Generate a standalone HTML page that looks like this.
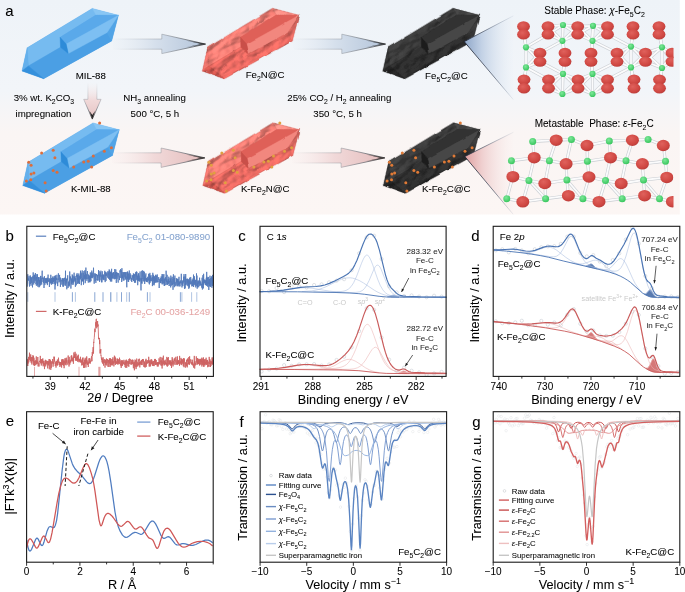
<!DOCTYPE html><html><head><meta charset="utf-8"><title>Figure</title><style>html,body{margin:0;padding:0;background:#fff;width:685px;height:592px;overflow:hidden;}svg{display:block;}</style></head><body><svg width="685" height="592" viewBox="0 0 685 592" font-family='&quot;Liberation Sans&quot;, Arial, sans-serif'>
<rect x="0" y="0" width="685" height="592" fill="#ffffff"/>
<defs><linearGradient id="bgA" x1="0" y1="0" x2="0" y2="1"><stop offset="0" stop-color="#eef3f8"/><stop offset="0.42" stop-color="#f2f5f9"/><stop offset="0.62" stop-color="#faf5f4"/><stop offset="1" stop-color="#fcf6f4"/></linearGradient><linearGradient id="arB" x1="0" y1="0" x2="1" y2="0"><stop offset="0" stop-color="#e8eef5" stop-opacity="0.2"/><stop offset="0.45" stop-color="#d6e0ec"/><stop offset="1" stop-color="#b3c4da"/></linearGradient><linearGradient id="arR" x1="0" y1="0" x2="1" y2="0"><stop offset="0" stop-color="#f8ecec" stop-opacity="0.2"/><stop offset="0.45" stop-color="#f1d9d9"/><stop offset="1" stop-color="#e4bcbc"/></linearGradient><linearGradient id="arEdge" x1="0" y1="0" x2="1" y2="0"><stop offset="0" stop-color="#8b9098" stop-opacity="0"/><stop offset="0.5" stop-color="#8b9098" stop-opacity="0.55"/><stop offset="0.75" stop-color="#6b7078" stop-opacity="0.9"/><stop offset="1" stop-color="#222" stop-opacity="1"/></linearGradient><linearGradient id="arEdgeV" x1="0" y1="0" x2="0" y2="1"><stop offset="0" stop-color="#8b9098" stop-opacity="0"/><stop offset="0.5" stop-color="#8b9098" stop-opacity="0.55"/><stop offset="0.75" stop-color="#6b7078" stop-opacity="0.9"/><stop offset="1" stop-color="#222" stop-opacity="1"/></linearGradient><linearGradient id="arV" x1="0" y1="0" x2="0" y2="1"><stop offset="0" stop-color="#f7eeee" stop-opacity="0"/><stop offset="0.5" stop-color="#f0d8d8"/><stop offset="1" stop-color="#e6c2c2"/></linearGradient><linearGradient id="coneB" x1="0" y1="0" x2="1" y2="0"><stop offset="0" stop-color="#8ea6c8"/><stop offset="0.35" stop-color="#c2d1e5"/><stop offset="1" stop-color="#eef3f9" stop-opacity="0.3"/></linearGradient><linearGradient id="coneR" x1="0" y1="0" x2="1" y2="0"><stop offset="0" stop-color="#dea0a0"/><stop offset="0.35" stop-color="#efcfcf"/><stop offset="1" stop-color="#fbf3f2" stop-opacity="0.3"/></linearGradient><radialGradient id="gR" cx="0.4" cy="0.35" r="0.7"><stop offset="0" stop-color="#e0615c"/><stop offset="0.7" stop-color="#cf4742"/><stop offset="1" stop-color="#b73c3a"/></radialGradient><radialGradient id="gG" cx="0.4" cy="0.35" r="0.7"><stop offset="0" stop-color="#7ee89a"/><stop offset="1" stop-color="#34c45a"/></radialGradient><filter id="bumpR" x="-5%" y="-5%" width="110%" height="110%" color-interpolation-filters="sRGB"><feTurbulence type="fractalNoise" baseFrequency="0.08 0.15" numOctaves="2" seed="7" result="n"/><feDiffuseLighting in="n" surfaceScale="3.5" lighting-color="#ffffff" diffuseConstant="1" result="l"><feDistantLight azimuth="235" elevation="50"/></feDiffuseLighting><feComposite in="SourceGraphic" in2="l" operator="arithmetic" k1="0.45" k2="0.7" k3="0" k4="0"/></filter><filter id="bumpSR" x="-5%" y="-5%" width="110%" height="110%" color-interpolation-filters="sRGB"><feTurbulence type="fractalNoise" baseFrequency="0.08 0.15" numOctaves="2" seed="7" result="n"/><feDiffuseLighting in="n" surfaceScale="2.1" lighting-color="#ffffff" diffuseConstant="1" result="l"><feDistantLight azimuth="235" elevation="50"/></feDiffuseLighting><feComposite in="SourceGraphic" in2="l" operator="arithmetic" k1="0.225" k2="0.82675" k3="0" k4="0"/></filter><filter id="bumpB" x="-5%" y="-5%" width="110%" height="110%" color-interpolation-filters="sRGB"><feTurbulence type="fractalNoise" baseFrequency="0.08 0.15" numOctaves="2" seed="9" result="n"/><feDiffuseLighting in="n" surfaceScale="3.5" lighting-color="#ffffff" diffuseConstant="1" result="l"><feDistantLight azimuth="235" elevation="50"/></feDiffuseLighting><feComposite in="SourceGraphic" in2="l" operator="arithmetic" k1="0.6" k2="0.58" k3="0" k4="0"/></filter><filter id="bumpSB" x="-5%" y="-5%" width="110%" height="110%" color-interpolation-filters="sRGB"><feTurbulence type="fractalNoise" baseFrequency="0.08 0.15" numOctaves="2" seed="9" result="n"/><feDiffuseLighting in="n" surfaceScale="2.1" lighting-color="#ffffff" diffuseConstant="1" result="l"><feDistantLight azimuth="235" elevation="50"/></feDiffuseLighting><feComposite in="SourceGraphic" in2="l" operator="arithmetic" k1="0.3" k2="0.769" k3="0" k4="0"/></filter><filter id="roughD" x="-5%" y="-5%" width="110%" height="110%"><feTurbulence type="fractalNoise" baseFrequency="0.08" numOctaves="2" seed="5" result="t"/><feDisplacementMap in="SourceGraphic" in2="t" scale="2.8" xChannelSelector="R" yChannelSelector="G"/></filter><linearGradient id="edgeB" gradientUnits="userSpaceOnUse" x1="464" y1="0" x2="514" y2="0"><stop offset="0" stop-color="#1c2230"/><stop offset="0.45" stop-color="#4a5466" stop-opacity="0.7"/><stop offset="1" stop-color="#8090a8" stop-opacity="0.1"/></linearGradient><linearGradient id="edgeB2" gradientUnits="userSpaceOnUse" x1="464" y1="0" x2="514" y2="0"><stop offset="0" stop-color="#1c2230"/><stop offset="0.6" stop-color="#4a5466" stop-opacity="0.8"/><stop offset="1" stop-color="#8090a8" stop-opacity="0.1"/></linearGradient><clipPath id="clipA"><rect x="0" y="0" width="685" height="214.5"/></clipPath><clipPath id="clipS1"><rect x="513" y="18" width="160.5" height="84"/></clipPath><clipPath id="clipS2"><rect x="500" y="128" width="173.5" height="86.5"/></clipPath></defs>
<rect x="0" y="0" width="679.8" height="214.5" fill="url(#bgA)"/>
<polygon points="112.9,39 161.8,39 161.8,34.2 205.6,44.1 161.8,53.6 161.8,49.2 112.9,49.2" fill="url(#arB)"/>
<polyline points="112.9,39 161.8,39 161.8,34.2 205.6,44.1 161.8,53.6 161.8,49.2 112.9,49.2" fill="none" stroke="url(#arEdge)" stroke-width="0.8" stroke-linejoin="miter"/>
<polygon points="186.8,40.7 205.6,44.1 186.8,47.1 201.6,44.1" fill="#222"/>
<polygon points="292.9,39 341.8,39 341.8,34.2 385.6,44.1 341.8,53.6 341.8,49.2 292.9,49.2" fill="url(#arB)"/>
<polyline points="292.9,39 341.8,39 341.8,34.2 385.6,44.1 341.8,53.6 341.8,49.2 292.9,49.2" fill="none" stroke="url(#arEdge)" stroke-width="0.8" stroke-linejoin="miter"/>
<polygon points="366.8,40.7 385.6,44.1 366.8,47.1 381.6,44.1" fill="#222"/>
<polygon points="112.2,152.8 161.1,152.8 161.1,148 204.9,157.9 161.1,167.4 161.1,163 112.2,163" fill="url(#arR)"/>
<polyline points="112.2,152.8 161.1,152.8 161.1,148 204.9,157.9 161.1,167.4 161.1,163 112.2,163" fill="none" stroke="url(#arEdge)" stroke-width="0.8" stroke-linejoin="miter"/>
<polygon points="186.1,154.5 204.9,157.9 186.1,160.9 200.9,157.9" fill="#222"/>
<polygon points="292.2,152.8 341.1,152.8 341.1,148 384.9,157.9 341.1,167.4 341.1,163 292.2,163" fill="url(#arR)"/>
<polyline points="292.2,152.8 341.1,152.8 341.1,148 384.9,157.9 341.1,167.4 341.1,163 292.2,163" fill="none" stroke="url(#arEdge)" stroke-width="0.8" stroke-linejoin="miter"/>
<polygon points="366.1,154.5 384.9,157.9 366.1,160.9 380.9,157.9" fill="#222"/>
<polygon points="87.9,82.4 96.9,82.4 96.9,99.3 101.1,99.3 92.3,119.1 83.7,99.3 87.9,99.3" fill="url(#arV)"/>
<polyline points="96.9,82.4 96.9,99.3 101.1,99.3 92.3,119.1 83.7,99.3 87.9,99.3 87.9,82.4" fill="none" stroke="url(#arEdgeV)" stroke-width="0.8"/>
<polygon points="89.5,111 92.3,119.1 95.1,111 92.3,115" fill="#222"/>
<g transform="translate(0 0)">
<polygon points="27.2,47.8 92.3,8.4 118.4,15.3 111.7,40.9 43.7,78.7 22,71" fill="#5aa9ea"/>
<polygon points="27.2,47.8 92.3,8.4 95.9,15.1 60.1,37.3 60.5,47.3 28.4,65.9" fill="#76bbf0" stroke="#76bbf0" stroke-width="0.4" stroke-linejoin="round"/>
<polygon points="28.4,65.9 60.5,47.3 68.3,53.6 107.1,32.5 111.7,40.9 43.7,78.7" fill="#4b9fe4" stroke="#4b9fe4" stroke-width="0.4" stroke-linejoin="round"/>
<polygon points="118.4,15.3 111.7,40.9 107.1,32.5" fill="#52a4e6" stroke="#52a4e6" stroke-width="0.4" stroke-linejoin="round"/>
<polygon points="92.3,8.4 118.4,15.3 95.9,15.1" fill="#88c6f4" stroke="#88c6f4" stroke-width="0.4" stroke-linejoin="round"/>
<polygon points="27.2,47.8 28.4,65.9 22,71" fill="#64b0ec" stroke="#64b0ec" stroke-width="0.4" stroke-linejoin="round"/>
<polygon points="22,71 28.4,65.9 43.7,78.7" fill="#3590dc" stroke="#3590dc" stroke-width="0.4" stroke-linejoin="round"/>
<polygon points="95.9,15.1 118.4,15.3 66.2,44.1 60.1,37.3" fill="#5aa9ea" stroke="#5aa9ea" stroke-width="0.4" stroke-linejoin="round"/>
<polygon points="118.4,15.3 107.1,32.5 68.3,53.6 66.2,44.1" fill="#7dbff2" stroke="#7dbff2" stroke-width="0.4" stroke-linejoin="round"/>
<polygon points="60.1,37.3 66.2,44.1 68.3,53.6 60.5,47.3" fill="#2e8bd8" stroke="#2e8bd8" stroke-width="0.4" stroke-linejoin="round"/>
</g>
<g transform="translate(180.5 0)">
<g filter="url(#roughD)">
<polygon points="27.2,47.8 92.3,8.4 118.4,15.3 111.7,40.9 43.7,78.7 22,71" fill="#df6159"/>
<g transform="rotate(-31 70 43)" filter="url(#bumpR)"><g transform="rotate(31 70 43)">
<polygon points="27.2,47.8 92.3,8.4 95.9,15.1 60.1,37.3 60.5,47.3 28.4,65.9" fill="#ee7b72" stroke="#ee7b72" stroke-width="0.4" stroke-linejoin="round"/>
<polygon points="28.4,65.9 60.5,47.3 68.3,53.6 107.1,32.5 111.7,40.9 43.7,78.7" fill="#e3675f" stroke="#e3675f" stroke-width="0.4" stroke-linejoin="round"/>
<polygon points="118.4,15.3 111.7,40.9 107.1,32.5" fill="#e06a62" stroke="#e06a62" stroke-width="0.4" stroke-linejoin="round"/>
<polygon points="92.3,8.4 118.4,15.3 95.9,15.1" fill="#f28a81" stroke="#f28a81" stroke-width="0.4" stroke-linejoin="round"/>
<polygon points="27.2,47.8 28.4,65.9 22,71" fill="#e9736b" stroke="#e9736b" stroke-width="0.4" stroke-linejoin="round"/>
<polygon points="22,71 28.4,65.9 43.7,78.7" fill="#d35850" stroke="#d35850" stroke-width="0.4" stroke-linejoin="round"/>
</g></g>
<polygon points="95.9,15.1 118.4,15.3 66.2,44.1 60.1,37.3" fill="#df6159" stroke="#df6159" stroke-width="0.4" stroke-linejoin="round"/>
<polygon points="118.4,15.3 107.1,32.5 68.3,53.6 66.2,44.1" fill="#f2877e" stroke="#f2877e" stroke-width="0.4" stroke-linejoin="round"/>
<polygon points="60.1,37.3 66.2,44.1 68.3,53.6 60.5,47.3" fill="#c9504a" stroke="#c9504a" stroke-width="0.4" stroke-linejoin="round"/>
</g>
</g>
<g transform="translate(361 0)">
<g filter="url(#roughD)">
<polygon points="27.2,47.8 92.3,8.4 118.4,15.3 111.7,40.9 43.7,78.7 22,71" fill="#303030"/>
<g transform="rotate(-31 70 43)" filter="url(#bumpB)"><g transform="rotate(31 70 43)">
<polygon points="27.2,47.8 92.3,8.4 95.9,15.1 60.1,37.3 60.5,47.3 28.4,65.9" fill="#3b3b3b" stroke="#3b3b3b" stroke-width="0.4" stroke-linejoin="round"/>
<polygon points="28.4,65.9 60.5,47.3 68.3,53.6 107.1,32.5 111.7,40.9 43.7,78.7" fill="#2e2e2e" stroke="#2e2e2e" stroke-width="0.4" stroke-linejoin="round"/>
<polygon points="118.4,15.3 111.7,40.9 107.1,32.5" fill="#363636" stroke="#363636" stroke-width="0.4" stroke-linejoin="round"/>
<polygon points="92.3,8.4 118.4,15.3 95.9,15.1" fill="#444444" stroke="#444444" stroke-width="0.4" stroke-linejoin="round"/>
<polygon points="27.2,47.8 28.4,65.9 22,71" fill="#353535" stroke="#353535" stroke-width="0.4" stroke-linejoin="round"/>
<polygon points="22,71 28.4,65.9 43.7,78.7" fill="#252525" stroke="#252525" stroke-width="0.4" stroke-linejoin="round"/>
</g></g>
<polygon points="95.9,15.1 118.4,15.3 66.2,44.1 60.1,37.3" fill="#303030" stroke="#303030" stroke-width="0.4" stroke-linejoin="round"/>
<polygon points="118.4,15.3 107.1,32.5 68.3,53.6 66.2,44.1" fill="#474747" stroke="#474747" stroke-width="0.4" stroke-linejoin="round"/>
<polygon points="60.1,37.3 66.2,44.1 68.3,53.6 60.5,47.3" fill="#1f1f1f" stroke="#1f1f1f" stroke-width="0.4" stroke-linejoin="round"/>
</g>
</g>
<g transform="translate(0.8 114.5)">
<polygon points="27.2,47.8 92.3,8.4 118.4,15.3 111.7,40.9 43.7,78.7 22,71" fill="#5aa9ea"/>
<polygon points="27.2,47.8 92.3,8.4 95.9,15.1 60.1,37.3 60.5,47.3 28.4,65.9" fill="#76bbf0" stroke="#76bbf0" stroke-width="0.4" stroke-linejoin="round"/>
<polygon points="28.4,65.9 60.5,47.3 68.3,53.6 107.1,32.5 111.7,40.9 43.7,78.7" fill="#4b9fe4" stroke="#4b9fe4" stroke-width="0.4" stroke-linejoin="round"/>
<polygon points="118.4,15.3 111.7,40.9 107.1,32.5" fill="#52a4e6" stroke="#52a4e6" stroke-width="0.4" stroke-linejoin="round"/>
<polygon points="92.3,8.4 118.4,15.3 95.9,15.1" fill="#88c6f4" stroke="#88c6f4" stroke-width="0.4" stroke-linejoin="round"/>
<polygon points="27.2,47.8 28.4,65.9 22,71" fill="#64b0ec" stroke="#64b0ec" stroke-width="0.4" stroke-linejoin="round"/>
<polygon points="22,71 28.4,65.9 43.7,78.7" fill="#3590dc" stroke="#3590dc" stroke-width="0.4" stroke-linejoin="round"/>
<polygon points="95.9,15.1 118.4,15.3 66.2,44.1 60.1,37.3" fill="#5aa9ea" stroke="#5aa9ea" stroke-width="0.4" stroke-linejoin="round"/>
<polygon points="118.4,15.3 107.1,32.5 68.3,53.6 66.2,44.1" fill="#7dbff2" stroke="#7dbff2" stroke-width="0.4" stroke-linejoin="round"/>
<polygon points="60.1,37.3 66.2,44.1 68.3,53.6 60.5,47.3" fill="#2e8bd8" stroke="#2e8bd8" stroke-width="0.4" stroke-linejoin="round"/>
<circle cx="40.8" cy="38.4" r="1.5" fill="#dc6d3c"/>
<circle cx="52.4" cy="35.8" r="1.5" fill="#dc6d3c"/>
<circle cx="54.1" cy="43.2" r="1.5" fill="#dc6d3c"/>
<circle cx="27.9" cy="47.7" r="1.5" fill="#dc6d3c"/>
<circle cx="30.3" cy="50.7" r="1.5" fill="#dc6d3c"/>
<circle cx="30.3" cy="59.4" r="1.5" fill="#dc6d3c"/>
<circle cx="33.1" cy="58.6" r="1.5" fill="#dc6d3c"/>
<circle cx="25.6" cy="66.5" r="1.5" fill="#dc6d3c"/>
<circle cx="30" cy="65.2" r="1.5" fill="#dc6d3c"/>
<circle cx="52.4" cy="55.9" r="1.5" fill="#dc6d3c"/>
<circle cx="56.2" cy="57.7" r="1.5" fill="#dc6d3c"/>
<circle cx="44.3" cy="68.2" r="1.5" fill="#dc6d3c"/>
<circle cx="45.4" cy="76.4" r="1.5" fill="#dc6d3c"/>
<circle cx="72.9" cy="52.4" r="1.5" fill="#dc6d3c"/>
<circle cx="82.9" cy="47.5" r="1.5" fill="#dc6d3c"/>
<circle cx="87.4" cy="46.8" r="1.5" fill="#dc6d3c"/>
<circle cx="92.5" cy="41.4" r="1.5" fill="#dc6d3c"/>
<circle cx="90.8" cy="52.4" r="1.5" fill="#dc6d3c"/>
<circle cx="103.5" cy="36.7" r="1.5" fill="#dc6d3c"/>
<circle cx="110.6" cy="33.2" r="1.5" fill="#dc6d3c"/>
<circle cx="98.8" cy="8.6" r="1.5" fill="#dc6d3c"/>
</g>
<g transform="translate(181 114.5)">
<g filter="url(#roughD)">
<polygon points="27.2,47.8 92.3,8.4 118.4,15.3 111.7,40.9 43.7,78.7 22,71" fill="#df6159"/>
<g transform="rotate(-31 70 43)" filter="url(#bumpR)"><g transform="rotate(31 70 43)">
<polygon points="27.2,47.8 92.3,8.4 95.9,15.1 60.1,37.3 60.5,47.3 28.4,65.9" fill="#ee7b72" stroke="#ee7b72" stroke-width="0.4" stroke-linejoin="round"/>
<polygon points="28.4,65.9 60.5,47.3 68.3,53.6 107.1,32.5 111.7,40.9 43.7,78.7" fill="#e3675f" stroke="#e3675f" stroke-width="0.4" stroke-linejoin="round"/>
<polygon points="118.4,15.3 111.7,40.9 107.1,32.5" fill="#e06a62" stroke="#e06a62" stroke-width="0.4" stroke-linejoin="round"/>
<polygon points="92.3,8.4 118.4,15.3 95.9,15.1" fill="#f28a81" stroke="#f28a81" stroke-width="0.4" stroke-linejoin="round"/>
<polygon points="27.2,47.8 28.4,65.9 22,71" fill="#e9736b" stroke="#e9736b" stroke-width="0.4" stroke-linejoin="round"/>
<polygon points="22,71 28.4,65.9 43.7,78.7" fill="#d35850" stroke="#d35850" stroke-width="0.4" stroke-linejoin="round"/>
</g></g>
<polygon points="95.9,15.1 118.4,15.3 66.2,44.1 60.1,37.3" fill="#df6159" stroke="#df6159" stroke-width="0.4" stroke-linejoin="round"/>
<polygon points="118.4,15.3 107.1,32.5 68.3,53.6 66.2,44.1" fill="#f2877e" stroke="#f2877e" stroke-width="0.4" stroke-linejoin="round"/>
<polygon points="60.1,37.3 66.2,44.1 68.3,53.6 60.5,47.3" fill="#c9504a" stroke="#c9504a" stroke-width="0.4" stroke-linejoin="round"/>
</g>
<circle cx="40.8" cy="38.4" r="1.5" fill="#e0a040"/>
<circle cx="52.4" cy="35.8" r="1.5" fill="#e0a040"/>
<circle cx="54.1" cy="43.2" r="1.5" fill="#e0a040"/>
<circle cx="27.9" cy="47.7" r="1.5" fill="#e0a040"/>
<circle cx="30.3" cy="50.7" r="1.5" fill="#e0a040"/>
<circle cx="30.3" cy="59.4" r="1.5" fill="#e0a040"/>
<circle cx="33.1" cy="58.6" r="1.5" fill="#e0a040"/>
<circle cx="25.6" cy="66.5" r="1.5" fill="#e0a040"/>
<circle cx="30" cy="65.2" r="1.5" fill="#e0a040"/>
<circle cx="52.4" cy="55.9" r="1.5" fill="#e0a040"/>
<circle cx="56.2" cy="57.7" r="1.5" fill="#e0a040"/>
<circle cx="44.3" cy="68.2" r="1.5" fill="#e0a040"/>
<circle cx="45.4" cy="76.4" r="1.5" fill="#e0a040"/>
<circle cx="72.9" cy="52.4" r="1.5" fill="#e0a040"/>
<circle cx="82.9" cy="47.5" r="1.5" fill="#e0a040"/>
<circle cx="87.4" cy="46.8" r="1.5" fill="#e0a040"/>
<circle cx="92.5" cy="41.4" r="1.5" fill="#e0a040"/>
<circle cx="90.8" cy="52.4" r="1.5" fill="#e0a040"/>
<circle cx="103.5" cy="36.7" r="1.5" fill="#e0a040"/>
<circle cx="110.6" cy="33.2" r="1.5" fill="#e0a040"/>
<circle cx="98.8" cy="8.6" r="1.5" fill="#e0a040"/>
</g>
<g transform="translate(361.5 114.5)">
<g filter="url(#roughD)">
<polygon points="27.2,47.8 92.3,8.4 118.4,15.3 111.7,40.9 43.7,78.7 22,71" fill="#303030"/>
<g transform="rotate(-31 70 43)" filter="url(#bumpB)"><g transform="rotate(31 70 43)">
<polygon points="27.2,47.8 92.3,8.4 95.9,15.1 60.1,37.3 60.5,47.3 28.4,65.9" fill="#3b3b3b" stroke="#3b3b3b" stroke-width="0.4" stroke-linejoin="round"/>
<polygon points="28.4,65.9 60.5,47.3 68.3,53.6 107.1,32.5 111.7,40.9 43.7,78.7" fill="#2e2e2e" stroke="#2e2e2e" stroke-width="0.4" stroke-linejoin="round"/>
<polygon points="118.4,15.3 111.7,40.9 107.1,32.5" fill="#363636" stroke="#363636" stroke-width="0.4" stroke-linejoin="round"/>
<polygon points="92.3,8.4 118.4,15.3 95.9,15.1" fill="#444444" stroke="#444444" stroke-width="0.4" stroke-linejoin="round"/>
<polygon points="27.2,47.8 28.4,65.9 22,71" fill="#353535" stroke="#353535" stroke-width="0.4" stroke-linejoin="round"/>
<polygon points="22,71 28.4,65.9 43.7,78.7" fill="#252525" stroke="#252525" stroke-width="0.4" stroke-linejoin="round"/>
</g></g>
<polygon points="95.9,15.1 118.4,15.3 66.2,44.1 60.1,37.3" fill="#303030" stroke="#303030" stroke-width="0.4" stroke-linejoin="round"/>
<polygon points="118.4,15.3 107.1,32.5 68.3,53.6 66.2,44.1" fill="#474747" stroke="#474747" stroke-width="0.4" stroke-linejoin="round"/>
<polygon points="60.1,37.3 66.2,44.1 68.3,53.6 60.5,47.3" fill="#1f1f1f" stroke="#1f1f1f" stroke-width="0.4" stroke-linejoin="round"/>
</g>
<circle cx="40.8" cy="38.4" r="1.5" fill="#e07a36"/>
<circle cx="52.4" cy="35.8" r="1.5" fill="#e07a36"/>
<circle cx="54.1" cy="43.2" r="1.5" fill="#e07a36"/>
<circle cx="27.9" cy="47.7" r="1.5" fill="#e07a36"/>
<circle cx="30.3" cy="50.7" r="1.5" fill="#e07a36"/>
<circle cx="30.3" cy="59.4" r="1.5" fill="#e07a36"/>
<circle cx="33.1" cy="58.6" r="1.5" fill="#e07a36"/>
<circle cx="25.6" cy="66.5" r="1.5" fill="#e07a36"/>
<circle cx="30" cy="65.2" r="1.5" fill="#e07a36"/>
<circle cx="52.4" cy="55.9" r="1.5" fill="#e07a36"/>
<circle cx="56.2" cy="57.7" r="1.5" fill="#e07a36"/>
<circle cx="44.3" cy="68.2" r="1.5" fill="#e07a36"/>
<circle cx="45.4" cy="76.4" r="1.5" fill="#e07a36"/>
<circle cx="72.9" cy="52.4" r="1.5" fill="#e07a36"/>
<circle cx="82.9" cy="47.5" r="1.5" fill="#e07a36"/>
<circle cx="87.4" cy="46.8" r="1.5" fill="#e07a36"/>
<circle cx="92.5" cy="41.4" r="1.5" fill="#e07a36"/>
<circle cx="90.8" cy="52.4" r="1.5" fill="#e07a36"/>
<circle cx="103.5" cy="36.7" r="1.5" fill="#e07a36"/>
<circle cx="110.6" cy="33.2" r="1.5" fill="#e07a36"/>
<circle cx="98.8" cy="8.6" r="1.5" fill="#e07a36"/>
</g>
<g clip-path="url(#clipA)">
<polygon points="464.2,41.6 513.4,15.8 513.4,99.7" fill="url(#coneB)"/>
<line x1="464.2" y1="41.6" x2="513.4" y2="15.8" stroke="url(#edgeB)" stroke-width="0.9"/>
<line x1="464.2" y1="41.6" x2="513.4" y2="99.7" stroke="url(#edgeB2)" stroke-width="0.9"/>
<polygon points="464.8,156.5 513.5,132.2 513.5,214.7" fill="url(#coneR)"/>
<line x1="464.8" y1="156.5" x2="513.5" y2="132.2" stroke="url(#edgeB)" stroke-width="0.9"/>
<line x1="464.8" y1="156.5" x2="513.5" y2="214.7" stroke="url(#edgeB2)" stroke-width="0.9"/>
</g>
<g clip-path="url(#clipS1)">
<line x1="523.5" y1="26.5" x2="526" y2="47.3" stroke="#c9cdd2" stroke-width="3"/>
<line x1="523.5" y1="34.4" x2="526" y2="47.3" stroke="#c9cdd2" stroke-width="3"/>
<line x1="548" y1="26.5" x2="563" y2="25" stroke="#c9cdd2" stroke-width="3"/>
<line x1="548" y1="26.5" x2="562.4" y2="40.8" stroke="#c9cdd2" stroke-width="3"/>
<line x1="548" y1="34.4" x2="563" y2="25" stroke="#c9cdd2" stroke-width="3"/>
<line x1="548" y1="34.4" x2="526" y2="47.3" stroke="#c9cdd2" stroke-width="3"/>
<line x1="548" y1="34.4" x2="562.4" y2="40.8" stroke="#c9cdd2" stroke-width="3"/>
<line x1="577.7" y1="26.5" x2="563" y2="25" stroke="#c9cdd2" stroke-width="3"/>
<line x1="577.7" y1="26.5" x2="593" y2="25.8" stroke="#c9cdd2" stroke-width="3"/>
<line x1="577.7" y1="26.5" x2="562.4" y2="40.8" stroke="#c9cdd2" stroke-width="3"/>
<line x1="577.7" y1="26.5" x2="592.5" y2="40.8" stroke="#c9cdd2" stroke-width="3"/>
<line x1="577.7" y1="34.4" x2="563" y2="25" stroke="#c9cdd2" stroke-width="3"/>
<line x1="577.7" y1="34.4" x2="593" y2="25.8" stroke="#c9cdd2" stroke-width="3"/>
<line x1="577.7" y1="34.4" x2="562.4" y2="40.8" stroke="#c9cdd2" stroke-width="3"/>
<line x1="577.7" y1="34.4" x2="592.5" y2="40.8" stroke="#c9cdd2" stroke-width="3"/>
<line x1="607.5" y1="26.5" x2="593" y2="25.8" stroke="#c9cdd2" stroke-width="3"/>
<line x1="607.5" y1="26.5" x2="592.5" y2="40.8" stroke="#c9cdd2" stroke-width="3"/>
<line x1="607.5" y1="34.4" x2="593" y2="25.8" stroke="#c9cdd2" stroke-width="3"/>
<line x1="607.5" y1="34.4" x2="592.5" y2="40.8" stroke="#c9cdd2" stroke-width="3"/>
<line x1="607.5" y1="34.4" x2="631" y2="46.6" stroke="#c9cdd2" stroke-width="3"/>
<line x1="633" y1="26.5" x2="631" y2="46.6" stroke="#c9cdd2" stroke-width="3"/>
<line x1="633" y1="34.4" x2="631" y2="46.6" stroke="#c9cdd2" stroke-width="3"/>
<line x1="659" y1="26.5" x2="662" y2="47.3" stroke="#c9cdd2" stroke-width="3"/>
<line x1="659" y1="34.4" x2="662" y2="47.3" stroke="#c9cdd2" stroke-width="3"/>
<line x1="540" y1="53" x2="526" y2="47.3" stroke="#c9cdd2" stroke-width="3"/>
<line x1="540" y1="53" x2="562.4" y2="40.8" stroke="#c9cdd2" stroke-width="3"/>
<line x1="540" y1="53" x2="526" y2="67.4" stroke="#c9cdd2" stroke-width="3"/>
<line x1="540" y1="61.6" x2="526" y2="47.3" stroke="#c9cdd2" stroke-width="3"/>
<line x1="540" y1="61.6" x2="526" y2="67.4" stroke="#c9cdd2" stroke-width="3"/>
<line x1="540" y1="61.6" x2="563" y2="73.9" stroke="#c9cdd2" stroke-width="3"/>
<line x1="565" y1="53" x2="562.4" y2="40.8" stroke="#c9cdd2" stroke-width="3"/>
<line x1="565" y1="53" x2="563" y2="73.9" stroke="#c9cdd2" stroke-width="3"/>
<line x1="565" y1="61.6" x2="562.4" y2="40.8" stroke="#c9cdd2" stroke-width="3"/>
<line x1="565" y1="61.6" x2="563" y2="73.9" stroke="#c9cdd2" stroke-width="3"/>
<line x1="591" y1="53" x2="593" y2="25.8" stroke="#c9cdd2" stroke-width="3"/>
<line x1="591" y1="53" x2="592.5" y2="40.8" stroke="#c9cdd2" stroke-width="3"/>
<line x1="591" y1="53" x2="592.5" y2="73.9" stroke="#c9cdd2" stroke-width="3"/>
<line x1="591" y1="61.6" x2="592.5" y2="40.8" stroke="#c9cdd2" stroke-width="3"/>
<line x1="591" y1="61.6" x2="592.5" y2="73.9" stroke="#c9cdd2" stroke-width="3"/>
<line x1="617" y1="53" x2="592.5" y2="40.8" stroke="#c9cdd2" stroke-width="3"/>
<line x1="617" y1="53" x2="631" y2="46.6" stroke="#c9cdd2" stroke-width="3"/>
<line x1="617" y1="53" x2="631" y2="67.4" stroke="#c9cdd2" stroke-width="3"/>
<line x1="617" y1="61.6" x2="631" y2="46.6" stroke="#c9cdd2" stroke-width="3"/>
<line x1="617" y1="61.6" x2="592.5" y2="73.9" stroke="#c9cdd2" stroke-width="3"/>
<line x1="617" y1="61.6" x2="631" y2="67.4" stroke="#c9cdd2" stroke-width="3"/>
<line x1="645.5" y1="53" x2="631" y2="46.6" stroke="#c9cdd2" stroke-width="3"/>
<line x1="645.5" y1="53" x2="662" y2="47.3" stroke="#c9cdd2" stroke-width="3"/>
<line x1="645.5" y1="53" x2="631" y2="67.4" stroke="#c9cdd2" stroke-width="3"/>
<line x1="645.5" y1="53" x2="662" y2="68" stroke="#c9cdd2" stroke-width="3"/>
<line x1="645.5" y1="61.6" x2="631" y2="46.6" stroke="#c9cdd2" stroke-width="3"/>
<line x1="645.5" y1="61.6" x2="662" y2="47.3" stroke="#c9cdd2" stroke-width="3"/>
<line x1="645.5" y1="61.6" x2="631" y2="67.4" stroke="#c9cdd2" stroke-width="3"/>
<line x1="645.5" y1="61.6" x2="662" y2="68" stroke="#c9cdd2" stroke-width="3"/>
<line x1="672" y1="53" x2="662" y2="47.3" stroke="#c9cdd2" stroke-width="3"/>
<line x1="672" y1="53" x2="662" y2="68" stroke="#c9cdd2" stroke-width="3"/>
<line x1="672" y1="61.6" x2="662" y2="47.3" stroke="#c9cdd2" stroke-width="3"/>
<line x1="672" y1="61.6" x2="662" y2="68" stroke="#c9cdd2" stroke-width="3"/>
<line x1="524" y1="79.6" x2="526" y2="67.4" stroke="#c9cdd2" stroke-width="3"/>
<line x1="524" y1="88.2" x2="526" y2="67.4" stroke="#c9cdd2" stroke-width="3"/>
<line x1="548.5" y1="79.6" x2="526" y2="67.4" stroke="#c9cdd2" stroke-width="3"/>
<line x1="548.5" y1="79.6" x2="563" y2="73.9" stroke="#c9cdd2" stroke-width="3"/>
<line x1="548.5" y1="79.6" x2="562.4" y2="94" stroke="#c9cdd2" stroke-width="3"/>
<line x1="548.5" y1="88.2" x2="563" y2="73.9" stroke="#c9cdd2" stroke-width="3"/>
<line x1="548.5" y1="88.2" x2="562.4" y2="94" stroke="#c9cdd2" stroke-width="3"/>
<line x1="578" y1="79.6" x2="563" y2="73.9" stroke="#c9cdd2" stroke-width="3"/>
<line x1="578" y1="79.6" x2="592.5" y2="73.9" stroke="#c9cdd2" stroke-width="3"/>
<line x1="578" y1="79.6" x2="562.4" y2="94" stroke="#c9cdd2" stroke-width="3"/>
<line x1="578" y1="79.6" x2="592.5" y2="94" stroke="#c9cdd2" stroke-width="3"/>
<line x1="578" y1="88.2" x2="563" y2="73.9" stroke="#c9cdd2" stroke-width="3"/>
<line x1="578" y1="88.2" x2="592.5" y2="73.9" stroke="#c9cdd2" stroke-width="3"/>
<line x1="578" y1="88.2" x2="562.4" y2="94" stroke="#c9cdd2" stroke-width="3"/>
<line x1="578" y1="88.2" x2="592.5" y2="94" stroke="#c9cdd2" stroke-width="3"/>
<line x1="607.5" y1="79.6" x2="592.5" y2="73.9" stroke="#c9cdd2" stroke-width="3"/>
<line x1="607.5" y1="79.6" x2="631" y2="67.4" stroke="#c9cdd2" stroke-width="3"/>
<line x1="607.5" y1="79.6" x2="592.5" y2="94" stroke="#c9cdd2" stroke-width="3"/>
<line x1="607.5" y1="88.2" x2="592.5" y2="73.9" stroke="#c9cdd2" stroke-width="3"/>
<line x1="607.5" y1="88.2" x2="592.5" y2="94" stroke="#c9cdd2" stroke-width="3"/>
<line x1="634" y1="79.6" x2="631" y2="67.4" stroke="#c9cdd2" stroke-width="3"/>
<line x1="634" y1="88.2" x2="631" y2="67.4" stroke="#c9cdd2" stroke-width="3"/>
<line x1="659.5" y1="79.6" x2="662" y2="68" stroke="#c9cdd2" stroke-width="3"/>
<line x1="659.5" y1="88.2" x2="662" y2="68" stroke="#c9cdd2" stroke-width="3"/>
<line x1="563" y1="25" x2="562.4" y2="40.8" stroke="#c9cdd2" stroke-width="3"/>
<line x1="593" y1="25.8" x2="592.5" y2="40.8" stroke="#c9cdd2" stroke-width="3"/>
<line x1="526" y1="47.3" x2="526" y2="67.4" stroke="#c9cdd2" stroke-width="3"/>
<line x1="631" y1="46.6" x2="631" y2="67.4" stroke="#c9cdd2" stroke-width="3"/>
<line x1="662" y1="47.3" x2="662" y2="68" stroke="#c9cdd2" stroke-width="3"/>
<line x1="563" y1="73.9" x2="562.4" y2="94" stroke="#c9cdd2" stroke-width="3"/>
<line x1="592.5" y1="73.9" x2="592.5" y2="94" stroke="#c9cdd2" stroke-width="3"/>
<line x1="523.5" y1="26.5" x2="526" y2="47.3" stroke="#fbfbfc" stroke-width="1.8"/>
<line x1="523.5" y1="34.4" x2="526" y2="47.3" stroke="#fbfbfc" stroke-width="1.8"/>
<line x1="548" y1="26.5" x2="563" y2="25" stroke="#fbfbfc" stroke-width="1.8"/>
<line x1="548" y1="26.5" x2="562.4" y2="40.8" stroke="#fbfbfc" stroke-width="1.8"/>
<line x1="548" y1="34.4" x2="563" y2="25" stroke="#fbfbfc" stroke-width="1.8"/>
<line x1="548" y1="34.4" x2="526" y2="47.3" stroke="#fbfbfc" stroke-width="1.8"/>
<line x1="548" y1="34.4" x2="562.4" y2="40.8" stroke="#fbfbfc" stroke-width="1.8"/>
<line x1="577.7" y1="26.5" x2="563" y2="25" stroke="#fbfbfc" stroke-width="1.8"/>
<line x1="577.7" y1="26.5" x2="593" y2="25.8" stroke="#fbfbfc" stroke-width="1.8"/>
<line x1="577.7" y1="26.5" x2="562.4" y2="40.8" stroke="#fbfbfc" stroke-width="1.8"/>
<line x1="577.7" y1="26.5" x2="592.5" y2="40.8" stroke="#fbfbfc" stroke-width="1.8"/>
<line x1="577.7" y1="34.4" x2="563" y2="25" stroke="#fbfbfc" stroke-width="1.8"/>
<line x1="577.7" y1="34.4" x2="593" y2="25.8" stroke="#fbfbfc" stroke-width="1.8"/>
<line x1="577.7" y1="34.4" x2="562.4" y2="40.8" stroke="#fbfbfc" stroke-width="1.8"/>
<line x1="577.7" y1="34.4" x2="592.5" y2="40.8" stroke="#fbfbfc" stroke-width="1.8"/>
<line x1="607.5" y1="26.5" x2="593" y2="25.8" stroke="#fbfbfc" stroke-width="1.8"/>
<line x1="607.5" y1="26.5" x2="592.5" y2="40.8" stroke="#fbfbfc" stroke-width="1.8"/>
<line x1="607.5" y1="34.4" x2="593" y2="25.8" stroke="#fbfbfc" stroke-width="1.8"/>
<line x1="607.5" y1="34.4" x2="592.5" y2="40.8" stroke="#fbfbfc" stroke-width="1.8"/>
<line x1="607.5" y1="34.4" x2="631" y2="46.6" stroke="#fbfbfc" stroke-width="1.8"/>
<line x1="633" y1="26.5" x2="631" y2="46.6" stroke="#fbfbfc" stroke-width="1.8"/>
<line x1="633" y1="34.4" x2="631" y2="46.6" stroke="#fbfbfc" stroke-width="1.8"/>
<line x1="659" y1="26.5" x2="662" y2="47.3" stroke="#fbfbfc" stroke-width="1.8"/>
<line x1="659" y1="34.4" x2="662" y2="47.3" stroke="#fbfbfc" stroke-width="1.8"/>
<line x1="540" y1="53" x2="526" y2="47.3" stroke="#fbfbfc" stroke-width="1.8"/>
<line x1="540" y1="53" x2="562.4" y2="40.8" stroke="#fbfbfc" stroke-width="1.8"/>
<line x1="540" y1="53" x2="526" y2="67.4" stroke="#fbfbfc" stroke-width="1.8"/>
<line x1="540" y1="61.6" x2="526" y2="47.3" stroke="#fbfbfc" stroke-width="1.8"/>
<line x1="540" y1="61.6" x2="526" y2="67.4" stroke="#fbfbfc" stroke-width="1.8"/>
<line x1="540" y1="61.6" x2="563" y2="73.9" stroke="#fbfbfc" stroke-width="1.8"/>
<line x1="565" y1="53" x2="562.4" y2="40.8" stroke="#fbfbfc" stroke-width="1.8"/>
<line x1="565" y1="53" x2="563" y2="73.9" stroke="#fbfbfc" stroke-width="1.8"/>
<line x1="565" y1="61.6" x2="562.4" y2="40.8" stroke="#fbfbfc" stroke-width="1.8"/>
<line x1="565" y1="61.6" x2="563" y2="73.9" stroke="#fbfbfc" stroke-width="1.8"/>
<line x1="591" y1="53" x2="593" y2="25.8" stroke="#fbfbfc" stroke-width="1.8"/>
<line x1="591" y1="53" x2="592.5" y2="40.8" stroke="#fbfbfc" stroke-width="1.8"/>
<line x1="591" y1="53" x2="592.5" y2="73.9" stroke="#fbfbfc" stroke-width="1.8"/>
<line x1="591" y1="61.6" x2="592.5" y2="40.8" stroke="#fbfbfc" stroke-width="1.8"/>
<line x1="591" y1="61.6" x2="592.5" y2="73.9" stroke="#fbfbfc" stroke-width="1.8"/>
<line x1="617" y1="53" x2="592.5" y2="40.8" stroke="#fbfbfc" stroke-width="1.8"/>
<line x1="617" y1="53" x2="631" y2="46.6" stroke="#fbfbfc" stroke-width="1.8"/>
<line x1="617" y1="53" x2="631" y2="67.4" stroke="#fbfbfc" stroke-width="1.8"/>
<line x1="617" y1="61.6" x2="631" y2="46.6" stroke="#fbfbfc" stroke-width="1.8"/>
<line x1="617" y1="61.6" x2="592.5" y2="73.9" stroke="#fbfbfc" stroke-width="1.8"/>
<line x1="617" y1="61.6" x2="631" y2="67.4" stroke="#fbfbfc" stroke-width="1.8"/>
<line x1="645.5" y1="53" x2="631" y2="46.6" stroke="#fbfbfc" stroke-width="1.8"/>
<line x1="645.5" y1="53" x2="662" y2="47.3" stroke="#fbfbfc" stroke-width="1.8"/>
<line x1="645.5" y1="53" x2="631" y2="67.4" stroke="#fbfbfc" stroke-width="1.8"/>
<line x1="645.5" y1="53" x2="662" y2="68" stroke="#fbfbfc" stroke-width="1.8"/>
<line x1="645.5" y1="61.6" x2="631" y2="46.6" stroke="#fbfbfc" stroke-width="1.8"/>
<line x1="645.5" y1="61.6" x2="662" y2="47.3" stroke="#fbfbfc" stroke-width="1.8"/>
<line x1="645.5" y1="61.6" x2="631" y2="67.4" stroke="#fbfbfc" stroke-width="1.8"/>
<line x1="645.5" y1="61.6" x2="662" y2="68" stroke="#fbfbfc" stroke-width="1.8"/>
<line x1="672" y1="53" x2="662" y2="47.3" stroke="#fbfbfc" stroke-width="1.8"/>
<line x1="672" y1="53" x2="662" y2="68" stroke="#fbfbfc" stroke-width="1.8"/>
<line x1="672" y1="61.6" x2="662" y2="47.3" stroke="#fbfbfc" stroke-width="1.8"/>
<line x1="672" y1="61.6" x2="662" y2="68" stroke="#fbfbfc" stroke-width="1.8"/>
<line x1="524" y1="79.6" x2="526" y2="67.4" stroke="#fbfbfc" stroke-width="1.8"/>
<line x1="524" y1="88.2" x2="526" y2="67.4" stroke="#fbfbfc" stroke-width="1.8"/>
<line x1="548.5" y1="79.6" x2="526" y2="67.4" stroke="#fbfbfc" stroke-width="1.8"/>
<line x1="548.5" y1="79.6" x2="563" y2="73.9" stroke="#fbfbfc" stroke-width="1.8"/>
<line x1="548.5" y1="79.6" x2="562.4" y2="94" stroke="#fbfbfc" stroke-width="1.8"/>
<line x1="548.5" y1="88.2" x2="563" y2="73.9" stroke="#fbfbfc" stroke-width="1.8"/>
<line x1="548.5" y1="88.2" x2="562.4" y2="94" stroke="#fbfbfc" stroke-width="1.8"/>
<line x1="578" y1="79.6" x2="563" y2="73.9" stroke="#fbfbfc" stroke-width="1.8"/>
<line x1="578" y1="79.6" x2="592.5" y2="73.9" stroke="#fbfbfc" stroke-width="1.8"/>
<line x1="578" y1="79.6" x2="562.4" y2="94" stroke="#fbfbfc" stroke-width="1.8"/>
<line x1="578" y1="79.6" x2="592.5" y2="94" stroke="#fbfbfc" stroke-width="1.8"/>
<line x1="578" y1="88.2" x2="563" y2="73.9" stroke="#fbfbfc" stroke-width="1.8"/>
<line x1="578" y1="88.2" x2="592.5" y2="73.9" stroke="#fbfbfc" stroke-width="1.8"/>
<line x1="578" y1="88.2" x2="562.4" y2="94" stroke="#fbfbfc" stroke-width="1.8"/>
<line x1="578" y1="88.2" x2="592.5" y2="94" stroke="#fbfbfc" stroke-width="1.8"/>
<line x1="607.5" y1="79.6" x2="592.5" y2="73.9" stroke="#fbfbfc" stroke-width="1.8"/>
<line x1="607.5" y1="79.6" x2="631" y2="67.4" stroke="#fbfbfc" stroke-width="1.8"/>
<line x1="607.5" y1="79.6" x2="592.5" y2="94" stroke="#fbfbfc" stroke-width="1.8"/>
<line x1="607.5" y1="88.2" x2="592.5" y2="73.9" stroke="#fbfbfc" stroke-width="1.8"/>
<line x1="607.5" y1="88.2" x2="592.5" y2="94" stroke="#fbfbfc" stroke-width="1.8"/>
<line x1="634" y1="79.6" x2="631" y2="67.4" stroke="#fbfbfc" stroke-width="1.8"/>
<line x1="634" y1="88.2" x2="631" y2="67.4" stroke="#fbfbfc" stroke-width="1.8"/>
<line x1="659.5" y1="79.6" x2="662" y2="68" stroke="#fbfbfc" stroke-width="1.8"/>
<line x1="659.5" y1="88.2" x2="662" y2="68" stroke="#fbfbfc" stroke-width="1.8"/>
<line x1="563" y1="25" x2="562.4" y2="40.8" stroke="#fbfbfc" stroke-width="1.8"/>
<line x1="593" y1="25.8" x2="592.5" y2="40.8" stroke="#fbfbfc" stroke-width="1.8"/>
<line x1="526" y1="47.3" x2="526" y2="67.4" stroke="#fbfbfc" stroke-width="1.8"/>
<line x1="631" y1="46.6" x2="631" y2="67.4" stroke="#fbfbfc" stroke-width="1.8"/>
<line x1="662" y1="47.3" x2="662" y2="68" stroke="#fbfbfc" stroke-width="1.8"/>
<line x1="563" y1="73.9" x2="562.4" y2="94" stroke="#fbfbfc" stroke-width="1.8"/>
<line x1="592.5" y1="73.9" x2="592.5" y2="94" stroke="#fbfbfc" stroke-width="1.8"/>
<circle cx="563" cy="25" r="3.1" fill="url(#gG)"/>
<circle cx="593" cy="25.8" r="3.1" fill="url(#gG)"/>
<circle cx="526" cy="47.3" r="3.1" fill="url(#gG)"/>
<circle cx="562.4" cy="40.8" r="3.1" fill="url(#gG)"/>
<circle cx="592.5" cy="40.8" r="3.1" fill="url(#gG)"/>
<circle cx="631" cy="46.6" r="3.1" fill="url(#gG)"/>
<circle cx="662" cy="47.3" r="3.1" fill="url(#gG)"/>
<circle cx="526" cy="67.4" r="3.1" fill="url(#gG)"/>
<circle cx="563" cy="73.9" r="3.1" fill="url(#gG)"/>
<circle cx="592.5" cy="73.9" r="3.1" fill="url(#gG)"/>
<circle cx="631" cy="67.4" r="3.1" fill="url(#gG)"/>
<circle cx="662" cy="68" r="3.1" fill="url(#gG)"/>
<circle cx="562.4" cy="94" r="3.1" fill="url(#gG)"/>
<circle cx="592.5" cy="94" r="3.1" fill="url(#gG)"/>
<ellipse cx="523.5" cy="26.5" rx="6.44" ry="5.21" fill="url(#gR)"/>
<ellipse cx="523.5" cy="34.4" rx="6.44" ry="5.21" fill="url(#gR)"/>
<ellipse cx="548" cy="26.5" rx="6.44" ry="5.21" fill="url(#gR)"/>
<ellipse cx="548" cy="34.4" rx="6.44" ry="5.21" fill="url(#gR)"/>
<ellipse cx="577.7" cy="26.5" rx="6.44" ry="5.21" fill="url(#gR)"/>
<ellipse cx="577.7" cy="34.4" rx="6.44" ry="5.21" fill="url(#gR)"/>
<ellipse cx="607.5" cy="26.5" rx="6.44" ry="5.21" fill="url(#gR)"/>
<ellipse cx="607.5" cy="34.4" rx="6.44" ry="5.21" fill="url(#gR)"/>
<ellipse cx="633" cy="26.5" rx="6.44" ry="5.21" fill="url(#gR)"/>
<ellipse cx="633" cy="34.4" rx="6.44" ry="5.21" fill="url(#gR)"/>
<ellipse cx="659" cy="26.5" rx="6.44" ry="5.21" fill="url(#gR)"/>
<ellipse cx="659" cy="34.4" rx="6.44" ry="5.21" fill="url(#gR)"/>
<ellipse cx="540" cy="53" rx="6.44" ry="5.21" fill="url(#gR)"/>
<ellipse cx="540" cy="61.6" rx="6.44" ry="5.21" fill="url(#gR)"/>
<ellipse cx="565" cy="53" rx="6.44" ry="5.21" fill="url(#gR)"/>
<ellipse cx="565" cy="61.6" rx="6.44" ry="5.21" fill="url(#gR)"/>
<ellipse cx="591" cy="53" rx="6.44" ry="5.21" fill="url(#gR)"/>
<ellipse cx="591" cy="61.6" rx="6.44" ry="5.21" fill="url(#gR)"/>
<ellipse cx="617" cy="53" rx="6.44" ry="5.21" fill="url(#gR)"/>
<ellipse cx="617" cy="61.6" rx="6.44" ry="5.21" fill="url(#gR)"/>
<ellipse cx="645.5" cy="53" rx="6.44" ry="5.21" fill="url(#gR)"/>
<ellipse cx="645.5" cy="61.6" rx="6.44" ry="5.21" fill="url(#gR)"/>
<ellipse cx="672" cy="53" rx="6.44" ry="5.21" fill="url(#gR)"/>
<ellipse cx="672" cy="61.6" rx="6.44" ry="5.21" fill="url(#gR)"/>
<ellipse cx="524" cy="79.6" rx="6.44" ry="5.21" fill="url(#gR)"/>
<ellipse cx="524" cy="88.2" rx="6.44" ry="5.21" fill="url(#gR)"/>
<ellipse cx="548.5" cy="79.6" rx="6.44" ry="5.21" fill="url(#gR)"/>
<ellipse cx="548.5" cy="88.2" rx="6.44" ry="5.21" fill="url(#gR)"/>
<ellipse cx="578" cy="79.6" rx="6.44" ry="5.21" fill="url(#gR)"/>
<ellipse cx="578" cy="88.2" rx="6.44" ry="5.21" fill="url(#gR)"/>
<ellipse cx="607.5" cy="79.6" rx="6.44" ry="5.21" fill="url(#gR)"/>
<ellipse cx="607.5" cy="88.2" rx="6.44" ry="5.21" fill="url(#gR)"/>
<ellipse cx="634" cy="79.6" rx="6.44" ry="5.21" fill="url(#gR)"/>
<ellipse cx="634" cy="88.2" rx="6.44" ry="5.21" fill="url(#gR)"/>
<ellipse cx="659.5" cy="79.6" rx="6.44" ry="5.21" fill="url(#gR)"/>
<ellipse cx="659.5" cy="88.2" rx="6.44" ry="5.21" fill="url(#gR)"/>
</g>
<g clip-path="url(#clipS2)">
<line x1="556.2" y1="140.2" x2="532.7" y2="141.4" stroke="#c9cdd2" stroke-width="3"/>
<line x1="556.2" y1="140.2" x2="571.4" y2="139.4" stroke="#c9cdd2" stroke-width="3"/>
<line x1="556.2" y1="140.2" x2="549.4" y2="160.7" stroke="#c9cdd2" stroke-width="3"/>
<line x1="587" y1="145.5" x2="571.4" y2="139.4" stroke="#c9cdd2" stroke-width="3"/>
<line x1="587" y1="145.5" x2="609.3" y2="141" stroke="#c9cdd2" stroke-width="3"/>
<line x1="587" y1="145.5" x2="587.4" y2="161.2" stroke="#c9cdd2" stroke-width="3"/>
<line x1="632.4" y1="140.2" x2="609.3" y2="141" stroke="#c9cdd2" stroke-width="3"/>
<line x1="632.4" y1="140.2" x2="648.1" y2="139.4" stroke="#c9cdd2" stroke-width="3"/>
<line x1="632.4" y1="140.2" x2="626" y2="160.7" stroke="#c9cdd2" stroke-width="3"/>
<line x1="663.3" y1="145.5" x2="648.1" y2="139.4" stroke="#c9cdd2" stroke-width="3"/>
<line x1="663.3" y1="145.5" x2="665.5" y2="161.2" stroke="#c9cdd2" stroke-width="3"/>
<line x1="534.2" y1="157.7" x2="532.7" y2="141.4" stroke="#c9cdd2" stroke-width="3"/>
<line x1="534.2" y1="157.7" x2="511.4" y2="160.7" stroke="#c9cdd2" stroke-width="3"/>
<line x1="534.2" y1="157.7" x2="549.4" y2="160.7" stroke="#c9cdd2" stroke-width="3"/>
<line x1="534.2" y1="157.7" x2="528.9" y2="180.5" stroke="#c9cdd2" stroke-width="3"/>
<line x1="566.1" y1="163.8" x2="571.4" y2="139.4" stroke="#c9cdd2" stroke-width="3"/>
<line x1="566.1" y1="163.8" x2="549.4" y2="160.7" stroke="#c9cdd2" stroke-width="3"/>
<line x1="566.1" y1="163.8" x2="587.4" y2="161.2" stroke="#c9cdd2" stroke-width="3"/>
<line x1="566.1" y1="163.8" x2="566.9" y2="180" stroke="#c9cdd2" stroke-width="3"/>
<line x1="610.5" y1="157.7" x2="609.3" y2="141" stroke="#c9cdd2" stroke-width="3"/>
<line x1="610.5" y1="157.7" x2="587.4" y2="161.2" stroke="#c9cdd2" stroke-width="3"/>
<line x1="610.5" y1="157.7" x2="626" y2="160.7" stroke="#c9cdd2" stroke-width="3"/>
<line x1="610.5" y1="157.7" x2="605.5" y2="180.5" stroke="#c9cdd2" stroke-width="3"/>
<line x1="642.4" y1="163.8" x2="626" y2="160.7" stroke="#c9cdd2" stroke-width="3"/>
<line x1="642.4" y1="163.8" x2="665.5" y2="161.2" stroke="#c9cdd2" stroke-width="3"/>
<line x1="642.4" y1="163.8" x2="643.5" y2="180" stroke="#c9cdd2" stroke-width="3"/>
<line x1="512.9" y1="176.7" x2="511.4" y2="160.7" stroke="#c9cdd2" stroke-width="3"/>
<line x1="512.9" y1="176.7" x2="528.9" y2="180.5" stroke="#c9cdd2" stroke-width="3"/>
<line x1="512.9" y1="176.7" x2="506.8" y2="198.7" stroke="#c9cdd2" stroke-width="3"/>
<line x1="544.8" y1="183.5" x2="549.4" y2="160.7" stroke="#c9cdd2" stroke-width="3"/>
<line x1="544.8" y1="183.5" x2="528.9" y2="180.5" stroke="#c9cdd2" stroke-width="3"/>
<line x1="544.8" y1="183.5" x2="566.9" y2="180" stroke="#c9cdd2" stroke-width="3"/>
<line x1="544.8" y1="183.5" x2="545.6" y2="198.7" stroke="#c9cdd2" stroke-width="3"/>
<line x1="589" y1="177" x2="587.4" y2="161.2" stroke="#c9cdd2" stroke-width="3"/>
<line x1="589" y1="177" x2="566.9" y2="180" stroke="#c9cdd2" stroke-width="3"/>
<line x1="589" y1="177" x2="605.5" y2="180.5" stroke="#c9cdd2" stroke-width="3"/>
<line x1="589" y1="177" x2="582.9" y2="198.7" stroke="#c9cdd2" stroke-width="3"/>
<line x1="621.2" y1="183.5" x2="626" y2="160.7" stroke="#c9cdd2" stroke-width="3"/>
<line x1="621.2" y1="183.5" x2="605.5" y2="180.5" stroke="#c9cdd2" stroke-width="3"/>
<line x1="621.2" y1="183.5" x2="643.5" y2="180" stroke="#c9cdd2" stroke-width="3"/>
<line x1="621.2" y1="183.5" x2="622.2" y2="198.7" stroke="#c9cdd2" stroke-width="3"/>
<line x1="666.8" y1="177.4" x2="665.5" y2="161.2" stroke="#c9cdd2" stroke-width="3"/>
<line x1="666.8" y1="177.4" x2="643.5" y2="180" stroke="#c9cdd2" stroke-width="3"/>
<line x1="666.8" y1="177.4" x2="659.5" y2="198.7" stroke="#c9cdd2" stroke-width="3"/>
<line x1="522.8" y1="201.8" x2="528.9" y2="180.5" stroke="#c9cdd2" stroke-width="3"/>
<line x1="522.8" y1="201.8" x2="506.8" y2="198.7" stroke="#c9cdd2" stroke-width="3"/>
<line x1="522.8" y1="201.8" x2="545.6" y2="198.7" stroke="#c9cdd2" stroke-width="3"/>
<line x1="568.4" y1="195.7" x2="566.9" y2="180" stroke="#c9cdd2" stroke-width="3"/>
<line x1="568.4" y1="195.7" x2="545.6" y2="198.7" stroke="#c9cdd2" stroke-width="3"/>
<line x1="568.4" y1="195.7" x2="582.9" y2="198.7" stroke="#c9cdd2" stroke-width="3"/>
<line x1="599" y1="201.7" x2="605.5" y2="180.5" stroke="#c9cdd2" stroke-width="3"/>
<line x1="599" y1="201.7" x2="582.9" y2="198.7" stroke="#c9cdd2" stroke-width="3"/>
<line x1="599" y1="201.7" x2="622.2" y2="198.7" stroke="#c9cdd2" stroke-width="3"/>
<line x1="644.6" y1="195.7" x2="643.5" y2="180" stroke="#c9cdd2" stroke-width="3"/>
<line x1="644.6" y1="195.7" x2="622.2" y2="198.7" stroke="#c9cdd2" stroke-width="3"/>
<line x1="644.6" y1="195.7" x2="659.5" y2="198.7" stroke="#c9cdd2" stroke-width="3"/>
<line x1="672.4" y1="201.7" x2="659.5" y2="198.7" stroke="#c9cdd2" stroke-width="3"/>
<line x1="528.9" y1="180.5" x2="545.6" y2="198.7" stroke="#c9cdd2" stroke-width="3"/>
<line x1="566.9" y1="180" x2="582.9" y2="198.7" stroke="#c9cdd2" stroke-width="3"/>
<line x1="605.5" y1="180.5" x2="622.2" y2="198.7" stroke="#c9cdd2" stroke-width="3"/>
<line x1="643.5" y1="180" x2="659.5" y2="198.7" stroke="#c9cdd2" stroke-width="3"/>
<line x1="556.2" y1="140.2" x2="532.7" y2="141.4" stroke="#fbfbfc" stroke-width="1.8"/>
<line x1="556.2" y1="140.2" x2="571.4" y2="139.4" stroke="#fbfbfc" stroke-width="1.8"/>
<line x1="556.2" y1="140.2" x2="549.4" y2="160.7" stroke="#fbfbfc" stroke-width="1.8"/>
<line x1="587" y1="145.5" x2="571.4" y2="139.4" stroke="#fbfbfc" stroke-width="1.8"/>
<line x1="587" y1="145.5" x2="609.3" y2="141" stroke="#fbfbfc" stroke-width="1.8"/>
<line x1="587" y1="145.5" x2="587.4" y2="161.2" stroke="#fbfbfc" stroke-width="1.8"/>
<line x1="632.4" y1="140.2" x2="609.3" y2="141" stroke="#fbfbfc" stroke-width="1.8"/>
<line x1="632.4" y1="140.2" x2="648.1" y2="139.4" stroke="#fbfbfc" stroke-width="1.8"/>
<line x1="632.4" y1="140.2" x2="626" y2="160.7" stroke="#fbfbfc" stroke-width="1.8"/>
<line x1="663.3" y1="145.5" x2="648.1" y2="139.4" stroke="#fbfbfc" stroke-width="1.8"/>
<line x1="663.3" y1="145.5" x2="665.5" y2="161.2" stroke="#fbfbfc" stroke-width="1.8"/>
<line x1="534.2" y1="157.7" x2="532.7" y2="141.4" stroke="#fbfbfc" stroke-width="1.8"/>
<line x1="534.2" y1="157.7" x2="511.4" y2="160.7" stroke="#fbfbfc" stroke-width="1.8"/>
<line x1="534.2" y1="157.7" x2="549.4" y2="160.7" stroke="#fbfbfc" stroke-width="1.8"/>
<line x1="534.2" y1="157.7" x2="528.9" y2="180.5" stroke="#fbfbfc" stroke-width="1.8"/>
<line x1="566.1" y1="163.8" x2="571.4" y2="139.4" stroke="#fbfbfc" stroke-width="1.8"/>
<line x1="566.1" y1="163.8" x2="549.4" y2="160.7" stroke="#fbfbfc" stroke-width="1.8"/>
<line x1="566.1" y1="163.8" x2="587.4" y2="161.2" stroke="#fbfbfc" stroke-width="1.8"/>
<line x1="566.1" y1="163.8" x2="566.9" y2="180" stroke="#fbfbfc" stroke-width="1.8"/>
<line x1="610.5" y1="157.7" x2="609.3" y2="141" stroke="#fbfbfc" stroke-width="1.8"/>
<line x1="610.5" y1="157.7" x2="587.4" y2="161.2" stroke="#fbfbfc" stroke-width="1.8"/>
<line x1="610.5" y1="157.7" x2="626" y2="160.7" stroke="#fbfbfc" stroke-width="1.8"/>
<line x1="610.5" y1="157.7" x2="605.5" y2="180.5" stroke="#fbfbfc" stroke-width="1.8"/>
<line x1="642.4" y1="163.8" x2="626" y2="160.7" stroke="#fbfbfc" stroke-width="1.8"/>
<line x1="642.4" y1="163.8" x2="665.5" y2="161.2" stroke="#fbfbfc" stroke-width="1.8"/>
<line x1="642.4" y1="163.8" x2="643.5" y2="180" stroke="#fbfbfc" stroke-width="1.8"/>
<line x1="512.9" y1="176.7" x2="511.4" y2="160.7" stroke="#fbfbfc" stroke-width="1.8"/>
<line x1="512.9" y1="176.7" x2="528.9" y2="180.5" stroke="#fbfbfc" stroke-width="1.8"/>
<line x1="512.9" y1="176.7" x2="506.8" y2="198.7" stroke="#fbfbfc" stroke-width="1.8"/>
<line x1="544.8" y1="183.5" x2="549.4" y2="160.7" stroke="#fbfbfc" stroke-width="1.8"/>
<line x1="544.8" y1="183.5" x2="528.9" y2="180.5" stroke="#fbfbfc" stroke-width="1.8"/>
<line x1="544.8" y1="183.5" x2="566.9" y2="180" stroke="#fbfbfc" stroke-width="1.8"/>
<line x1="544.8" y1="183.5" x2="545.6" y2="198.7" stroke="#fbfbfc" stroke-width="1.8"/>
<line x1="589" y1="177" x2="587.4" y2="161.2" stroke="#fbfbfc" stroke-width="1.8"/>
<line x1="589" y1="177" x2="566.9" y2="180" stroke="#fbfbfc" stroke-width="1.8"/>
<line x1="589" y1="177" x2="605.5" y2="180.5" stroke="#fbfbfc" stroke-width="1.8"/>
<line x1="589" y1="177" x2="582.9" y2="198.7" stroke="#fbfbfc" stroke-width="1.8"/>
<line x1="621.2" y1="183.5" x2="626" y2="160.7" stroke="#fbfbfc" stroke-width="1.8"/>
<line x1="621.2" y1="183.5" x2="605.5" y2="180.5" stroke="#fbfbfc" stroke-width="1.8"/>
<line x1="621.2" y1="183.5" x2="643.5" y2="180" stroke="#fbfbfc" stroke-width="1.8"/>
<line x1="621.2" y1="183.5" x2="622.2" y2="198.7" stroke="#fbfbfc" stroke-width="1.8"/>
<line x1="666.8" y1="177.4" x2="665.5" y2="161.2" stroke="#fbfbfc" stroke-width="1.8"/>
<line x1="666.8" y1="177.4" x2="643.5" y2="180" stroke="#fbfbfc" stroke-width="1.8"/>
<line x1="666.8" y1="177.4" x2="659.5" y2="198.7" stroke="#fbfbfc" stroke-width="1.8"/>
<line x1="522.8" y1="201.8" x2="528.9" y2="180.5" stroke="#fbfbfc" stroke-width="1.8"/>
<line x1="522.8" y1="201.8" x2="506.8" y2="198.7" stroke="#fbfbfc" stroke-width="1.8"/>
<line x1="522.8" y1="201.8" x2="545.6" y2="198.7" stroke="#fbfbfc" stroke-width="1.8"/>
<line x1="568.4" y1="195.7" x2="566.9" y2="180" stroke="#fbfbfc" stroke-width="1.8"/>
<line x1="568.4" y1="195.7" x2="545.6" y2="198.7" stroke="#fbfbfc" stroke-width="1.8"/>
<line x1="568.4" y1="195.7" x2="582.9" y2="198.7" stroke="#fbfbfc" stroke-width="1.8"/>
<line x1="599" y1="201.7" x2="605.5" y2="180.5" stroke="#fbfbfc" stroke-width="1.8"/>
<line x1="599" y1="201.7" x2="582.9" y2="198.7" stroke="#fbfbfc" stroke-width="1.8"/>
<line x1="599" y1="201.7" x2="622.2" y2="198.7" stroke="#fbfbfc" stroke-width="1.8"/>
<line x1="644.6" y1="195.7" x2="643.5" y2="180" stroke="#fbfbfc" stroke-width="1.8"/>
<line x1="644.6" y1="195.7" x2="622.2" y2="198.7" stroke="#fbfbfc" stroke-width="1.8"/>
<line x1="644.6" y1="195.7" x2="659.5" y2="198.7" stroke="#fbfbfc" stroke-width="1.8"/>
<line x1="672.4" y1="201.7" x2="659.5" y2="198.7" stroke="#fbfbfc" stroke-width="1.8"/>
<line x1="528.9" y1="180.5" x2="545.6" y2="198.7" stroke="#fbfbfc" stroke-width="1.8"/>
<line x1="566.9" y1="180" x2="582.9" y2="198.7" stroke="#fbfbfc" stroke-width="1.8"/>
<line x1="605.5" y1="180.5" x2="622.2" y2="198.7" stroke="#fbfbfc" stroke-width="1.8"/>
<line x1="643.5" y1="180" x2="659.5" y2="198.7" stroke="#fbfbfc" stroke-width="1.8"/>
<circle cx="532.7" cy="141.4" r="3.5" fill="url(#gG)"/>
<circle cx="571.4" cy="139.4" r="3.5" fill="url(#gG)"/>
<circle cx="609.3" cy="141" r="3.5" fill="url(#gG)"/>
<circle cx="648.1" cy="139.4" r="3.5" fill="url(#gG)"/>
<circle cx="511.4" cy="160.7" r="3.5" fill="url(#gG)"/>
<circle cx="549.4" cy="160.7" r="3.5" fill="url(#gG)"/>
<circle cx="587.4" cy="161.2" r="3.5" fill="url(#gG)"/>
<circle cx="626" cy="160.7" r="3.5" fill="url(#gG)"/>
<circle cx="665.5" cy="161.2" r="3.5" fill="url(#gG)"/>
<circle cx="528.9" cy="180.5" r="3.5" fill="url(#gG)"/>
<circle cx="566.9" cy="180" r="3.5" fill="url(#gG)"/>
<circle cx="605.5" cy="180.5" r="3.5" fill="url(#gG)"/>
<circle cx="643.5" cy="180" r="3.5" fill="url(#gG)"/>
<circle cx="506.8" cy="198.7" r="3.5" fill="url(#gG)"/>
<circle cx="545.6" cy="198.7" r="3.5" fill="url(#gG)"/>
<circle cx="582.9" cy="198.7" r="3.5" fill="url(#gG)"/>
<circle cx="622.2" cy="198.7" r="3.5" fill="url(#gG)"/>
<circle cx="659.5" cy="198.7" r="3.5" fill="url(#gG)"/>
<ellipse cx="556.2" cy="140.2" rx="6.51" ry="5.77" fill="url(#gR)"/>
<ellipse cx="587" cy="145.5" rx="6.51" ry="5.77" fill="url(#gR)"/>
<ellipse cx="632.4" cy="140.2" rx="6.51" ry="5.77" fill="url(#gR)"/>
<ellipse cx="663.3" cy="145.5" rx="6.51" ry="5.77" fill="url(#gR)"/>
<ellipse cx="534.2" cy="157.7" rx="6.51" ry="5.77" fill="url(#gR)"/>
<ellipse cx="566.1" cy="163.8" rx="6.51" ry="5.77" fill="url(#gR)"/>
<ellipse cx="610.5" cy="157.7" rx="6.51" ry="5.77" fill="url(#gR)"/>
<ellipse cx="642.4" cy="163.8" rx="6.51" ry="5.77" fill="url(#gR)"/>
<ellipse cx="512.9" cy="176.7" rx="6.51" ry="5.77" fill="url(#gR)"/>
<ellipse cx="544.8" cy="183.5" rx="6.51" ry="5.77" fill="url(#gR)"/>
<ellipse cx="589" cy="177" rx="6.51" ry="5.77" fill="url(#gR)"/>
<ellipse cx="621.2" cy="183.5" rx="6.51" ry="5.77" fill="url(#gR)"/>
<ellipse cx="666.8" cy="177.4" rx="6.51" ry="5.77" fill="url(#gR)"/>
<ellipse cx="522.8" cy="201.8" rx="6.51" ry="5.77" fill="url(#gR)"/>
<ellipse cx="568.4" cy="195.7" rx="6.51" ry="5.77" fill="url(#gR)"/>
<ellipse cx="599" cy="201.7" rx="6.51" ry="5.77" fill="url(#gR)"/>
<ellipse cx="644.6" cy="195.7" rx="6.51" ry="5.77" fill="url(#gR)"/>
<ellipse cx="672.4" cy="201.7" rx="6.51" ry="5.77" fill="url(#gR)"/>
</g>
<text x="75.7" y="78.5" font-size="9.7" text-anchor="start" fill="#000" stroke="#000" stroke-width="0.06"><tspan>MIL-88</tspan></text>
<text x="245.7" y="78.3" font-size="9.7" text-anchor="start" fill="#000" stroke="#000" stroke-width="0.06"><tspan>Fe</tspan><tspan dy="2.91" font-size="6.79">2</tspan><tspan dy="-2.91">N@C</tspan></text>
<text x="425.1" y="78.8" font-size="9.7" text-anchor="start" fill="#000" stroke="#000" stroke-width="0.06"><tspan>Fe</tspan><tspan dy="2.91" font-size="6.79">5</tspan><tspan dy="-2.91">C</tspan><tspan dy="2.91" font-size="6.79">2</tspan><tspan dy="-2.91">@C</tspan></text>
<text x="70.9" y="191.7" font-size="9.7" text-anchor="start" fill="#000" stroke="#000" stroke-width="0.06"><tspan>K-MIL-88</tspan></text>
<text x="240.9" y="191.7" font-size="9.7" text-anchor="start" fill="#000" stroke="#000" stroke-width="0.06"><tspan>K-Fe</tspan><tspan dy="2.91" font-size="6.79">2</tspan><tspan dy="-2.91">N@C</tspan></text>
<text x="422" y="191.7" font-size="9.7" text-anchor="start" fill="#000" stroke="#000" stroke-width="0.06"><tspan>K-Fe</tspan><tspan dy="2.91" font-size="6.79">2</tspan><tspan dy="-2.91">C@C</tspan></text>
<text x="43.8" y="100.9" font-size="9.7" text-anchor="middle" fill="#000" stroke="#000" stroke-width="0.06"><tspan>3% wt. K</tspan><tspan dy="2.91" font-size="6.79">2</tspan><tspan dy="-2.91">CO</tspan><tspan dy="2.91" font-size="6.79">3</tspan></text>
<text x="43.5" y="117.2" font-size="9.7" text-anchor="middle" fill="#000" stroke="#000" stroke-width="0.06"><tspan>impregnation</tspan></text>
<text x="154.6" y="101" font-size="9.7" text-anchor="middle" fill="#000" stroke="#000" stroke-width="0.06"><tspan>NH</tspan><tspan dy="2.91" font-size="6.79">3</tspan><tspan dy="-2.91"> annealing</tspan></text>
<text x="154.9" y="116.8" font-size="9.7" text-anchor="middle" fill="#000" stroke="#000" stroke-width="0.06"><tspan>500 °C, 5 h</tspan></text>
<text x="339.3" y="101" font-size="9.7" text-anchor="middle" fill="#000" stroke="#000" stroke-width="0.06"><tspan>25% CO</tspan><tspan dy="2.91" font-size="6.79">2</tspan><tspan dy="-2.91"> / H</tspan><tspan dy="2.91" font-size="6.79">2</tspan><tspan dy="-2.91"> annealing</tspan></text>
<text x="337.6" y="116.8" font-size="9.7" text-anchor="middle" fill="#000" stroke="#000" stroke-width="0.06"><tspan>350 °C, 5 h</tspan></text>
<text x="594.5" y="14" font-size="10" text-anchor="middle" fill="#000" stroke="#000" stroke-width="0.06"><tspan>Stable Phase: </tspan><tspan font-style="italic">χ</tspan><tspan>-Fe</tspan><tspan dy="3" font-size="7">5</tspan><tspan dy="-3">C</tspan><tspan dy="3" font-size="7">2</tspan></text>
<text x="594.2" y="126.5" font-size="10" text-anchor="middle" fill="#000" stroke="#000" stroke-width="0.06"><tspan>Metastable  Phase: </tspan><tspan font-style="italic">ε</tspan><tspan>-Fe</tspan><tspan dy="3" font-size="7">2</tspan><tspan dy="-3">C</tspan></text>
<text x="5.2" y="16" font-size="15" text-anchor="start" fill="#000" stroke="#000" stroke-width="0.06"><tspan>a</tspan></text>
<line x1="27.8" y1="292.2" x2="27.8" y2="301.8" stroke="#a9bfe0" stroke-width="0.9"/>
<line x1="55" y1="292.2" x2="55" y2="301.8" stroke="#a9bfe0" stroke-width="0.9"/>
<line x1="72.4" y1="292.2" x2="72.4" y2="301.8" stroke="#7d9dcf" stroke-width="0.9"/>
<line x1="75.4" y1="292.2" x2="75.4" y2="301.8" stroke="#a9bfe0" stroke-width="0.9"/>
<line x1="94.8" y1="292.2" x2="94.8" y2="301.8" stroke="#7d9dcf" stroke-width="0.9"/>
<line x1="103" y1="292.2" x2="103" y2="301.8" stroke="#7d9dcf" stroke-width="0.9"/>
<line x1="110.8" y1="292.2" x2="110.8" y2="301.8" stroke="#5b82c0" stroke-width="0.9"/>
<line x1="116.9" y1="292.2" x2="116.9" y2="301.8" stroke="#a9bfe0" stroke-width="0.9"/>
<line x1="121.5" y1="292.2" x2="121.5" y2="301.8" stroke="#7d9dcf" stroke-width="0.9"/>
<line x1="126.7" y1="292.2" x2="126.7" y2="301.8" stroke="#a9bfe0" stroke-width="0.9"/>
<line x1="129.3" y1="292.2" x2="129.3" y2="301.8" stroke="#7d9dcf" stroke-width="0.9"/>
<line x1="147.4" y1="292.2" x2="147.4" y2="301.8" stroke="#7d9dcf" stroke-width="0.9"/>
<line x1="150" y1="292.2" x2="150" y2="301.8" stroke="#a9bfe0" stroke-width="0.9"/>
<line x1="180.4" y1="292.2" x2="180.4" y2="301.8" stroke="#7d9dcf" stroke-width="0.9"/>
<line x1="181.9" y1="292.2" x2="181.9" y2="301.8" stroke="#a9bfe0" stroke-width="0.9"/>
<line x1="191.6" y1="292.2" x2="191.6" y2="301.8" stroke="#a9bfe0" stroke-width="0.9"/>
<line x1="196.8" y1="292.2" x2="196.8" y2="301.8" stroke="#a9bfe0" stroke-width="0.9"/>
<path d="M27.3 286.7 27.8 274.3 28 279.7 28.1 279.5 28.3 280.4 28.5 278.5 28.7 280.5 29 276.2 29.2 283.7 29.3 283.7 29.5 286.5 29.7 280.8 30 278.8 30.2 275.4 30.3 284 30.5 276.9 30.7 276.6 31 285.7 31.4 277.2 31.7 282.8 32 278.1 32.5 287.4 32.7 276.4 32.9 278.5 33 277.9 33.2 272.4 33.4 277.5 33.5 277.2 33.7 284.5 34.1 275.2 34.2 282.9 34.6 274.7 34.7 278.6 34.9 278.7 35.1 277.7 35.2 280.8 35.4 273 35.7 284.1 35.9 283.6 36.1 284.4 36.3 284.5 36.4 285.7 36.6 276.9 36.8 283.5 36.9 274.3 37.1 278.6 37.3 274.2 37.4 284.2 37.6 285.2 37.8 280 37.9 286.7 38.1 278.4 38.3 281.2 38.4 281.2 38.6 277 39 287.3 39.1 277.2 39.3 283.7 39.5 280.1 39.6 286.7 39.8 282.3 40 283 40.1 282.8 40.3 281.5 40.5 275.9 40.6 285.4 40.8 276 41 281.5 41.1 282.7 41.3 277.8 41.7 284.6 42.2 270.7 42.3 277.3 42.7 278.9 42.8 277.4 43 281.9 43.2 278.7 43.5 282.9 43.7 277.7 44 288 44.4 276.2 44.9 284.8 45.4 278.1 45.5 282.8 45.9 278.8 46 279.9 46.2 279.2 46.4 283 46.6 278.2 46.9 283.5 47.2 277.7 47.4 285.1 47.6 278.3 47.7 282 48.1 274.6 48.2 281.3 48.4 281.5 48.6 280.3 48.7 281.5 48.9 278.3 49.1 278 49.4 287 49.8 278.8 49.9 282.4 50.1 278.9 50.3 279 50.4 283.4 50.8 274.8 51.4 284.7 51.6 278 51.8 283 52.1 280 52.3 283.3 52.6 277.5 52.8 284.1 53 276.3 53.1 280.6 53.3 280.4 53.5 281.9 53.6 277.9 53.8 280.3 54 279.9 54.2 283.8 54.3 277.7 54.5 280.6 54.8 276 55 289.5 55.3 275.3 55.5 285.1 55.7 276.7 56 283.3 56.2 278.1 56.3 278.8 56.5 278.5 56.7 279.9 56.9 274.8 57.4 283.8 57.5 282.4 57.7 286.1 58 278.5 58.2 279.8 58.4 273.3 59 282.4 59.6 274.9 59.7 279.7 60.1 281.7 60.2 277.5 60.4 286.9 60.9 278.3 61.2 280.6 61.4 280 61.9 284.7 62.3 279.6 62.4 281.3 62.8 278 62.9 286.5 63.1 278.4 63.3 286.7 63.4 278.8 63.8 283.6 63.9 280 64.1 281.2 64.3 279.1 64.5 278.3 64.6 279.3 64.8 277.7 65 285.4 65.1 279.3 65.3 285.7 65.5 270.7 65.6 279.9 65.8 281.7 66 278.8 66.1 283.5 66.5 278.8 66.8 289.3 67 280.6 67.2 280.7 67.3 278.2 67.5 280.1 67.7 275.3 68 288 68.3 281.8 68.7 286 68.8 281.6 69 286.6 69.4 280.1 69.5 285.4 69.7 271.5 70 280.4 70.2 276.3 70.4 278.9 70.5 277.2 70.7 277.2 70.9 288.6 71.2 279.2 71.4 283.8 71.5 278.5 71.7 282.3 71.9 280.5 72.1 284.8 72.2 274.4 72.4 281.9 72.7 275.3 72.9 282.8 73.1 276.2 73.2 284.7 73.4 280.9 73.6 281.5 73.7 279.4 73.9 282.2 74.1 272.7 74.2 279.3 74.4 276.9 74.6 280 74.8 278.9 74.9 281.1 75.1 276.1 75.4 286.8 75.6 278.2 75.9 279.9 76.3 285.3 76.4 274.7 76.6 276.7 77.1 273.2 77.3 280 77.5 274.8 77.6 283.8 78 275.2 78.1 275.2 78.3 276.6 78.5 283.4 78.8 273.5 79.1 279.8 79.3 276.3 79.5 284 80 275.5 80.2 278.3 80.3 277.9 80.5 270.7 80.7 279.4 80.8 272.3 81 278.2 81.2 273.3 81.3 285.2 81.5 279.4 81.7 281.2 81.8 281.4 82.2 270.4 82.5 281.2 82.7 278.5 83 281.3 83.2 273 83.5 284.7 83.9 271.1 84 277.2 84.2 276.4 84.4 279.4 84.6 274.9 84.7 278.2 84.9 270.3 85.2 283.2 85.4 282.2 85.6 272.6 85.7 278.9 85.9 267.6 86.1 278.7 86.4 274.3 86.6 278.8 86.7 278.1 86.9 280.8 87.1 278 87.3 278.4 87.4 271 87.9 278.5 88.1 277.5 88.3 282.6 88.4 274.5 88.8 278.3 88.9 276.6 89.1 279 89.3 275.4 89.4 282.2 89.6 276.2 89.8 281.1 90 277.2 90.1 282.3 90.3 272.5 90.5 279 90.6 275.7 91 281.2 91.1 273.2 91.3 272.6 91.5 273.7 91.6 277.9 91.8 270.6 92 277.3 92.2 272.6 92.3 273.1 92.7 278.2 92.8 274.8 93.2 276.7 93.3 275.9 93.5 267.7 93.7 275.4 94.2 283.7 94.7 273.4 95.2 280.9 95.4 273.6 95.9 282.9 96 277.4 96.4 274.2 96.5 275.3 96.7 274.3 96.9 279.3 97 280.1 97.2 278.9 97.4 280.5 97.6 274.9 97.7 277.7 97.9 275.1 98.2 280.5 98.6 270 98.7 275.4 99.1 271.1 99.6 281.9 99.7 274.5 99.9 279.6 100.1 280.2 100.3 272.2 100.4 276 100.6 275.9 100.8 276.7 100.9 270.7 101.3 279.6 101.6 282.2 101.8 274.8 101.9 282.3 102.3 271.3 102.5 278.5 102.6 274.7 102.8 277.7 103 275.6 103.1 280 103.5 274.9 103.6 279.1 104 274.4 104.1 280.2 104.3 274.4 104.5 273.6 104.6 273.9 104.8 270.8 105.2 282.1 105.3 272.6 105.5 275.8 105.7 271.9 105.8 273.6 106 280.9 106.3 273.6 106.5 275.7 106.7 272.8 106.8 273 107 272.5 107.2 272.6 107.5 277.6 107.7 277.3 108 271 108.2 275.4 108.4 272.4 108.5 278.6 108.7 277.5 108.9 278.1 109.2 269.4 109.4 278.8 109.5 279.7 109.7 270.5 110.1 279.6 110.2 271.9 110.4 281.5 110.7 271.8 110.9 280.2 111.2 273.3 111.4 278.5 111.6 268.8 111.7 281.6 111.9 272.7 112.1 276.4 112.2 274.1 112.6 278.5 112.8 272.7 112.9 278.1 113.1 274.5 113.3 273.1 113.4 274.7 113.6 272 113.8 272.8 113.9 278.7 114.1 274.9 114.3 279.3 114.8 269 115.1 276.4 115.5 272.6 115.6 278.9 115.8 269.5 116.3 282.9 116.6 272.1 116.8 277.5 117.1 278.7 117.5 272.8 118.2 282.6 118.3 273 118.7 275.3 118.8 274.7 119 277.2 119.2 277.2 119.3 276.4 119.5 280.1 119.8 272 120 270.3 120.2 272.1 120.4 272.1 120.5 269.2 120.7 277.9 121.4 270.3 121.7 282 121.9 268.2 122.2 278.2 122.5 274.7 122.7 278.4 122.9 272 123.2 280.6 123.4 272.3 124.1 280.4 124.6 272.1 124.7 276.7 124.9 277.3 125.1 272.2 125.6 279.5 125.8 272.6 125.9 277.9 126.1 272 126.4 275.8 126.8 287.3 126.9 276.9 127.3 279.5 127.4 271.5 127.6 278.8 127.8 271.9 128 281.7 128.1 281.1 128.5 273.5 128.6 281.9 128.8 277.1 129 276.7 129.1 278.3 129.3 270.5 129.6 279.7 130.1 273.2 130.3 278.6 130.8 274.6 131.2 280.8 131.3 277.9 131.8 282 132.2 275.9 132.3 275.3 132.9 279.9 133 275.3 133.2 277.3 133.4 273.4 133.5 281.1 133.7 275.5 133.9 278.1 134 274.4 134.2 275.9 134.4 274.6 134.5 282.7 135 273.8 135.6 282.7 135.7 272.2 136.1 276.5 136.4 271.5 136.7 279.8 136.9 271.9 137.2 280.6 137.4 280.6 137.6 275.9 137.7 285.2 138.1 274.6 138.3 280.8 138.4 273.6 138.6 280.5 138.8 273.2 138.9 280.2 139.1 275.6 139.3 281.4 139.8 277.8 139.9 281.4 140.1 271.5 140.3 279.2 140.5 279.1 140.8 280.6 141 290.4 141.1 278.2 141.3 280.6 141.5 278.4 141.6 283.2 141.8 271 142 283.7 142.3 270.3 142.6 277.4 142.8 278.7 143 277.9 143.2 280.9 143.3 278 143.5 277.9 143.7 270.9 144 281.7 144.3 271.9 144.7 284 144.8 276.3 145.2 275.6 145.3 280.7 145.5 276.4 145.9 273.4 146.2 281.9 146.4 278 146.5 281.6 146.7 279.2 147 279.2 147.2 278.8 147.4 282.2 147.7 276.8 147.9 279.2 148 278.5 148.2 280.4 148.4 279.4 148.6 280.3 148.7 273.8 149.1 283.4 149.2 274.3 149.4 284.4 149.9 272.9 150.1 282.7 150.2 275.8 150.6 281 150.8 275.7 150.9 275.8 151.1 275.3 151.4 281.2 151.6 280.6 151.8 280.7 151.9 278.1 152.1 279.8 152.3 277 152.4 286.1 152.8 272.8 153.1 284.9 153.3 274.8 153.6 280.9 153.8 275.8 154.1 285.3 154.3 276.8 154.5 283.4 154.6 276.6 154.8 276.3 155 280.5 155.1 280.5 155.3 277.7 155.5 282.6 155.6 274.8 155.8 276.9 156 276.1 156.2 282.4 156.3 282.6 156.5 282.1 156.7 275.5 157 281.5 157.2 274.4 157.5 282.2 157.7 282.4 157.8 280.9 158 281.9 158.4 280.6 158.7 277.1 158.9 279.3 159 278.8 159.2 288 159.4 281 159.5 280.1 159.7 279.4 159.9 279.8 160 279.3 160.2 282.1 160.4 280.2 160.5 283 160.7 277.9 161.1 283.3 161.2 276.4 161.4 280.9 161.6 281.2 161.9 278.8 162.1 274.1 162.2 284.4 162.4 277.3 162.6 276.3 162.7 282.7 162.9 274.3 163.1 283.8 163.2 282 163.4 282.6 163.9 274.2 164.1 285.6 164.3 279 164.4 278.9 164.6 286 164.8 278.5 164.9 279.9 165.3 280.3 165.4 277.2 165.8 285.1 166 283.4 166.1 270.7 166.5 282 166.8 279.6 167 284.4 167.1 274.8 167.3 285 167.5 281.3 167.6 282.8 167.8 281.8 168 283.8 168.3 279.1 168.5 283.6 168.8 276.7 169 285.6 169.2 285.1 169.3 285.9 169.5 281.3 169.7 282.3 170 277.8 170.2 281.3 170.3 281.7 170.5 278.9 170.7 287.4 170.8 275.6 171.2 278.9 171.4 285.6 171.5 280.3 171.7 280.1 171.9 278.2 172 278.6 172.2 276.8 172.4 284.7 172.5 283.3 172.7 284.6 172.9 279 173 289.8 173.4 274.3 173.6 280.3 173.9 283.9 174.1 277.9 174.4 287.2 174.6 278.5 174.7 278.9 174.9 275.6 175.1 282.2 175.2 284.3 175.4 284 175.6 284.3 175.7 286.2 175.9 281.9 176.1 284.7 176.3 278.2 176.4 278.8 176.6 282.3 176.8 278.7 177.1 286.2 177.4 279 177.6 279 177.8 286.2 177.9 278.8 178.1 281.9 178.3 280.7 178.4 281.7 178.6 285.3 179 276.8 179.1 286.5 179.3 282.4 179.5 284.1 179.6 281.5 180 285.9 180.1 286.3 180.3 280.7 180.5 280.5 180.6 283 180.8 282.4 181 283.6 181.3 273.8 181.5 283.2 181.7 284.4 181.8 283.9 182 287.4 182.3 280.4 182.5 285.1 182.7 281.4 182.8 286 183 282.6 183.2 283.3 183.5 281.9 183.7 276.7 183.9 282 184 274.1 184.2 283.5 184.5 288.8 185 276.4 185.2 288.4 185.4 277 185.5 284.9 185.7 274 186 284.2 186.6 279.1 186.7 278.8 186.9 285.3 187.2 281.3 187.4 282.6 187.6 278.7 187.7 285.4 187.9 286.2 188.1 279.2 188.4 285.5 188.6 279.7 188.8 288.8 189.1 281 189.4 287.6 189.6 277.7 189.8 284 189.9 281.5 190.1 281.2 190.3 284.4 190.6 277.2 190.8 277.1 191.1 284.1 191.3 281.9 191.5 281.5 191.6 281.9 191.8 286.4 192.1 279.5 192.5 286.1 192.6 280 193 281.9 193.1 278.4 193.3 285.1 193.5 274.6 193.6 287 194 277.8 194.2 283 194.3 276.2 194.5 283.9 194.7 284.7 194.8 280.1 195 280.7 195.2 285.3 195.3 279.8 195.8 287.4 196 280.4 196.3 285.9 196.5 273.4 196.7 281.2 196.9 275.6 197 275.8 197.2 288.7 197.4 282.8 197.5 287.1 197.7 281.3 197.9 283.9 198 280.6 198.2 280.3 198.5 282.6 198.7 287.3 198.9 281.5 199.1 283.4 199.2 281.3 199.4 282.6 199.6 277.7 199.7 285.8 199.9 280.4 200.1 282.3 200.2 281.4 200.4 285.5 200.7 282.2 201.2 284.7 201.4 283.9 201.8 287.7 202.1 277.7 202.3 288.1 202.4 289.5 202.6 280.9 202.8 280.8 202.9 275.2 203.1 284.8 203.3 278.8 203.4 288.4 203.6 273.8 203.9 284.5 204.3 279.5 204.5 283 204.6 280.4 205 282.1 205.1 280.3 205.5 284.9 205.6 280.9 205.8 282.8 206 279.6 206.1 285.3 206.3 277.8 206.5 285.5 206.7 271.9 206.8 279.1 207 276.8 207.2 285.7 207.5 277.8 207.8 286.8 208 282 208.2 284.1 208.3 277.1 208.5 277.1 208.8 290 209 280.4 209.2 284.2 209.4 279 209.5 286.4 210 275.7 210.5 286.9 210.7 278.2 210.9 285.5 211 281 211.2 281.2 211.5 276.4 211.9 287.7 212.1 278.1 212.4 285.9 212.6 274.9 212.7 283.6 212.9 280.4" fill="none" stroke="#5279b9" stroke-width="0.85" stroke-linejoin="round"/>
<line x1="34.5" y1="366.8" x2="34.5" y2="376" stroke="#e3a3a3" stroke-width="0.9"/>
<line x1="79" y1="366.8" x2="79" y2="376" stroke="#e3a3a3" stroke-width="0.9"/>
<line x1="99.4" y1="366.8" x2="99.4" y2="376" stroke="#e3a3a3" stroke-width="2.2"/>
<path d="M27.3 358.9 27.8 366 28 359.6 28.1 363.6 28.5 356.9 28.8 362.3 29 359.4 29.2 360.1 29.5 352.7 29.7 359.5 29.8 354.9 30 358.6 30.2 357 30.5 361.2 30.7 354.4 31.2 362.8 31.5 357.2 31.7 357.9 31.9 364.5 32 357.4 32.4 360.8 32.5 357.1 32.7 358.1 32.9 355.2 33.2 362.5 33.5 355.9 33.7 365 33.9 357.7 34.1 358.8 34.2 365.8 34.6 361.4 34.7 365.7 34.9 361.6 35.1 362.8 35.2 360.4 35.4 361.7 35.6 361.9 35.7 365.1 35.9 360.5 36.1 361.7 36.3 356.4 36.6 364.2 36.8 361.3 36.9 361.4 37.1 364 37.3 361.5 37.4 362.6 37.6 361.6 37.8 357 38.1 366.4 38.4 362.6 38.8 363.4 39 366.5 39.3 361.5 39.5 362 39.6 361.9 39.8 360.8 40 360.7 40.1 362 40.3 355.9 40.5 363.3 40.8 359.1 41 361.8 41.1 360.3 41.3 365.5 41.5 359.3 41.8 363.2 42.2 359 42.3 363.3 42.8 358.4 43.2 366.3 43.3 360.9 43.7 365.2 43.9 365 44 360.8 44.2 363.7 44.4 364.2 44.5 369.1 44.7 362.9 44.9 365.2 45.2 364.1 45.4 359.8 45.7 366.4 45.9 361.5 46 363.1 46.2 360.4 46.4 363.2 46.7 364.4 46.9 361.5 47.2 361 47.4 363.2 47.6 363 47.7 368.4 47.9 360.9 48.1 364.3 48.2 361.1 48.4 361.3 48.6 365.4 48.7 363.6 48.9 363.9 49.1 359 49.3 369.3 49.8 359 50.1 363.2 50.3 360.1 50.4 363.3 50.6 360.8 50.8 369.8 50.9 361.9 51.1 361.3 51.3 367.8 51.4 363.4 51.8 362.4 52 364 52.1 361.4 52.3 362.8 52.6 359 53.1 366.7 53.5 361.6 53.8 364.1 54 356.6 54.2 361.4 54.3 356.9 54.8 362.2 55.2 362.9 55.3 366 55.8 361.7 56 367.6 56.3 361 56.5 361 56.7 364.6 56.9 365.2 57 361.7 57.2 365.5 57.4 359.5 57.7 365.2 57.9 361.1 58 363 58.4 361.9 58.5 357.7 58.7 361.7 59.2 364.6 59.4 365.1 59.6 361.7 59.7 362 59.9 367 60.4 362.1 60.6 365.4 60.7 365.4 60.9 362.4 61.1 363.9 61.4 362.6 61.6 367.6 61.8 359.3 61.9 364.7 62.1 359.9 62.4 364.9 62.6 359.2 62.8 360.2 62.9 359.7 63.4 365.7 63.6 360.9 63.8 365 63.9 359.4 64.1 368.2 64.3 361.4 64.5 361.3 64.6 363.2 64.8 362.7 65.1 358 65.3 364.7 65.5 364.3 65.8 359.3 66.1 365.3 66.3 357.7 66.6 362.5 66.8 360.1 67.3 364.1 67.5 364.1 67.7 364.6 67.8 364.3 68.2 355.5 68.3 362.6 68.5 362.9 68.7 362.8 68.8 359.8 69 366.5 69.2 356.9 69.4 363.4 69.5 362.8 69.9 364.6 70.4 359.8 70.5 362.4 70.7 361.3 70.9 362.2 71.2 355.8 71.5 360.9 71.7 355.3 72.6 361.2 72.7 358 73.1 361.5 73.2 357.2 73.4 363.8 73.6 356.7 73.7 357.9 73.9 352.5 74.1 357.2 74.4 355.5 74.6 357.9 74.8 354.2 74.9 357.7 75.1 351.8 75.4 360.6 75.6 357.4 75.8 358.6 76.1 353.7 76.3 360.8 76.6 359.6 76.8 357.4 77 360.6 77.1 356.5 77.3 359.6 77.5 359.6 77.6 355.7 77.8 361.9 78 358.7 78.1 360.6 78.3 354.7 79 362.3 79.3 359.3 79.5 361.3 79.7 359.3 80 361.3 80.2 358.6 80.3 361.6 80.5 356.8 80.8 362.6 81 359.3 81.2 362.4 81.5 360.8 81.7 365.4 82 360.1 82.2 360.3 82.4 362.1 82.5 357.9 82.7 364.9 83 357.5 83.4 365.8 83.5 362.7 83.7 367.9 83.9 362.3 84.2 367.4 84.4 367.9 84.6 359.9 84.7 364.7 84.9 359.6 85.1 361.1 85.2 357.8 85.4 363.9 85.6 359.7 85.7 360.4 85.9 367.5 86.4 357.7 86.6 363.3 86.7 356.4 87.1 364.2 87.3 364.6 87.4 362.8 87.6 364.6 87.9 360.4 88.3 367 88.4 362.3 88.8 363.8 88.9 358.7 89.1 359.6 89.3 358.1 89.4 363.1 89.8 358.7 90 358.5 90.1 363.6 90.3 363.6 90.6 361 90.8 362 91 360.3 91.1 360.8 91.5 356.2 91.6 356.3 92 361.2 92.2 353.6 92.3 352 92.5 355.8 92.8 349.5 93.2 347 93.3 347.9 93.5 353.6 93.7 341.9 93.8 342.8 94 339 94.2 338.8 94.3 337.7 94.9 328.7 95 332.1 95.2 328.8 95.5 326.9 95.7 322.2 95.9 326.4 96 320.3 96.2 319 96.4 318.8 96.7 328.3 96.9 321.7 97.2 326.8 97.6 321 97.9 326.3 98.1 324.5 98.6 339.2 98.7 337.7 99.1 337.9 99.2 339.1 99.4 338 99.6 344.1 99.7 340.1 100.1 353.5 100.3 349.5 100.4 352.9 100.8 349.1 100.9 355.8 101.1 355.4 101.3 358.1 101.4 357.9 101.6 359.8 101.8 357.6 102.1 362.4 102.3 358.7 102.6 363.6 103.1 357.3 103.5 365.6 103.6 360.6 103.8 361.4 104 359.5 104.1 361.7 104.5 362.8 104.8 359.2 105 367.6 105.3 359.9 105.8 365 106.2 361.3 106.3 363.5 106.5 358.5 106.8 365.5 107 362.7 107.5 359.1 107.7 362.9 107.9 362.3 108 366.8 108.2 360 108.4 362.2 108.7 359.9 108.9 367 109.4 358.5 109.5 363 109.7 363.5 110.1 358 110.2 366.9 110.4 358.6 110.6 365.1 110.7 360.4 111.1 364.9 111.2 359.2 111.7 365.3 111.9 364.8 112.2 358.9 112.4 365.3 112.6 361.1 112.8 363 112.9 357.3 113.3 363.6 113.4 361.3 113.9 366.4 114.4 355.7 114.6 361.4 114.8 357.9 114.9 363.4 115.1 356.7 115.3 365 115.6 358 115.8 362.9 116 363.7 116.1 363.7 116.3 362.1 116.5 363.8 116.6 363.5 116.8 361.2 117 362.4 117.1 358.7 117.3 364.2 117.5 358.7 117.7 361.6 117.8 359 118 364.6 118.3 359.4 118.5 362.8 118.7 361.5 118.8 363.8 119 362.2 119.3 361.4 119.5 357.7 119.7 363.3 119.8 364 120 359.5 120.4 365.1 120.5 364.5 120.7 365.5 120.9 364.5 121 361.1 121.2 367.9 121.5 360.7 121.7 366.1 121.9 360.4 122 364.6 122.2 360.2 122.4 365.4 122.5 365.8 122.7 361.2 122.9 363.9 123.1 364.3 123.2 362.2 123.4 363.8 123.9 359.8 124.1 363.2 124.4 364.7 124.6 363.8 124.7 364.3 124.9 361.6 125.1 367.1 125.3 360.4 125.4 364.6 125.6 362.2 125.8 361.9 125.9 368 126.3 359.6 126.4 363.7 126.6 361.5 126.8 367.6 126.9 360.5 127.1 362.9 127.3 361.3 127.4 361.2 127.6 364.6 128 366 128.3 361.2 128.5 364.1 128.6 361.7 128.8 366.8 129 359 129.1 363.9 129.3 359.4 129.5 360.1 129.6 358.5 129.8 359.2 130 364 130.1 360.7 130.5 359.4 130.8 361.4 131 364.8 131.2 362.6 131.5 362.2 131.7 364.4 131.8 360 132 363.3 132.2 359.5 132.3 359.7 132.5 364.1 133 359.9 133.4 368.2 133.5 364 133.7 364 133.9 362.2 134 365.6 134.2 361.5 134.4 370.3 134.5 363.2 134.7 362.7 134.9 365.8 135 359.6 135.6 362 135.7 367.2 135.9 360.1 136.1 369.1 136.2 365.1 136.4 366.7 136.7 358.6 136.9 359.4 137.1 366.1 137.2 361.8 137.4 363.5 137.6 363.4 137.7 366.5 138.3 362.9 138.4 365.3 138.6 359.9 138.8 360.9 138.9 359.2 139.1 360.3 139.3 358.7 139.4 364.9 139.6 362 139.8 367.4 139.9 361.8 140.1 363.4 140.3 361.4 140.5 364.6 140.6 364.3 140.8 361.8 141 363.5 141.1 360.7 141.3 361.2 141.5 360 141.6 365 141.8 360.2 142 359.8 142.1 365.1 142.5 359 142.8 361 143 359.6 143.2 362.2 143.3 359.3 143.5 359.3 143.8 366.8 144.2 361.4 144.3 363.9 144.5 361.9 144.7 367.2 144.8 363.2 145 363.7 145.2 367.5 145.7 359.9 145.9 361.5 146 358.8 146.2 366.9 146.4 362.1 146.5 364.4 146.9 360.6 147 363.3 147.2 363.5 147.4 362.4 147.5 362.4 147.7 363.4 147.9 360 148 362.2 148.4 360.5 148.6 362.9 148.7 356.8 149.2 366.5 149.6 360.5 149.7 366.3 150.1 360.7 150.4 366.4 150.9 359.7 151.1 364 151.3 359.4 151.6 364.3 151.8 359.7 152.1 363 152.3 361.7 152.4 365.9 152.6 362.5 152.8 364.1 152.9 364.2 153.1 360.9 153.5 365.9 153.8 361 154.1 366.1 154.6 359.2 154.8 362.3 155 358.9 155.1 364.8 155.5 359.1 155.6 365 155.8 363.3 156 363.6 156.2 360 156.3 364.4 156.7 362.8 157 365.2 157.2 362.3 157.3 366.5 157.7 362.2 157.8 364.1 158 363.1 158.2 366.5 158.5 362.1 158.9 364.6 159 358.4 159.7 364.1 160.2 356.9 160.4 361.9 160.5 361.2 160.9 364.9 161.1 360 161.2 365.9 161.4 361.2 161.7 362.8 161.9 357.4 162.1 368.5 162.2 361.5 162.4 365.3 162.7 358.2 162.9 359.6 163.1 359.4 163.4 355.7 163.6 364.2 163.8 360.5 164.1 365.5 164.3 360.9 164.6 364.9 164.9 362.9 165.1 359.8 165.3 359.8 165.4 364.2 165.6 361.7 165.8 364.6 166.1 363.4 166.3 364.1 166.5 362.9 166.6 365.5 166.8 356.9 167.3 366.7 167.5 358 168 365.8 168.3 357 168.7 364.4 168.8 363.6 169 363.5 169.2 364 169.3 360.5 169.7 364.6 170 360.2 170.3 364.2 170.5 360.7 170.7 365.7 171 361.8 171.2 364.6 171.4 362.3 171.5 368 171.9 360.5 172 361.5 172.2 357.2 172.4 364.5 172.7 362.9 172.9 358.7 173 366.4 173.4 361.2 173.6 360.7 173.7 361.1 173.9 364.4 174.4 361.7 174.6 358.8 174.7 360.7 174.9 357.8 175.1 364.9 175.2 362.1 175.4 362.2 175.7 359.6 175.9 356.8 176.1 360 176.4 361.1 176.6 364.5 176.8 364.6 176.9 359.5 177.1 359.9 177.3 364.8 177.4 356.4 177.8 364.2 178.1 361 178.3 364 178.6 360.1 178.8 362.9 179 362 179.5 365.8 179.6 355.9 179.8 363.2 180.1 364.5 180.3 361.4 180.5 361.5 180.6 363.3 181 357.9 181.2 364.2 181.3 364.1 181.5 359.2 181.7 365.1 181.8 360 182 363.3 182.2 358.9 182.3 362.3 182.5 360.4 183 363.9 183.2 359.7 183.3 366.2 183.7 358 184 367.2 184.4 358.6 184.7 363.1 184.9 363.7 185 363.4 185.4 367.6 185.5 362.6 185.7 363.5 185.9 362.4 186.2 365.6 186.6 359.7 186.7 364.8 186.9 366.4 187.1 363 187.2 367.4 187.6 358.5 187.7 361.2 187.9 359.4 188.1 361 188.2 360.1 188.6 364 188.8 357.1 188.9 364.4 189.1 362 189.3 364.9 189.6 356.3 189.9 363.3 190.1 363.4 190.3 362.1 190.4 359.5 190.8 360.2 190.9 359.6 191.1 362.4 191.5 364.5 191.8 362 192 364 192.3 359.7 192.5 364.7 192.6 362.2 192.8 362.2 193 365.6 193.1 363.8 193.3 364.2 193.5 367.6 194 362.7 194.3 355.9 194.7 368.5 194.8 361.9 195 361.2 195.3 365.4 195.5 363.4 195.7 363.9 195.8 363.3 196.2 360.9 196.3 356.4 196.5 362.2 196.7 362.2 196.9 363.1 197 364.9 197.2 358.7 197.4 359.1 197.5 364.1 197.7 358 197.9 362.7 198 362.3 198.2 363.5 198.4 359.9 198.5 363.7 198.7 359 198.9 364.2 199.2 361 199.6 365.5 199.7 359.3 199.9 361.6 200.1 358.8 200.2 364.6 200.4 364 200.6 359.7 200.7 361.4 200.9 359.1 201.2 364.7 201.4 360.6 201.6 362.1 201.8 357.7 201.9 366.5 202.1 358.9 202.3 362.4 202.4 361.1 202.6 364.8 203.1 358.5 203.3 365.2 203.4 357.4 203.6 366.2 203.8 365.5 203.9 367 204.1 359.7 204.6 365.1 204.8 359.4 205 365.4 205.1 359.2 205.3 364.1 205.5 362.4 205.6 362.8 205.8 362.1 206 364.1 206.1 357.7 206.3 365 206.5 360.8 206.7 361.7 206.8 360.2 207 364.1 207.5 359.9 207.7 367.2 207.8 361.7 208 363.8 208.2 361.6 208.3 365.2 208.5 366 208.7 365.2 208.8 366.8 209 366.9 209.2 356.9 209.4 360.8 209.5 359.3 209.7 364.2 210 359.4 210.2 366.8 210.4 363 210.5 366.8 210.7 360.9 211 365.9 211.2 361.7 211.4 363.5 211.7 361.6 211.9 363.5 212.1 357.5 212.2 364.5 212.6 359.3 212.7 364.4 212.9 357.4" fill="none" stroke="#cd6262" stroke-width="0.85" stroke-linejoin="round"/>
<rect x="26.8" y="226.3" width="186.6" height="150.1" fill="none" stroke="#1a1a1a" stroke-width="1.1"/>
<line x1="50.3" y1="376.4" x2="50.3" y2="380" stroke="#1a1a1a" stroke-width="0.9"/>
<line x1="85.01" y1="376.4" x2="85.01" y2="380" stroke="#1a1a1a" stroke-width="0.9"/>
<line x1="119.72" y1="376.4" x2="119.72" y2="380" stroke="#1a1a1a" stroke-width="0.9"/>
<line x1="154.43" y1="376.4" x2="154.43" y2="380" stroke="#1a1a1a" stroke-width="0.9"/>
<line x1="189.14" y1="376.4" x2="189.14" y2="380" stroke="#1a1a1a" stroke-width="0.9"/>
<line x1="32.94" y1="376.4" x2="32.94" y2="378.6" stroke="#1a1a1a" stroke-width="0.9"/>
<line x1="67.66" y1="376.4" x2="67.66" y2="378.6" stroke="#1a1a1a" stroke-width="0.9"/>
<line x1="102.36" y1="376.4" x2="102.36" y2="378.6" stroke="#1a1a1a" stroke-width="0.9"/>
<line x1="137.07" y1="376.4" x2="137.07" y2="378.6" stroke="#1a1a1a" stroke-width="0.9"/>
<line x1="171.78" y1="376.4" x2="171.78" y2="378.6" stroke="#1a1a1a" stroke-width="0.9"/>
<line x1="206.5" y1="376.4" x2="206.5" y2="378.6" stroke="#1a1a1a" stroke-width="0.9"/>
<text x="50.3" y="389.6" font-size="10" text-anchor="middle" fill="#000" stroke="#000" stroke-width="0.06"><tspan>39</tspan></text>
<text x="85.01" y="389.6" font-size="10" text-anchor="middle" fill="#000" stroke="#000" stroke-width="0.06"><tspan>42</tspan></text>
<text x="119.72" y="389.6" font-size="10" text-anchor="middle" fill="#000" stroke="#000" stroke-width="0.06"><tspan>45</tspan></text>
<text x="154.43" y="389.6" font-size="10" text-anchor="middle" fill="#000" stroke="#000" stroke-width="0.06"><tspan>48</tspan></text>
<text x="189.14" y="389.6" font-size="10" text-anchor="middle" fill="#000" stroke="#000" stroke-width="0.06"><tspan>51</tspan></text>
<line x1="35.9" y1="236.2" x2="46.2" y2="236.2" stroke="#5a80bd" stroke-width="1.2"/>
<text x="52.7" y="239.6" font-size="9.7" text-anchor="start" fill="#000" stroke="#000" stroke-width="0.06"><tspan>Fe</tspan><tspan dy="2.91" font-size="6.79">5</tspan><tspan dy="-2.91">C</tspan><tspan dy="2.91" font-size="6.79">2</tspan><tspan dy="-2.91">@C</tspan></text>
<text x="210.2" y="239.6" font-size="9.7" text-anchor="end" fill="#86a4cf" stroke="#86a4cf" stroke-width="0.06"><tspan>Fe</tspan><tspan dy="2.91" font-size="6.79">5</tspan><tspan dy="-2.91">C</tspan><tspan dy="2.91" font-size="6.79">2</tspan><tspan dy="-2.91"> 01-080-9890</tspan></text>
<line x1="35.9" y1="311.4" x2="46.5" y2="311.4" stroke="#d06a6a" stroke-width="1.2"/>
<text x="52.7" y="314.9" font-size="9.7" text-anchor="start" fill="#000" stroke="#000" stroke-width="0.06"><tspan>K-Fe</tspan><tspan dy="2.91" font-size="6.79">2</tspan><tspan dy="-2.91">C@C</tspan></text>
<text x="210.2" y="314.9" font-size="9.7" text-anchor="end" fill="#e5a5a5" stroke="#e5a5a5" stroke-width="0.06"><tspan>Fe</tspan><tspan dy="2.91" font-size="6.79">2</tspan><tspan dy="-2.91">C 00-036-1249</tspan></text>
<text x="120.2" y="401.8" font-size="12.7" text-anchor="middle" fill="#000" stroke="#000" stroke-width="0.06"><tspan>2</tspan><tspan font-style="italic">θ</tspan><tspan> / Degree</tspan></text>
<text x="13.6" y="298.4" font-size="12.7" text-anchor="middle" fill="#000" stroke="#000" stroke-width="0.06" transform="rotate(-90 13.6 298.4)"><tspan>Intensity / a.u.</tspan></text>
<text x="5.5" y="241" font-size="15" text-anchor="start" fill="#000" stroke="#000" stroke-width="0.06"><tspan>b</tspan></text>
<path d="M387.7 296.7 391.8 295.4 393.3 295.2 394.8 295.4 398.9 296.9 L398.93 297.23 L398.56 297.22 L398.18 297.22 L397.81 297.22 L397.43 297.22 L397.06 297.21 L396.68 297.21 L396.31 297.21 L395.94 297.2 L395.56 297.2 L395.19 297.19 L394.81 297.19 L394.44 297.18 L394.06 297.18 L393.69 297.17 L393.31 297.16 L392.94 297.16 L392.56 297.15 L392.19 297.14 L391.82 297.13 L391.44 297.13 L391.07 297.12 L390.69 297.11 L390.32 297.1 L389.94 297.09 L389.57 297.08 L389.19 297.07 L388.82 297.05 L388.44 297.04 L388.07 297.03 L387.7 297.01 Z" fill="#6d8dc0" stroke="#6d8dc0" stroke-width="0.5"/>
<path d="M269.7 291.4 280.6 290.6 298.2 288.1 304.9 287.7 312 288.2 329.3 291.1 340.5 292.3" fill="none" stroke="#a9bde0" stroke-width="0.55" stroke-linejoin="round"/>
<path d="M301.9 291.6 311.3 290.9 315 290.3 318.8 289.4 322.1 288.3 325.9 286.8 337.5 281 341.6 279.2 346.1 278 350.2 277.8 352.5 278.1 354.7 278.7 359.2 280.5 363.4 282.9 374.6 290.4 378 292.3 381.3 293.8 385.1 295.1 388.8 296 393.3 296.6 398.2 297" fill="none" stroke="#a9bde0" stroke-width="0.55" stroke-linejoin="round"/>
<path d="M313.5 291.8 332.6 291.8 340.1 291.6 342.7 291.3 345 290.8 346.9 290 348.4 289.1 351 286.7 353.6 282.8 356.6 276.3 361.5 263.3 363.4 258.9 365.2 256 366.3 255.2 367.1 255.1 367.8 255.4 369 256.5 370.8 260 372.7 264.8 377.6 279 380.2 285.3 382.8 289.8 384.3 291.7 385.8 293.1 387.7 294.4 389.6 295.2 391.8 295.8 394.4 296.2 403.1 296.7 420.7 297" fill="none" stroke="#a9bde0" stroke-width="0.55" stroke-linejoin="round"/>
<path d="M337.1 292.2 351 292.5 355.9 292.4 359.6 291.8 362.2 290.6 364.5 288.5 366.3 285.9 369 280.8 374.2 268.6 375.3 266.7 376.1 265.8 376.8 265.3 377.6 265.1 378.3 265.3 379.1 266 379.8 266.9 381 269 386.6 283.2 388.8 288.1 391.1 291.6 393.3 293.9 394.8 294.8 396.3 295.5 400.1 296.3 406 296.8 418.4 297" fill="none" stroke="#a9bde0" stroke-width="0.55" stroke-linejoin="round"/>
<path d="M387.3 296.7 388.8 296.4 391.8 295.4 393.3 295.2 394.8 295.4 399.3 296.9" fill="none" stroke="#a9bde0" stroke-width="0.55" stroke-linejoin="round"/>
<g fill="none" stroke="#c5cad2" stroke-width="0.55" stroke-opacity="1">
<circle cx="261.6" cy="291" r="1.6"/>
<circle cx="269.1" cy="291.28" r="1.6"/>
<circle cx="276.6" cy="288.11" r="1.6"/>
<circle cx="284.1" cy="292.12" r="1.6"/>
<circle cx="291.6" cy="286.41" r="1.6"/>
<circle cx="299.1" cy="286.48" r="1.6"/>
<circle cx="306.6" cy="287.58" r="1.6"/>
<circle cx="314.1" cy="284.99" r="1.6"/>
<circle cx="321.6" cy="284.36" r="1.6"/>
<circle cx="329.1" cy="282.27" r="1.6"/>
<circle cx="336.6" cy="280.69" r="1.6"/>
<circle cx="344.1" cy="279.21" r="1.6"/>
<circle cx="351.6" cy="270.19" r="1.6"/>
<circle cx="359.1" cy="253.37" r="1.6"/>
<circle cx="366.6" cy="237.4" r="1.6"/>
<circle cx="374.1" cy="235.72" r="1.6"/>
<circle cx="381.6" cy="259.02" r="1.6"/>
<circle cx="389.1" cy="286.27" r="1.6"/>
<circle cx="396.6" cy="292.34" r="1.6"/>
<circle cx="404.1" cy="296.07" r="1.6"/>
<circle cx="411.6" cy="295.39" r="1.6"/>
<circle cx="419.1" cy="296.56" r="1.6"/>
<circle cx="426.6" cy="297.24" r="1.6"/>
<circle cx="434.1" cy="295.71" r="1.6"/>
<circle cx="441.6" cy="296.62" r="1.6"/>
</g>
<path d="M259.6 291.7 297.4 291.8 336 292.5 349.1 293 358.1 293.6 364.8 294.3 379.1 296.3 386.9 297 399.7 297.2 446.5 297.3" fill="none" stroke="#4a74b3" stroke-width="0.9" stroke-linejoin="round"/>
<path d="M259.6 291.6 269.3 291.3 276.8 290.9 283.6 290.1 300.4 287.4 305.3 287 315.8 286.5 320.7 285.9 324.8 285 329.3 283.4 333.8 281.4 343.5 276.5 346.5 274.8 348.7 273.2 351 270.9 352.9 268.4 354.7 265.1 357 260.2 363 244.3 365.2 239.1 366.7 236.5 367.8 235.2 369 234.3 370.5 234 371.2 234.1 372.3 234.7 373.8 236.2 375.7 239.2 377.2 242.8 379.5 250.3 385.4 274.6 386.9 279.5 388.4 283.4 389.6 285.6 391.1 287.8 396.7 293.4 398.6 294.7 400.4 295.4 402.7 295.9 406 296.2 420.3 296.8 446.5 297.1" fill="none" stroke="#4a74b3" stroke-width="1.15" stroke-linejoin="round"/>
<path d="M398.6 373.2 400.1 372.7 402.7 371.2 403.8 371 404.9 371.3 407.5 372.7 409 373.3 L409.05 373.64 L408.67 373.64 L408.3 373.64 L407.92 373.64 L407.55 373.64 L407.17 373.63 L406.8 373.63 L406.42 373.63 L406.05 373.63 L405.67 373.62 L405.3 373.62 L404.93 373.62 L404.55 373.61 L404.18 373.61 L403.8 373.61 L403.43 373.6 L403.05 373.6 L402.68 373.6 L402.3 373.6 L401.93 373.59 L401.55 373.59 L401.18 373.59 L400.81 373.58 L400.43 373.58 L400.06 373.58 L399.68 373.58 L399.31 373.57 L398.93 373.57 L398.56 373.57 Z" fill="#d98080" stroke="#d98080" stroke-width="0.5"/>
<path d="M270.1 369.1 276.1 368.8 281.7 368.2 299.3 365.4 306 365 309.8 365.2 313.5 365.6 331.5 368.7 342 369.7" fill="none" stroke="#eab2b2" stroke-width="0.55" stroke-linejoin="round"/>
<path d="M319.5 369.5 325.1 368.9 329.6 367.7 334.1 365.8 341.3 361.7 343.9 360.5 346.9 359.5 349.5 359.3 352.1 359.8 355.1 361 358.1 362.8 365.2 367.6 369.7 370 374.2 371.6 379.1 372.7" fill="none" stroke="#eab2b2" stroke-width="0.55" stroke-linejoin="round"/>
<path d="M284.3 369.2 314.3 369.1 330.4 368.6 335.3 368.3 339 367.7 342 366.9 344.2 366 346.5 364.5 348.4 362.7 350.2 360.3 351.7 357.9 353.6 354.2 355.5 349.9 361.5 333.5 363.4 329 364.5 326.8 365.6 325.3 366.7 324.5 367.5 324.3 368.2 324.5 369.3 325.5 370.5 327.1 371.6 329.4 373.8 335.2 379.5 351.7 381.3 356.4 383.2 360.4 384.7 363 386.6 365.6 388.4 367.6 390.7 369.3 392.9 370.4 395.9 371.3 399.7 371.9 404.6 372.4 420.3 373.1 446.5 373.4" fill="none" stroke="#eab2b2" stroke-width="0.55" stroke-linejoin="round"/>
<path d="M324.4 369.5 349.5 369.3 354 368.8 357.4 367.8 360.4 366.1 363 363.5 365.6 360 370.5 351.8 372 349.6 373.8 347.8 375.3 347.2 376.1 347.4 377.2 348 379.1 350.2 385.4 361.7 388.4 366.1 391.1 368.9 393.7 370.6 395.6 371.5 397.4 372 402.7 372.7 411.3 373.1 426.6 373.4" fill="none" stroke="#eab2b2" stroke-width="0.55" stroke-linejoin="round"/>
<path d="M398.2 373.3 399.7 372.8 402.7 371.2 403.8 371 404.9 371.3 407.9 372.9 409.4 373.4" fill="none" stroke="#eab2b2" stroke-width="0.55" stroke-linejoin="round"/>
<g fill="none" stroke="#c5cad2" stroke-width="0.55" stroke-opacity="1">
<circle cx="261.6" cy="371.46" r="1.6"/>
<circle cx="269.1" cy="369.51" r="1.6"/>
<circle cx="276.6" cy="368.59" r="1.6"/>
<circle cx="284.1" cy="365.1" r="1.6"/>
<circle cx="291.6" cy="365.81" r="1.6"/>
<circle cx="299.1" cy="364.44" r="1.6"/>
<circle cx="306.6" cy="364.29" r="1.6"/>
<circle cx="314.1" cy="364.05" r="1.6"/>
<circle cx="321.6" cy="365.56" r="1.6"/>
<circle cx="329.1" cy="364.44" r="1.6"/>
<circle cx="336.6" cy="359.95" r="1.6"/>
<circle cx="344.1" cy="356.71" r="1.6"/>
<circle cx="351.6" cy="347.39" r="1.6"/>
<circle cx="359.1" cy="331.15" r="1.6"/>
<circle cx="366.6" cy="308.34" r="1.6"/>
<circle cx="374.1" cy="309.83" r="1.6"/>
<circle cx="381.6" cy="337.57" r="1.6"/>
<circle cx="389.1" cy="359.59" r="1.6"/>
<circle cx="396.6" cy="370.89" r="1.6"/>
<circle cx="404.1" cy="367.58" r="1.6"/>
<circle cx="411.6" cy="370.72" r="1.6"/>
<circle cx="419.1" cy="372.41" r="1.6"/>
<circle cx="426.6" cy="374.86" r="1.6"/>
<circle cx="434.1" cy="373.41" r="1.6"/>
<circle cx="441.6" cy="371.89" r="1.6"/>
</g>
<path d="M259.6 369.4 294.1 369.5 342 370 358.9 370.7 378 372.8 386.2 373.4 407.2 373.6 446.5 373.7" fill="none" stroke="#c95a5a" stroke-width="0.9" stroke-linejoin="round"/>
<path d="M259.6 369.2 270.1 368.9 278.3 368.3 285.1 367.4 297.8 365.1 303.8 364.5 309.4 364.5 321 365.6 325.9 365.6 328.5 365.2 330.8 364.6 333 363.7 335.3 362.5 339.8 359.4 344.6 355.1 348.4 350.9 351.4 346.6 354 341.8 356.6 335.8 358.9 329.6 363.7 315.1 365.6 310.3 366.7 308.1 367.8 306.4 369 305.5 370.1 305.2 371.2 305.7 372.7 307.5 373.8 309.7 375.3 313.7 377.6 321.6 383.6 346 385.4 352.4 386.9 356.7 388.4 360.3 389.9 363.1 391.4 365.4 393.3 367.5 395.2 368.9 397.4 369.9 399.3 370.1 402.7 369 403.8 369 404.9 369.3 408.7 371.6 411.3 372.2 424.8 372.9 446.5 373.3" fill="none" stroke="#c95a5a" stroke-width="1.15" stroke-linejoin="round"/>
<rect x="260" y="226.3" width="186.1" height="150.1" fill="none" stroke="#1a1a1a" stroke-width="1.1"/>
<line x1="261.1" y1="376.4" x2="261.1" y2="380" stroke="#1a1a1a" stroke-width="0.9"/>
<line x1="312.79" y1="376.4" x2="312.79" y2="380" stroke="#1a1a1a" stroke-width="0.9"/>
<line x1="364.48" y1="376.4" x2="364.48" y2="380" stroke="#1a1a1a" stroke-width="0.9"/>
<line x1="416.17" y1="376.4" x2="416.17" y2="380" stroke="#1a1a1a" stroke-width="0.9"/>
<line x1="286.95" y1="376.4" x2="286.95" y2="378.6" stroke="#1a1a1a" stroke-width="0.9"/>
<line x1="338.63" y1="376.4" x2="338.63" y2="378.6" stroke="#1a1a1a" stroke-width="0.9"/>
<line x1="390.33" y1="376.4" x2="390.33" y2="378.6" stroke="#1a1a1a" stroke-width="0.9"/>
<line x1="442.01" y1="376.4" x2="442.01" y2="378.6" stroke="#1a1a1a" stroke-width="0.9"/>
<text x="261.1" y="389.6" font-size="10" text-anchor="middle" fill="#000" stroke="#000" stroke-width="0.06"><tspan>291</tspan></text>
<text x="312.79" y="389.6" font-size="10" text-anchor="middle" fill="#000" stroke="#000" stroke-width="0.06"><tspan>288</tspan></text>
<text x="364.48" y="389.6" font-size="10" text-anchor="middle" fill="#000" stroke="#000" stroke-width="0.06"><tspan>285</tspan></text>
<text x="416.17" y="389.6" font-size="10" text-anchor="middle" fill="#000" stroke="#000" stroke-width="0.06"><tspan>282</tspan></text>
<text x="353.2" y="403.7" font-size="12.7" text-anchor="middle" fill="#000" stroke="#000" stroke-width="0.06"><tspan>Binding energy / eV</tspan></text>
<text x="246" y="303" font-size="12.7" text-anchor="middle" fill="#000" stroke="#000" stroke-width="0.06" transform="rotate(-90 246 303)"><tspan>Intensity / a.u.</tspan></text>
<text x="238.3" y="240.7" font-size="15" text-anchor="start" fill="#000" stroke="#000" stroke-width="0.06"><tspan>c</tspan></text>
<text x="266.7" y="239.5" font-size="9.7" text-anchor="start" fill="#000" stroke="#000" stroke-width="0.06"><tspan>C 1</tspan><tspan font-style="italic">s</tspan></text>
<text x="265.5" y="284" font-size="9.7" text-anchor="start" fill="#000" stroke="#000" stroke-width="0.06"><tspan>Fe</tspan><tspan dy="2.91" font-size="6.79">5</tspan><tspan dy="-2.91">C</tspan><tspan dy="2.91" font-size="6.79">2</tspan><tspan dy="-2.91">@C</tspan></text>
<text x="265.6" y="357.9" font-size="9.7" text-anchor="start" fill="#000" stroke="#000" stroke-width="0.06"><tspan>K-Fe</tspan><tspan dy="2.91" font-size="6.79">2</tspan><tspan dy="-2.91">C@C</tspan></text>
<text x="305" y="304.9" font-size="7.2" text-anchor="middle" fill="#c9c9c9"><tspan>C=O</tspan></text>
<text x="339.6" y="304.9" font-size="7.2" text-anchor="middle" fill="#c9c9c9"><tspan>C-O</tspan></text>
<text x="362.9" y="304.3" font-size="7.2" text-anchor="middle" fill="#c9c9c9"><tspan font-style="italic">sp</tspan><tspan dy="-2.88" font-size="5.04">3</tspan></text>
<text x="379.9" y="304.3" font-size="7.2" text-anchor="middle" fill="#c9c9c9"><tspan font-style="italic">sp</tspan><tspan dy="-2.88" font-size="5.04">2</tspan></text>
<text x="424.8" y="253.5" font-size="8" text-anchor="middle" fill="#2a2a2a" stroke="#2a2a2a" stroke-width="0.06"><tspan>283.32 eV</tspan></text>
<text x="424.8" y="262.6" font-size="8" text-anchor="middle" fill="#2a2a2a" stroke="#2a2a2a" stroke-width="0.06"><tspan>Fe-C</tspan></text>
<text x="424.8" y="272.5" font-size="8" text-anchor="middle" fill="#2a2a2a" stroke="#2a2a2a" stroke-width="0.06"><tspan>in Fe</tspan><tspan dy="2.4" font-size="5.6">5</tspan><tspan dy="-2.4">C</tspan><tspan dy="2.4" font-size="5.6">2</tspan></text>
<line x1="408.8" y1="278" x2="401.5" y2="292" stroke="#1a1a1a" stroke-width="0.7"/>
<polygon points="401.5,292 401.83,288.56 404.13,289.76" fill="#1a1a1a"/>
<text x="424.8" y="331.2" font-size="8" text-anchor="middle" fill="#2a2a2a" stroke="#2a2a2a" stroke-width="0.06"><tspan>282.72 eV</tspan></text>
<text x="424.8" y="340.5" font-size="8" text-anchor="middle" fill="#2a2a2a" stroke="#2a2a2a" stroke-width="0.06"><tspan>Fe-C</tspan></text>
<text x="424.8" y="349.8" font-size="8" text-anchor="middle" fill="#2a2a2a" stroke="#2a2a2a" stroke-width="0.06"><tspan>in Fe</tspan><tspan dy="2.4" font-size="5.6">2</tspan><tspan dy="-2.4">C</tspan></text>
<line x1="412.7" y1="355" x2="405.2" y2="366.2" stroke="#1a1a1a" stroke-width="0.7"/>
<polygon points="405.2,366.2 405.9,362.82 408.06,364.26" fill="#1a1a1a"/>
<path d="M586 265.9 587.6 265.5 590.4 264.1 591.6 264.1 592.8 264.8 595.6 267.6 597.2 268.6 L597.18 268.91 L596.87 268.83 L596.56 268.76 L596.25 268.69 L595.94 268.61 L595.63 268.54 L595.32 268.47 L595.01 268.4 L594.7 268.32 L594.39 268.25 L594.08 268.18 L593.77 268.1 L593.46 268.03 L593.15 267.96 L592.85 267.88 L592.54 267.81 L592.23 267.74 L591.92 267.66 L591.61 267.59 L591.3 267.51 L590.99 267.44 L590.68 267.36 L590.37 267.29 L590.06 267.21 L589.75 267.14 L589.44 267.06 L589.13 266.99 L588.82 266.91 L588.51 266.84 L588.2 266.77 L587.89 266.69 L587.58 266.62 L587.27 266.54 L586.96 266.47 L586.65 266.4 L586.35 266.32 L586.04 266.25 Z" fill="#5a7bb0" stroke="#5a7bb0" stroke-width="0.5"/>
<path d="M644.5 293.9 645.5 293.9 646.4 293.4 649.2 290.2 649.8 289.8 650.4 289.8 651 290.3 651.7 291.1 654.4 295.7 655.4 296.6 656.3 297.1 L656.3 297.36 L655.99 297.35 L655.68 297.33 L655.37 297.31 L655.06 297.3 L654.75 297.28 L654.44 297.26 L654.13 297.24 L653.82 297.22 L653.51 297.21 L653.2 297.18 L652.89 297.16 L652.58 297.14 L652.27 297.12 L651.96 297.1 L651.65 297.07 L651.34 297.03 L651.03 296.97 L650.72 296.91 L650.42 296.84 L650.11 296.76 L649.8 296.67 L649.49 296.57 L649.18 296.47 L648.87 296.36 L648.56 296.24 L648.25 296.11 L647.94 295.98 L647.63 295.84 L647.32 295.7 L647.01 295.56 L646.7 295.41 L646.39 295.25 L646.08 295.1 L645.77 294.94 L645.46 294.78 L645.15 294.61 L644.84 294.45 L644.53 294.28 Z" fill="#5a7bb0" stroke="#5a7bb0" stroke-width="0.5"/>
<path d="M571.5 262.6 593.5 267.5 610.2 270.8 614.8 271.2 616.4 271 617.9 270.5 619.5 269.4 621 267.7 622.2 265.7 623.5 263.1 626 256.1 631.2 237.4 632.8 233.9 633.7 233 634.3 232.9 634.9 233.3 635.9 234.8 637.4 239.6 639 246.7 643.3 269.1 645.8 279.3 647.9 285.9 649.2 288.7 650.4 290.9 651.7 292.4 653.5 293.9 655.7 295 658.2 295.7 661.2 296.2 665.6 296.6 679.2 297.2" fill="none" stroke="#a9bde0" stroke-width="0.55" stroke-linejoin="round"/>
<path d="M601.8 269.8 604 269.9 605.8 269.8 607.4 269.5 608.9 268.8 611.7 266.7 616.7 261.1 618.5 259.4 619.5 258.9 620.4 258.6 621.3 258.7 622.2 259.1 624.1 260.9 626 263.9 628.1 268.3 632.5 278.2 635.2 283.6 639 289 640.8 291.2 642.4 292.7" fill="none" stroke="#a9bde0" stroke-width="0.55" stroke-linejoin="round"/>
<path d="M528.5 253.4 550.8 256.7 553.8 256.8 556.3 256.3 558.5 255.1 560.7 252.8 563.1 249 568.4 238.7 569.9 236.9 570.9 236.4 571.5 236.4 572.1 236.7 573 237.5 574.6 240.1 579.8 252.8 582.3 257.8 584.5 261.1 586.7 263.4 589.4 265.3 592.8 266.9 608 271.4 614.5 273.5" fill="none" stroke="#a9bde0" stroke-width="0.55" stroke-linejoin="round"/>
<path d="M521 252.5 526.3 252.5 530.6 252.1 535 251 542.1 248.3 544.9 247.5 547.7 247.1 550.4 247.3 553.2 248.2 556.3 249.9 565.9 257.4 570.6 260.5 575.2 262.8 580.8 264.8" fill="none" stroke="#a9bde0" stroke-width="0.55" stroke-linejoin="round"/>
<path d="M496 249.9 501.2 249.9 510.2 249.3 515.2 249.5 520.1 250.5 529.1 253 534 254.2" fill="none" stroke="#a9bde0" stroke-width="0.55" stroke-linejoin="round"/>
<path d="M575.8 263.6 579.5 264 582.6 263.8 585.7 263 593.2 260.4 595.3 260.2 597.2 260.4 599.3 261.3 601.5 262.7 608.3 268.7 611.4 271.1 614.5 273 618.2 275" fill="none" stroke="#a9bde0" stroke-width="0.55" stroke-linejoin="round"/>
<path d="M585.7 265.9 587.6 265.5 590.4 264.1 591.6 264.1 592.8 264.8 595.6 267.6 597.2 268.6" fill="none" stroke="#a9bde0" stroke-width="0.55" stroke-linejoin="round"/>
<path d="M644.2 293.8 645.2 293.9 646.1 293.6 647 292.8 649.2 290.2 649.8 289.8 650.4 289.8 651 290.3 651.7 291.1 654.4 295.7 655.4 296.6 656.3 297.1" fill="none" stroke="#a9bde0" stroke-width="0.55" stroke-linejoin="round"/>
<g fill="none" stroke="#c5cad2" stroke-width="0.55" stroke-opacity="1">
<circle cx="495.8" cy="250.38" r="1.6"/>
<circle cx="502.3" cy="249.23" r="1.6"/>
<circle cx="508.8" cy="252.36" r="1.6"/>
<circle cx="515.3" cy="248.96" r="1.6"/>
<circle cx="521.8" cy="250.5" r="1.6"/>
<circle cx="528.3" cy="253.29" r="1.6"/>
<circle cx="534.8" cy="249.23" r="1.6"/>
<circle cx="541.3" cy="247.21" r="1.6"/>
<circle cx="547.8" cy="246.37" r="1.6"/>
<circle cx="554.3" cy="246.14" r="1.6"/>
<circle cx="560.8" cy="243.85" r="1.6"/>
<circle cx="567.3" cy="236.64" r="1.6"/>
<circle cx="573.8" cy="236.58" r="1.6"/>
<circle cx="580.3" cy="252.98" r="1.6"/>
<circle cx="586.8" cy="256.43" r="1.6"/>
<circle cx="593.3" cy="255.13" r="1.6"/>
<circle cx="599.8" cy="261.55" r="1.6"/>
<circle cx="606.3" cy="266.31" r="1.6"/>
<circle cx="612.8" cy="260.11" r="1.6"/>
<circle cx="619.3" cy="253.33" r="1.6"/>
<circle cx="625.8" cy="239.63" r="1.6"/>
<circle cx="632.3" cy="227.45" r="1.6"/>
<circle cx="638.8" cy="243.6" r="1.6"/>
<circle cx="645.3" cy="276.07" r="1.6"/>
<circle cx="651.8" cy="288.03" r="1.6"/>
<circle cx="658.3" cy="296.53" r="1.6"/>
<circle cx="664.8" cy="296.56" r="1.6"/>
<circle cx="671.3" cy="296.41" r="1.6"/>
<circle cx="677.8" cy="297.13" r="1.6"/>
</g>
<path d="M493.8 250.1 506.5 251.1 521 252.7 531.3 254.1 540.8 255.7 548.3 257.2 563.8 261.1 603.1 270.4 609.6 272.2 615.1 274 620.1 276 624.1 278.1 627.8 280.4 630.3 282.2 642.7 293.2 646.1 295.1 649.2 296.5 651.7 297.1 657.5 297.4 679.2 297.7" fill="none" stroke="#4a74b3" stroke-width="0.9" stroke-linejoin="round"/>
<path d="M493.8 249.8 500 249.8 509.6 249.2 513.3 249.1 517.3 249.5 525.7 251 530 251.2 532.5 250.9 535 250.4 543.6 247.1 547 246.2 550.1 246.1 555.7 246.7 558.2 246.6 560 245.9 561.9 244.5 563.8 242.2 568.4 235.5 569.6 234.4 570.9 234.1 572.1 234.7 573.7 236.8 575.2 240 578.6 248.4 580.5 252.5 582.3 255.7 584.2 257.8 585.7 258.6 587 258.6 588.2 257.9 590.7 255.9 591.6 255.6 592.2 255.6 593.2 256 596.2 258.2 600.3 260.3 605.2 263.4 607.4 264.2 609.2 264.2 610.8 263.7 612.3 262.5 613.9 260.8 615.4 258.7 618.8 253.3 624.1 244.2 630.6 230.7 632.2 228.7 632.8 228.3 633.4 228.3 634.3 228.9 635.2 230.6 636.2 233.1 637.1 236.6 638.7 244 643 267.3 644.2 272.8 645.5 277.1 646.1 278.8 647 280.5 647.9 281.5 649.5 282.6 650.4 283.8 651.3 285.6 653.5 291 654.7 293.2 655.7 294.3 656.6 295 657.8 295.5 660 295.9 667.4 296.7 679.2 297.2" fill="none" stroke="#4a74b3" stroke-width="1.15" stroke-linejoin="round"/>
<path d="M585.4 336.1 586.3 335.9 587.3 335.5 590.4 332.8 591 332.6 591.6 332.7 592.8 333.8 595.9 338.3 597.5 339.7 L597.49 340.13 L597.18 340.03 L596.87 339.93 L596.56 339.83 L596.25 339.73 L595.94 339.63 L595.63 339.53 L595.32 339.43 L595.01 339.34 L594.7 339.24 L594.39 339.14 L594.08 339.04 L593.77 338.95 L593.46 338.85 L593.15 338.75 L592.85 338.66 L592.54 338.56 L592.23 338.47 L591.92 338.38 L591.61 338.28 L591.3 338.19 L590.99 338.09 L590.68 338 L590.37 337.91 L590.06 337.82 L589.75 337.73 L589.44 337.63 L589.13 337.54 L588.82 337.45 L588.51 337.36 L588.2 337.27 L587.89 337.18 L587.58 337.09 L587.27 336.99 L586.96 336.9 L586.65 336.81 L586.35 336.72 L586.04 336.63 L585.73 336.54 L585.42 336.45 Z" fill="#d57878" stroke="#d57878" stroke-width="0.5"/>
<path d="M646.1 368.2 647.3 368.2 648.6 367.2 649.8 365.2 652.3 359.8 652.9 359.1 653.5 359 654.1 359.4 655.1 361.1 657.2 367 658.5 369.7 659.7 371.3 660.9 372.1 L660.94 372.51 L660.63 372.5 L660.32 372.49 L660.01 372.48 L659.7 372.46 L659.39 372.45 L659.08 372.44 L658.77 372.42 L658.46 372.41 L658.15 372.39 L657.84 372.38 L657.53 372.36 L657.22 372.34 L656.91 372.33 L656.61 372.31 L656.3 372.29 L655.99 372.27 L655.68 372.25 L655.37 372.23 L655.06 372.2 L654.75 372.18 L654.44 372.14 L654.13 372.1 L653.82 372.04 L653.51 371.98 L653.2 371.9 L652.89 371.82 L652.58 371.73 L652.27 371.63 L651.96 371.53 L651.65 371.41 L651.34 371.3 L651.03 371.17 L650.72 371.04 L650.42 370.9 L650.11 370.76 L649.8 370.61 L649.49 370.46 L649.18 370.31 L648.87 370.15 L648.56 369.99 L648.25 369.82 L647.94 369.65 L647.63 369.48 L647.32 369.31 L647.01 369.14 L646.7 368.96 L646.39 368.79 L646.08 368.61 Z" fill="#d57878" stroke="#d57878" stroke-width="0.5"/>
<path d="M577.4 333.9 592.2 338 612.3 343.9 616.7 344.6 618.2 344.6 619.8 344.2 621.3 343.3 622.6 342.2 623.8 340.5 625 338.1 627.5 331.5 631.2 318.6 632.8 313.9 633.7 311.8 634.3 310.8 634.9 310.3 635.6 310.2 636.2 310.7 637.1 312.3 638.7 317.3 644.2 344.9 646.7 354.9 649.2 362 650.4 364.6 651.7 366.6 652.9 368.1 654.4 369.3 656.3 370.2 658.8 370.8 665.9 371.7 679.2 372.2" fill="none" stroke="#eab2b2" stroke-width="0.55" stroke-linejoin="round"/>
<path d="M603.4 341.8 607.1 342.4 609.9 342 612.7 340.8 617.6 337.1 619.5 336 621.3 335.7 622.2 335.9 623.2 336.3 625 338.1 627.2 341.2 633.4 353.5 635.9 357.8 639.3 362.5 642.7 366.2" fill="none" stroke="#eab2b2" stroke-width="0.55" stroke-linejoin="round"/>
<path d="M533.1 325.7 545.2 327.3 551.4 327.9 555.1 327.8 557.9 327.2 560.3 325.7 562.8 323.2 565 320 568.7 313.5 570.3 311.3 571.8 310.1 573 310.1 573.7 310.4 574.6 311.3 576.1 313.7 581.1 324.5 583.6 329.1 585.7 332.3 587.9 334.5 590.4 336.3 593.8 338 613 345.4" fill="none" stroke="#eab2b2" stroke-width="0.55" stroke-linejoin="round"/>
<path d="M520.7 324.1 525.7 324.4 530.3 324.3 544.6 323.2 547.7 323.3 550.4 323.6 553.5 324.3 556.9 325.4 570.6 331.3 579.2 334.4" fill="none" stroke="#eab2b2" stroke-width="0.55" stroke-linejoin="round"/>
<path d="M583.6 335.7 588.5 336.3 596.6 336.3 600 336.9 603.4 338.5 611.1 343.8 616.4 346.7" fill="none" stroke="#eab2b2" stroke-width="0.55" stroke-linejoin="round"/>
<path d="M599.7 340.6 603.1 341 608.6 340.9 611.1 341.4 613.9 343 619.2 347.3 622.2 349.5" fill="none" stroke="#eab2b2" stroke-width="0.55" stroke-linejoin="round"/>
<path d="M585.1 336.1 586 336 587 335.7 590.1 333 591 332.6 591.6 332.7 592.8 333.8 595.9 338.3 597.8 339.9" fill="none" stroke="#eab2b2" stroke-width="0.55" stroke-linejoin="round"/>
<path d="M645.8 368.1 647.3 368.2 648.6 367.2 649.8 365.2 652.3 359.8 652.9 359.1 653.5 359 654.1 359.4 655.1 361.1 657.2 367 658.5 369.7 659.7 371.3 661.2 372.2" fill="none" stroke="#eab2b2" stroke-width="0.55" stroke-linejoin="round"/>
<g fill="none" stroke="#c5cad2" stroke-width="0.55" stroke-opacity="1">
<circle cx="495.8" cy="321.31" r="1.6"/>
<circle cx="502.3" cy="323.23" r="1.6"/>
<circle cx="508.8" cy="323.18" r="1.6"/>
<circle cx="515.3" cy="322.34" r="1.6"/>
<circle cx="521.8" cy="320.74" r="1.6"/>
<circle cx="528.3" cy="325.27" r="1.6"/>
<circle cx="534.8" cy="325.1" r="1.6"/>
<circle cx="541.3" cy="320.89" r="1.6"/>
<circle cx="547.8" cy="324.67" r="1.6"/>
<circle cx="554.3" cy="322.51" r="1.6"/>
<circle cx="560.8" cy="325.29" r="1.6"/>
<circle cx="567.3" cy="314.75" r="1.6"/>
<circle cx="573.8" cy="309.12" r="1.6"/>
<circle cx="580.3" cy="323.83" r="1.6"/>
<circle cx="586.8" cy="331.43" r="1.6"/>
<circle cx="593.3" cy="330.54" r="1.6"/>
<circle cx="599.8" cy="335.44" r="1.6"/>
<circle cx="606.3" cy="335.92" r="1.6"/>
<circle cx="612.8" cy="335.71" r="1.6"/>
<circle cx="619.3" cy="332.08" r="1.6"/>
<circle cx="625.8" cy="323.7" r="1.6"/>
<circle cx="632.3" cy="311.67" r="1.6"/>
<circle cx="638.8" cy="314.95" r="1.6"/>
<circle cx="645.3" cy="348.58" r="1.6"/>
<circle cx="651.8" cy="356.99" r="1.6"/>
<circle cx="658.3" cy="366.14" r="1.6"/>
<circle cx="664.8" cy="373.59" r="1.6"/>
<circle cx="671.3" cy="372.87" r="1.6"/>
<circle cx="677.8" cy="371.94" r="1.6"/>
</g>
<path d="M493.8 321.7 506.8 322.9 521.3 324.5 545.5 327.8 564.4 331.1 571.2 332.6 578.9 334.6 591.9 338.4 601.8 341.6 614.2 346.1 620.4 348.8 624.7 351.3 629.1 354.3 640.8 364.9 643.3 366.9 648.2 369.8 651.7 371.4 654.4 372.1 658.8 372.4 679.2 372.7" fill="none" stroke="#c95a5a" stroke-width="0.9" stroke-linejoin="round"/>
<path d="M493.8 321.6 517 323.7 524.8 324.1 531.9 323.9 545.5 322.5 549.2 322.6 555.4 323.1 557.9 323 560.3 322.1 562.5 320.5 564.7 317.9 569.6 310.6 571.2 309.2 572.4 308.9 573 309 574 309.7 575.5 311.8 582 325.8 583.9 328.9 585.4 330.6 586.7 331.3 587.6 331.2 590.4 329.2 591 329 591.6 329 592.8 329.8 595.9 333.6 597.5 334.7 599.3 335.2 603.1 335.9 605.2 336.1 607.4 336 611.7 335.2 615.1 333.9 618.2 331.9 621.6 328.8 624.1 325.8 626.3 322.4 628.1 318.6 631.5 310.8 632.8 308.5 634 307.1 634.9 306.9 635.9 307.7 636.5 308.8 638 313.5 639.6 320.4 644.5 346 646.4 353.1 647.9 356.9 648.6 357.7 649.5 358 650.4 357.5 652.3 355.5 652.9 355.3 653.5 355.6 654.1 356.4 654.7 357.7 657.2 365 658.5 368 659.7 369.8 660.9 370.8 662.5 371.3 665.3 371.6 679.2 372.2" fill="none" stroke="#c95a5a" stroke-width="1.15" stroke-linejoin="round"/>
<rect x="493.2" y="226.3" width="186.6" height="150.1" fill="none" stroke="#1a1a1a" stroke-width="1.1"/>
<line x1="498.8" y1="376.4" x2="498.8" y2="380" stroke="#1a1a1a" stroke-width="0.9"/>
<line x1="544.9" y1="376.4" x2="544.9" y2="380" stroke="#1a1a1a" stroke-width="0.9"/>
<line x1="591" y1="376.4" x2="591" y2="380" stroke="#1a1a1a" stroke-width="0.9"/>
<line x1="637.1" y1="376.4" x2="637.1" y2="380" stroke="#1a1a1a" stroke-width="0.9"/>
<line x1="521.85" y1="376.4" x2="521.85" y2="378.6" stroke="#1a1a1a" stroke-width="0.9"/>
<line x1="567.95" y1="376.4" x2="567.95" y2="378.6" stroke="#1a1a1a" stroke-width="0.9"/>
<line x1="614.05" y1="376.4" x2="614.05" y2="378.6" stroke="#1a1a1a" stroke-width="0.9"/>
<line x1="660.15" y1="376.4" x2="660.15" y2="378.6" stroke="#1a1a1a" stroke-width="0.9"/>
<text x="498.8" y="389.6" font-size="10" text-anchor="middle" fill="#000" stroke="#000" stroke-width="0.06"><tspan>740</tspan></text>
<text x="544.9" y="389.6" font-size="10" text-anchor="middle" fill="#000" stroke="#000" stroke-width="0.06"><tspan>730</tspan></text>
<text x="591" y="389.6" font-size="10" text-anchor="middle" fill="#000" stroke="#000" stroke-width="0.06"><tspan>720</tspan></text>
<text x="637.1" y="389.6" font-size="10" text-anchor="middle" fill="#000" stroke="#000" stroke-width="0.06"><tspan>710</tspan></text>
<text x="586.5" y="403.7" font-size="12.7" text-anchor="middle" fill="#000" stroke="#000" stroke-width="0.06"><tspan>Binding energy / eV</tspan></text>
<text x="479.3" y="303" font-size="12.7" text-anchor="middle" fill="#000" stroke="#000" stroke-width="0.06" transform="rotate(-90 479.3 303)"><tspan>Intensity / a.u.</tspan></text>
<text x="471.2" y="240.7" font-size="15" text-anchor="start" fill="#000" stroke="#000" stroke-width="0.06"><tspan>d</tspan></text>
<text x="499.8" y="239.5" font-size="9.7" text-anchor="start" fill="#000" stroke="#000" stroke-width="0.06"><tspan>Fe 2</tspan><tspan font-style="italic">p</tspan></text>
<text x="497.7" y="267.2" font-size="9.7" text-anchor="start" fill="#000" stroke="#000" stroke-width="0.06"><tspan>Fe</tspan><tspan dy="2.91" font-size="6.79">5</tspan><tspan dy="-2.91">C</tspan><tspan dy="2.91" font-size="6.79">2</tspan><tspan dy="-2.91">@C</tspan></text>
<text x="496.9" y="339.8" font-size="9.7" text-anchor="start" fill="#000" stroke="#000" stroke-width="0.06"><tspan>K-Fe</tspan><tspan dy="2.91" font-size="6.79">2</tspan><tspan dy="-2.91">C@C</tspan></text>
<text x="581.6" y="301.3" font-size="7.2" text-anchor="start" fill="#c9c9c9"><tspan>satellite  Fe</tspan><tspan dy="-2.88" font-size="5.04">3+</tspan><tspan dy="2.88">  Fe</tspan><tspan dy="-2.88" font-size="5.04">2+</tspan></text>
<text x="659.6" y="242.1" font-size="8" text-anchor="middle" fill="#2a2a2a" stroke="#2a2a2a" stroke-width="0.06"><tspan>707.24 eV</tspan></text>
<text x="659.6" y="251.8" font-size="8" text-anchor="middle" fill="#2a2a2a" stroke="#2a2a2a" stroke-width="0.06"><tspan>Fe-C</tspan></text>
<text x="659.6" y="261.4" font-size="8" text-anchor="middle" fill="#2a2a2a" stroke="#2a2a2a" stroke-width="0.06"><tspan>in Fe</tspan><tspan dy="2.4" font-size="5.6">5</tspan><tspan dy="-2.4">C</tspan><tspan dy="2.4" font-size="5.6">2</tspan></text>
<line x1="656.1" y1="265.8" x2="654.3" y2="283.3" stroke="#1a1a1a" stroke-width="0.7"/>
<polygon points="654.3,283.3 653.33,279.98 655.92,280.25" fill="#1a1a1a"/>
<text x="659.8" y="309.5" font-size="8" text-anchor="middle" fill="#2a2a2a" stroke="#2a2a2a" stroke-width="0.06"><tspan>706.84 eV</tspan></text>
<text x="659.8" y="318.8" font-size="8" text-anchor="middle" fill="#2a2a2a" stroke="#2a2a2a" stroke-width="0.06"><tspan>Fe-C</tspan></text>
<text x="659.8" y="328.1" font-size="8" text-anchor="middle" fill="#2a2a2a" stroke="#2a2a2a" stroke-width="0.06"><tspan>in Fe</tspan><tspan dy="2.4" font-size="5.6">2</tspan><tspan dy="-2.4">C</tspan></text>
<line x1="657" y1="333.7" x2="655.5" y2="350.4" stroke="#1a1a1a" stroke-width="0.7"/>
<polygon points="655.5,350.4 654.49,347.1 657.08,347.33" fill="#1a1a1a"/>
<path d="M26.8 540.2 27.5 545 28.3 548.3 29 550.2 29.8 551 30.5 550.9 31.6 549.3 35.4 539.9 36.1 538.7 36.9 538.1 37.6 538.4 38.3 539.4 40.9 544.7 41.7 545.5 42.1 545.6 42.4 545.4 43.2 544.3 43.9 542.3 46.9 531.6 48.4 528 49.1 527 50.3 526.5 51 526.7 52.9 527.6 53.6 527.6 54.4 527.1 55.1 525.8 55.8 523.6 56.6 520.3 57.7 512.8 62.2 469.7 63.7 457.8 64.4 453.7 65.2 451 65.9 449.5 66.6 449.2 67.4 449.7 68.1 451.1 72.2 463.4 73.3 465.9 74.8 468.5 77.1 471.2 81.9 475.8 86.7 481.9 88.2 483.2 89.4 483.6 90.5 483.4 91.2 482.9 92.3 481.4 93.1 479.9 94.6 475.8 98.7 462.8 99.8 459.9 100.9 457.8 102 456.3 103.1 455.8 104.2 456.3 105 457.2 106.1 459.5 106.9 461.6 108 465.9 109.1 471.3 110.9 482.6 115 512 116.9 521.8 118.4 527 120.3 531.4 122.5 535.1 124.4 536.9 125.8 537.4 127.3 537.1 128.8 536.3 132.9 533.1 134.8 532.3 136.3 532.5 140.4 534.3 141.5 534.3 142.2 534 143.3 533 144.5 531.5 148.6 524.6 150 522.5 151.5 521.2 152.7 521 153.4 521.3 154.1 521.9 155.6 523.9 157.1 526.8 160.8 535.1 162 537 162.7 537.8 163.5 538.3 164.2 538.4 164.9 538.2 167.5 536.8 168.3 536.7 169 536.9 169.8 537.3 170.9 538.4 175 543.6 176.1 544.6 176.9 544.9 178.3 545 182.1 543.7 183.6 543.6 185.4 543.9 190.3 545.4 192.9 545.4 195.8 544.5 203.3 540.8 205.2 540.2 206.6 540 208.1 540.1 209.6 540.6 211.1 541.5 212.6 542.8" fill="none" stroke="#4f7cc0" stroke-width="1.25" stroke-linejoin="round"/>
<path d="M26.8 547.6 27.5 543.8 28.3 541.1 29 539.5 29.8 538.8 30.5 538.9 31.3 539.5 32.4 541.3 35.4 546.9 36.1 547.8 36.9 548.1 37.6 547.7 38.3 546.7 42.1 537.9 42.8 536.7 43.6 536 44.3 536.1 45 537 47.3 541.3 48 542.3 48.8 542.6 49.5 542 50.6 539.1 52.1 532.4 57 503.2 58.8 493.4 60.7 485.8 62.2 481.6 62.9 480.1 64 478.7 64.8 478.2 65.9 478 66.6 478.2 67.8 478.8 71.1 481.8 72.6 482.9 74.1 483.2 75.6 482.6 77.1 481.1 78.9 478 83 468 84.1 465.7 85.3 464.1 86 463.6 86.4 463.6 87.1 464 87.9 464.8 89.4 467.8 91.2 473.1 92.7 478.6 93.8 484 94.9 490.7 99 519.8 100.2 524.6 100.5 525.4 100.9 525.8 101.3 525.7 102 524.5 104.2 517.7 105.4 515.3 106.1 514.3 106.9 513.7 107.6 513.4 108.3 513.4 109.8 514 111.7 515.7 113.2 517.5 117.7 523.9 119.1 525.5 120.3 526.1 121.4 526.3 122.1 526 123.2 525.1 126.2 522.1 127 521.6 127.7 521.4 128.5 521.5 129.6 522.4 133.3 527.4 134.4 528.6 135.2 529 135.9 529.1 136.6 528.9 138.9 527.3 140 526.8 140.7 526.8 141.5 527.2 143.3 529.4 146.7 535.1 148.2 537.2 149.3 538.2 151.5 539 152.7 539.9 153.4 541.1 156 547.2 156.7 548.2 157.1 548.4 157.9 548 159 545.7 162 535.9 163.5 532.1 164.2 530.6 165.3 529.1 166.1 528.5 167.2 528.2 167.9 528.3 168.7 528.8 170.2 530.2 171.6 532.4 176.1 539.9 178.3 543.3 180.6 545.8 182.4 547 183.9 547.2 185.4 547 187.3 546.2 191.7 543.5 194 542.6 197.3 541.7 200.7 541.3 204 541.5 207 542.3 210 543.8 212.6 545.9" fill="none" stroke="#cf5656" stroke-width="1.25" stroke-linejoin="round"/>
<line x1="67.2" y1="446.3" x2="65.1" y2="486" stroke="#1a1a1a" stroke-width="1" stroke-dasharray="3.2 2.2"/>
<line x1="87.9" y1="453.7" x2="78.8" y2="486" stroke="#1a1a1a" stroke-width="1" stroke-dasharray="3.2 2.2"/>
<line x1="52.6" y1="433.3" x2="65.7" y2="444.1" stroke="#1a1a1a" stroke-width="0.8"/>
<polygon points="65.7,444.1 61.9,443.04 63.94,440.58" fill="#1a1a1a"/>
<line x1="98.1" y1="440" x2="91.1" y2="450.2" stroke="#1a1a1a" stroke-width="0.8"/>
<polygon points="91.1,450.2 91.82,446.33 94.46,448.14" fill="#1a1a1a"/>
<rect x="26.6" y="411.7" width="186.6" height="150.5" fill="none" stroke="#1a1a1a" stroke-width="1.1"/>
<line x1="26.6" y1="562.2" x2="26.6" y2="565.8" stroke="#1a1a1a" stroke-width="0.9"/>
<line x1="79.92" y1="562.2" x2="79.92" y2="565.8" stroke="#1a1a1a" stroke-width="0.9"/>
<line x1="133.24" y1="562.2" x2="133.24" y2="565.8" stroke="#1a1a1a" stroke-width="0.9"/>
<line x1="186.56" y1="562.2" x2="186.56" y2="565.8" stroke="#1a1a1a" stroke-width="0.9"/>
<line x1="53.26" y1="562.2" x2="53.26" y2="564.4" stroke="#1a1a1a" stroke-width="0.9"/>
<line x1="106.58" y1="562.2" x2="106.58" y2="564.4" stroke="#1a1a1a" stroke-width="0.9"/>
<line x1="159.9" y1="562.2" x2="159.9" y2="564.4" stroke="#1a1a1a" stroke-width="0.9"/>
<line x1="213.22" y1="562.2" x2="213.22" y2="564.4" stroke="#1a1a1a" stroke-width="0.9"/>
<text x="26.6" y="574.6" font-size="10" text-anchor="middle" fill="#000" stroke="#000" stroke-width="0.06"><tspan>0</tspan></text>
<text x="79.92" y="574.6" font-size="10" text-anchor="middle" fill="#000" stroke="#000" stroke-width="0.06"><tspan>2</tspan></text>
<text x="133.24" y="574.6" font-size="10" text-anchor="middle" fill="#000" stroke="#000" stroke-width="0.06"><tspan>4</tspan></text>
<text x="186.56" y="574.6" font-size="10" text-anchor="middle" fill="#000" stroke="#000" stroke-width="0.06"><tspan>6</tspan></text>
<text x="122" y="588.7" font-size="12.7" text-anchor="middle" fill="#000" stroke="#000" stroke-width="0.06"><tspan>R / Å</tspan></text>
<text x="13.6" y="486.2" font-size="12.7" text-anchor="middle" fill="#000" stroke="#000" stroke-width="0.06" transform="rotate(-90 13.6 486.2)"><tspan>|FTk</tspan><tspan dy="-5.08" font-size="8.89">3</tspan><tspan dy="5.08" font-style="italic">X</tspan><tspan>(k)|</tspan></text>
<text x="5.8" y="426.4" font-size="15" text-anchor="start" fill="#000" stroke="#000" stroke-width="0.06"><tspan>e</tspan></text>
<text x="48.7" y="428.9" font-size="9.7" text-anchor="middle" fill="#000" stroke="#000" stroke-width="0.06"><tspan>Fe-C</tspan></text>
<text x="98.5" y="423.7" font-size="9.7" text-anchor="middle" fill="#000" stroke="#000" stroke-width="0.06"><tspan>Fe-Fe in</tspan></text>
<text x="98.7" y="435.2" font-size="9.7" text-anchor="middle" fill="#000" stroke="#000" stroke-width="0.06"><tspan>iron carbide</tspan></text>
<line x1="137.2" y1="422.1" x2="150.4" y2="422.1" stroke="#7b9fd4" stroke-width="1.3"/>
<text x="157.7" y="425.4" font-size="9.7" text-anchor="start" fill="#000" stroke="#000" stroke-width="0.06"><tspan>Fe</tspan><tspan dy="2.91" font-size="6.79">5</tspan><tspan dy="-2.91">C</tspan><tspan dy="2.91" font-size="6.79">2</tspan><tspan dy="-2.91">@C</tspan></text>
<line x1="137.2" y1="436.1" x2="150.4" y2="436.1" stroke="#d06060" stroke-width="1.3"/>
<text x="157.7" y="439.6" font-size="9.7" text-anchor="start" fill="#000" stroke="#000" stroke-width="0.06"><tspan>K-Fe</tspan><tspan dy="2.91" font-size="6.79">2</tspan><tspan dy="-2.91">C@C</tspan></text>
<g fill="none" stroke="#e2e4e7" stroke-width="0.5" stroke-opacity="1">
<circle cx="261.97" cy="428.74" r="1.25"/>
<circle cx="263.19" cy="422.25" r="1.25"/>
<circle cx="264.42" cy="421.65" r="1.25"/>
<circle cx="265.64" cy="414.74" r="1.25"/>
<circle cx="266.87" cy="423.24" r="1.25"/>
<circle cx="268.1" cy="422.29" r="1.25"/>
<circle cx="269.32" cy="421.64" r="1.25"/>
<circle cx="270.55" cy="424.41" r="1.25"/>
<circle cx="271.78" cy="424.8" r="1.25"/>
<circle cx="273" cy="420.1" r="1.25"/>
<circle cx="274.23" cy="420.73" r="1.25"/>
<circle cx="275.46" cy="422.12" r="1.25"/>
<circle cx="276.68" cy="425.93" r="1.25"/>
<circle cx="277.91" cy="425.61" r="1.25"/>
<circle cx="279.14" cy="419.74" r="1.25"/>
<circle cx="280.36" cy="420.46" r="1.25"/>
<circle cx="281.59" cy="426.56" r="1.25"/>
<circle cx="282.82" cy="429.44" r="1.25"/>
<circle cx="284.04" cy="424.55" r="1.25"/>
<circle cx="285.27" cy="422.81" r="1.25"/>
<circle cx="286.5" cy="428.99" r="1.25"/>
<circle cx="287.72" cy="425.22" r="1.25"/>
<circle cx="288.95" cy="429.6" r="1.25"/>
<circle cx="290.18" cy="433.74" r="1.25"/>
<circle cx="291.4" cy="432.37" r="1.25"/>
<circle cx="292.63" cy="431.06" r="1.25"/>
<circle cx="293.86" cy="432.13" r="1.25"/>
<circle cx="295.08" cy="426.35" r="1.25"/>
<circle cx="296.31" cy="426.83" r="1.25"/>
<circle cx="297.54" cy="424.98" r="1.25"/>
<circle cx="298.76" cy="425.88" r="1.25"/>
<circle cx="299.99" cy="424.89" r="1.25"/>
<circle cx="301.22" cy="425.91" r="1.25"/>
<circle cx="302.44" cy="425.45" r="1.25"/>
<circle cx="303.67" cy="427.23" r="1.25"/>
<circle cx="304.9" cy="427.54" r="1.25"/>
<circle cx="306.12" cy="428.81" r="1.25"/>
<circle cx="307.35" cy="433.06" r="1.25"/>
<circle cx="308.58" cy="424.56" r="1.25"/>
<circle cx="309.8" cy="434.93" r="1.25"/>
<circle cx="311.03" cy="431.69" r="1.25"/>
<circle cx="312.26" cy="430.53" r="1.25"/>
<circle cx="313.48" cy="435.94" r="1.25"/>
<circle cx="314.71" cy="438.34" r="1.25"/>
<circle cx="315.94" cy="442.78" r="1.25"/>
<circle cx="317.16" cy="438.03" r="1.25"/>
<circle cx="318.39" cy="445.93" r="1.25"/>
<circle cx="319.62" cy="451.78" r="1.25"/>
<circle cx="320.84" cy="454.31" r="1.25"/>
<circle cx="322.07" cy="463.24" r="1.25"/>
<circle cx="323.3" cy="469.13" r="1.25"/>
<circle cx="324.52" cy="466.23" r="1.25"/>
<circle cx="325.75" cy="469.15" r="1.25"/>
<circle cx="326.98" cy="477.05" r="1.25"/>
<circle cx="328.2" cy="492.43" r="1.25"/>
<circle cx="329.43" cy="498.02" r="1.25"/>
<circle cx="330.66" cy="490.06" r="1.25"/>
<circle cx="331.88" cy="471.25" r="1.25"/>
<circle cx="333.11" cy="468.03" r="1.25"/>
<circle cx="334.34" cy="470.67" r="1.25"/>
<circle cx="335.56" cy="470.04" r="1.25"/>
<circle cx="336.79" cy="485.13" r="1.25"/>
<circle cx="338.02" cy="483.91" r="1.25"/>
<circle cx="339.24" cy="495.35" r="1.25"/>
<circle cx="340.47" cy="507.12" r="1.25"/>
<circle cx="341.7" cy="491.05" r="1.25"/>
<circle cx="342.92" cy="484.54" r="1.25"/>
<circle cx="344.15" cy="487.29" r="1.25"/>
<circle cx="345.38" cy="478.12" r="1.25"/>
<circle cx="346.6" cy="482.91" r="1.25"/>
<circle cx="347.83" cy="492.95" r="1.25"/>
<circle cx="349.06" cy="506.33" r="1.25"/>
<circle cx="350.28" cy="531.41" r="1.25"/>
<circle cx="351.51" cy="550.26" r="1.25"/>
<circle cx="352.74" cy="523.98" r="1.25"/>
<circle cx="353.96" cy="498.42" r="1.25"/>
<circle cx="355.19" cy="488.35" r="1.25"/>
<circle cx="356.42" cy="485.44" r="1.25"/>
<circle cx="357.64" cy="496.68" r="1.25"/>
<circle cx="358.87" cy="518.67" r="1.25"/>
<circle cx="360.1" cy="550.09" r="1.25"/>
<circle cx="361.32" cy="515.63" r="1.25"/>
<circle cx="362.55" cy="500.43" r="1.25"/>
<circle cx="363.78" cy="492.93" r="1.25"/>
<circle cx="365" cy="479.72" r="1.25"/>
<circle cx="366.23" cy="481.31" r="1.25"/>
<circle cx="367.46" cy="486.6" r="1.25"/>
<circle cx="368.68" cy="499.77" r="1.25"/>
<circle cx="369.91" cy="503.58" r="1.25"/>
<circle cx="371.14" cy="503.88" r="1.25"/>
<circle cx="372.36" cy="492.03" r="1.25"/>
<circle cx="373.59" cy="485.64" r="1.25"/>
<circle cx="374.82" cy="485.3" r="1.25"/>
<circle cx="376.04" cy="471.45" r="1.25"/>
<circle cx="377.27" cy="471.27" r="1.25"/>
<circle cx="378.5" cy="475.1" r="1.25"/>
<circle cx="379.72" cy="487.86" r="1.25"/>
<circle cx="380.95" cy="494.19" r="1.25"/>
<circle cx="382.18" cy="499.13" r="1.25"/>
<circle cx="383.4" cy="480.48" r="1.25"/>
<circle cx="384.63" cy="469.36" r="1.25"/>
<circle cx="385.86" cy="462.18" r="1.25"/>
<circle cx="387.08" cy="458.27" r="1.25"/>
<circle cx="388.31" cy="463.54" r="1.25"/>
<circle cx="389.54" cy="463.01" r="1.25"/>
<circle cx="390.76" cy="451.61" r="1.25"/>
<circle cx="391.99" cy="444.8" r="1.25"/>
<circle cx="393.22" cy="447.19" r="1.25"/>
<circle cx="394.44" cy="447.23" r="1.25"/>
<circle cx="395.67" cy="440.13" r="1.25"/>
<circle cx="396.9" cy="446.49" r="1.25"/>
<circle cx="398.12" cy="432.66" r="1.25"/>
<circle cx="399.35" cy="430.08" r="1.25"/>
<circle cx="400.58" cy="436.81" r="1.25"/>
<circle cx="401.8" cy="431.01" r="1.25"/>
<circle cx="403.03" cy="432.05" r="1.25"/>
<circle cx="404.26" cy="430.64" r="1.25"/>
<circle cx="405.48" cy="427.81" r="1.25"/>
<circle cx="406.71" cy="429.6" r="1.25"/>
<circle cx="407.94" cy="427.38" r="1.25"/>
<circle cx="409.16" cy="421.6" r="1.25"/>
<circle cx="410.39" cy="426.89" r="1.25"/>
<circle cx="411.62" cy="426.54" r="1.25"/>
<circle cx="412.84" cy="431.63" r="1.25"/>
<circle cx="414.07" cy="422.03" r="1.25"/>
<circle cx="415.3" cy="425.64" r="1.25"/>
<circle cx="416.52" cy="424.26" r="1.25"/>
<circle cx="417.75" cy="425.32" r="1.25"/>
<circle cx="418.98" cy="431.35" r="1.25"/>
<circle cx="420.2" cy="427.78" r="1.25"/>
<circle cx="421.43" cy="425.98" r="1.25"/>
<circle cx="422.66" cy="429.29" r="1.25"/>
<circle cx="423.88" cy="432.59" r="1.25"/>
<circle cx="425.11" cy="427.14" r="1.25"/>
<circle cx="426.34" cy="428.19" r="1.25"/>
<circle cx="427.56" cy="432.38" r="1.25"/>
<circle cx="428.79" cy="428.98" r="1.25"/>
<circle cx="430.02" cy="425.29" r="1.25"/>
<circle cx="431.24" cy="423.37" r="1.25"/>
<circle cx="432.47" cy="424.03" r="1.25"/>
<circle cx="433.7" cy="419.29" r="1.25"/>
<circle cx="434.92" cy="427.07" r="1.25"/>
<circle cx="436.15" cy="424.99" r="1.25"/>
<circle cx="437.38" cy="424.22" r="1.25"/>
<circle cx="438.6" cy="419.52" r="1.25"/>
<circle cx="439.83" cy="421.3" r="1.25"/>
<circle cx="441.06" cy="425.16" r="1.25"/>
<circle cx="442.28" cy="424.27" r="1.25"/>
<circle cx="443.51" cy="421.8" r="1.25"/>
<circle cx="444.74" cy="424.95" r="1.25"/>
</g>
<path d="M260.4 422.4 277.1 422.6 281.5 422.9 284.4 423.3 286.4 423.9 288.1 424.8 289.3 426 291.4 428.4 292.2 428.9 293.1 428.5 295.3 425.9 296.8 424.6 298.6 423.8 301.1 423.2 307.7 422.9 311.1 423 313.5 423.3 316.2 424.2 319.3 426.5 320.2 426.8 321.2 426.4 324.1 424.2 326.2 423.4 329.9 422.9 335.9 422.7 339.8 422.8 342.7 423.1 344.6 423.5 347.2 424.5 348.1 424.6 352.4 423.2 356.1 422.8 360.1 422.8 363.4 423 365.2 423.4 367.9 424.4 369 424.6 369.8 424.5 372.9 423.3 375.4 422.9 380.5 422.7 386.5 422.9 389.6 423.2 391.9 423.8 393.6 424.7 395.9 426.5 396.7 426.8 397.7 426.4 400.6 424.3 403.1 423.4 407.6 422.9 413.6 423 417.2 423.5 419.6 424.3 421.5 425.7 423.8 428.4 424.4 428.8 424.8 428.9 425.6 428.4 428.5 425.1 429.8 424.3 431.4 423.6 433.5 423.1 436.4 422.8 446.3 422.5" fill="none" stroke="#2c5190" stroke-width="0.95" stroke-linejoin="round"/>
<path d="M260.4 422.4 286.4 422.6 300.3 422.9 308.2 423.6 310.8 424.2 312.9 424.9 314.6 425.9 316 427.2 317.1 428.7 318.1 431 319.5 436.3 321.8 449.6 322.4 451 322.8 450.4 323.3 448.8 324.9 439.1 326.2 433.9 326.8 432.1 327.6 430.6 328.4 429.6 329.5 429 330.3 429 331.1 429.4 331.9 430.2 332.6 431.2 333.8 434.4 335.7 441.4 336.3 442.5 336.7 442.2 337.1 441.2 339 433.8 340.2 430.4 341.7 428.2 342.5 427.5 343.3 427.1 345 427 346.4 427.8 347.7 429.4 349.5 432.9 349.9 433.4 350.4 433.5 351.2 432.7 353.2 428.9 354.1 428.1 354.9 427.7 356.1 427.7 357.4 428.5 358.4 430 359.9 432.8 360.3 433.3 360.7 433.5 361.1 433.3 361.5 432.8 363.4 429.2 364.6 427.8 365.4 427.2 366.3 427 367.3 427 368.1 427.3 369 427.9 369.8 428.8 371 431 372.1 434.1 373.7 440.8 374.1 442 374.6 442.5 375 442.2 375.4 441.2 377.2 434.1 378.5 431 379.3 429.8 380.1 429.2 381 429 381.8 429.1 382.6 429.7 383.4 430.7 384.3 432.3 384.9 434.1 385.9 438.4 387.8 449.2 388.2 450.6 388.6 450.9 389 450.1 389.4 448.2 391.5 435.9 392.8 431.3 393.8 429 394.8 427.4 396.1 426.1 397.7 425.1 399.8 424.3 402.3 423.7 409.7 423 422.5 422.6 446.3 422.4" fill="none" stroke="#6a8cc2" stroke-width="0.95" stroke-linejoin="round"/>
<path d="M260.4 422.5 290.2 422.8 305.7 423.4 310.6 424 314.4 424.7 317.3 425.8 319.5 427.2 321.4 429.2 322.8 431.9 323.9 434.9 324.9 439.5 326.4 450.7 328.4 477.3 328.8 480.5 329 481.3 329.3 481.3 329.9 477.5 331.5 456.9 332.4 449.3 333.6 442.8 334.2 441.2 334.8 440.4 335.5 440.5 335.9 441 336.9 443.9 337.9 450 339.4 461.8 339.8 464.1 340 464.6 340.2 464.7 340.8 462.4 342.5 448.1 343.5 441.5 344.8 437 345.4 435.8 346 435.2 346.6 435 347 435.2 348.1 436.7 348.9 439.1 350.6 445.7 351.2 446.7 351.8 445.8 353.9 438.2 354.3 437.3 354.9 436.5 355.3 436.3 355.7 436.5 356.6 437.7 357.4 440.1 358.8 445.8 359.5 446.7 360.1 445.7 361.7 439.1 362.8 436.3 363.2 435.6 363.8 435.1 364.4 435.1 365 435.5 365.7 436.5 366.3 438.1 367.3 442.5 368.1 448 369.8 462.3 370.4 464.7 370.6 464.6 370.8 464.1 371.2 461.9 372.7 450 373.7 444 374.8 441 375.4 440.4 376 440.6 376.6 441.6 377.2 443.5 378.3 449.3 379.1 456.8 380.8 477.4 381.2 480.6 381.4 481.3 381.6 481.3 382 479.3 382.4 475 384.3 450.8 385.5 440.8 386.5 435.7 387.6 432.5 389 429.6 390.7 427.6 392.8 426.1 395.4 425 399 424.1 403.7 423.5 418.4 422.8 446.3 422.5" fill="none" stroke="#7b9bd0" stroke-width="0.95" stroke-linejoin="round"/>
<path d="M260.4 422.6 290 422.9 308 423.6 314.4 424.1 319.3 424.7 323.5 425.5 326.8 426.5 329.3 427.7 331.5 429.2 333.4 431 335 433.2 336.5 435.9 337.9 439.3 341.5 450.5 342.5 453.2 343.7 455.1 344.6 455.6 345.4 455.7 347.2 455.4 348.5 454.9 351.6 452 352.8 451.2 354.5 450.6 356.1 450.4 358 450.6 359.9 451.2 361.1 452.1 363.6 454.5 364.8 455.2 367.1 455.7 367.9 455.6 368.6 455.4 369.6 454.2 370.4 452.5 374.6 439.7 376 436.1 377.4 433.4 379.3 430.9 381.4 429 383.9 427.4 387 426.1 390.3 425.2 394.2 424.5 404.7 423.6 420.9 423 446.3 422.6" fill="none" stroke="#93b2de" stroke-width="0.95" stroke-linejoin="round"/>
<path d="M260.4 422.4 290.8 422.6 298 422.8 302.8 423.1 305.9 423.7 308.4 424.6 310.2 425.7 312.9 428.2 314.2 428.7 315.2 428.3 317.9 426 319.3 425.1 321 424.5 323 424.2 324.9 424.3 326.8 424.6 328.2 425.2 330.7 426.6 331.7 426.9 333 426.6 335.5 425.1 337.1 424.3 339 423.9 341 423.7 344.6 423.8 348.3 424.8 349.5 424.9 353.5 424 355.3 423.8 358 423.9 362.8 424.9 367.9 423.8 371.9 423.7 373.7 424 375.4 424.5 379.1 426.5 380.3 426.9 381.4 426.7 384.1 425.2 385.5 424.6 387.4 424.2 389.2 424.2 391.3 424.5 393 425.2 394.4 426.1 396.9 428.3 398.1 428.7 399.2 428.3 401.9 425.8 403.7 424.6 406 423.8 408.9 423.2 413.2 422.8 419.8 422.6 446.3 422.4" fill="none" stroke="#b8cdeb" stroke-width="0.95" stroke-linejoin="round"/>
<path d="M260.4 422.3 308.2 422.4 328.4 422.7 334.2 423 338.4 423.4 341.3 424.1 343.5 425 345.4 426.6 346.6 428.7 347.7 431.7 348.5 436.1 349.1 441.4 349.7 449.7 351 476.5 351.4 481.9 351.6 482 351.8 480.2 353 454.7 354.1 441.9 354.7 438.3 355.3 436.6 355.7 436.2 356.1 436.5 356.8 438 357.6 442.8 358.2 449.9 359.7 478.8 360.1 482.2 360.5 478.2 361.9 447.9 363 436.7 363.8 432.1 364.6 429.4 365.9 427 367.5 425.4 369.6 424.3 372.5 423.6 376.4 423.1 381.8 422.8 401 422.4 446.3 422.3" fill="none" stroke="#c6c6c6" stroke-width="1.2" stroke-linejoin="round"/>
<path d="M260.4 423.1 276.3 423.7 280.9 424.1 284.2 424.7 286.2 425.4 287.9 426.3 289.3 427.7 291.4 430.4 292.2 430.9 293.1 430.6 295.5 428 297.2 426.9 299.5 426.5 302.4 426.7 304.8 427.3 306.9 428.3 308.8 429.7 310.4 431.6 313.7 436.9 316.4 440 317.7 442.7 318.5 445.7 319.3 449.7 321.6 464.8 322.2 467.5 322.6 468.1 323 467.8 324.1 464.9 324.7 463.8 325.1 463.9 325.5 464.8 326.6 471.1 328.4 493.7 329 497.9 329.3 498.1 329.5 497.5 329.9 494.8 331.9 473.5 332.6 470 333 468.7 333.4 468.2 333.6 468.1 334 468.6 334.6 470.5 336.3 478.8 337.5 483.9 338.4 488.6 339.6 498.1 340.2 500.3 340.4 500.3 340.8 499.1 342.7 487.4 343.7 483.2 344.4 482 345 481.5 345.6 481.8 346.2 483 346.8 485.2 347.5 488.6 348.7 499.9 349.7 516.8 351 545.5 351.4 549.7 351.8 545.7 353 511.7 353.7 499.4 354.5 489.9 354.9 487.5 355.3 486.1 355.5 485.8 355.9 486.1 356.6 488.3 357.6 498.2 358.4 513.4 359.7 544.5 360.1 548.1 360.5 543.4 361.7 511.7 362.3 500.4 363.2 491.1 363.8 486.9 364.4 484.4 365 483.1 365.7 482.8 366.3 483.6 366.9 485.4 367.9 491.1 369.6 504.5 370 506.7 370.4 507.4 371 505 373.1 488.7 374.6 482.5 376.4 472.9 377 471.2 377.4 471 378.1 472.2 378.7 475.4 380.8 496.7 381.2 499.4 381.4 499.9 381.6 499.7 382.2 495.3 384.1 471.3 385.1 463.9 385.5 462.5 385.7 462.1 386.1 461.9 386.8 462.7 388 465.6 388.4 465.5 388.6 465.1 389.2 462.4 391.5 447.1 392.5 443 393.6 440.9 394.6 440.1 396.5 440.4 397.5 439.9 398.5 438.3 401.2 432.8 402.9 430.4 404.1 429.1 405.4 428.2 408.5 426.7 411 426.1 413.8 425.7 416.3 425.6 418.4 425.9 419.6 426.3 420.9 427 423.8 430.1 424.6 430.5 425 430.4 425.6 429.9 427.5 427.5 428.7 426.3 430 425.5 431.4 424.8 433.7 424.3 436.6 423.9 446.3 423.3" fill="none" stroke="#5a84c2" stroke-width="1.35" stroke-linejoin="round"/>
<rect x="260.1" y="411.7" width="186.5" height="150.5" fill="none" stroke="#1a1a1a" stroke-width="1.1"/>
<line x1="260.1" y1="562.2" x2="260.1" y2="565.8" stroke="#1a1a1a" stroke-width="0.9"/>
<line x1="306.73" y1="562.2" x2="306.73" y2="565.8" stroke="#1a1a1a" stroke-width="0.9"/>
<line x1="353.35" y1="562.2" x2="353.35" y2="565.8" stroke="#1a1a1a" stroke-width="0.9"/>
<line x1="399.98" y1="562.2" x2="399.98" y2="565.8" stroke="#1a1a1a" stroke-width="0.9"/>
<line x1="446.6" y1="562.2" x2="446.6" y2="565.8" stroke="#1a1a1a" stroke-width="0.9"/>
<text x="260.1" y="574.5" font-size="10" text-anchor="middle" fill="#000" stroke="#000" stroke-width="0.06"><tspan>−10</tspan></text>
<text x="306.73" y="574.5" font-size="10" text-anchor="middle" fill="#000" stroke="#000" stroke-width="0.06"><tspan>−5</tspan></text>
<text x="353.35" y="574.5" font-size="10" text-anchor="middle" fill="#000" stroke="#000" stroke-width="0.06"><tspan>0</tspan></text>
<text x="399.98" y="574.5" font-size="10" text-anchor="middle" fill="#000" stroke="#000" stroke-width="0.06"><tspan>5</tspan></text>
<text x="446.6" y="574.5" font-size="10" text-anchor="middle" fill="#000" stroke="#000" stroke-width="0.06"><tspan>10</tspan></text>
<text x="353.2" y="589.1" font-size="12.7" text-anchor="middle" fill="#000" stroke="#000" stroke-width="0.06"><tspan>Velocity / mm s</tspan><tspan dy="-5.08" font-size="8.89">−1</tspan></text>
<text x="247.3" y="487.5" font-size="12.7" text-anchor="middle" fill="#000" stroke="#000" stroke-width="0.06" transform="rotate(-90 247.3 487.5)"><tspan>Transmission / a.u.</tspan></text>
<text x="239.6" y="427.2" font-size="15" text-anchor="start" fill="#000" stroke="#000" stroke-width="0.06"><tspan>f</tspan></text>
<g fill="none" stroke="#c9ccd0" stroke-width="0.6" stroke-opacity="1">
<circle cx="271" cy="475.6" r="1.3"/>
</g>
<text x="278.8" y="478.2" font-size="7.8" text-anchor="start" fill="#000" stroke="#000" stroke-width="0.06"><tspan>Raw data</tspan></text>
<line x1="265.9" y1="485" x2="276" y2="485" stroke="#5a84c2" stroke-width="1.4"/>
<text x="278.8" y="487.6" font-size="7.8" text-anchor="start" fill="#000" stroke="#000" stroke-width="0.06"><tspan>Fitting curve</tspan></text>
<line x1="265.9" y1="494.4" x2="276" y2="494.4" stroke="#2c5190" stroke-width="1.4"/>
<text x="278.8" y="497" font-size="7.8" text-anchor="start" fill="#000" stroke="#000" stroke-width="0.06"><tspan>Fe</tspan><tspan dy="2.34" font-size="5.46">3</tspan><tspan dy="-2.34">O</tspan><tspan dy="2.34" font-size="5.46">4</tspan></text>
<line x1="265.9" y1="506.6" x2="276" y2="506.6" stroke="#6a8cc2" stroke-width="1.4"/>
<text x="278.8" y="509.2" font-size="7.8" text-anchor="start" fill="#000" stroke="#000" stroke-width="0.06"><tspan font-style="italic">χ</tspan><tspan>-Fe</tspan><tspan dy="2.34" font-size="5.46">5</tspan><tspan dy="-2.34">C</tspan><tspan dy="2.34" font-size="5.46">2</tspan></text>
<line x1="265.9" y1="519" x2="276" y2="519" stroke="#7b9bd0" stroke-width="1.4"/>
<text x="278.8" y="521.6" font-size="7.8" text-anchor="start" fill="#000" stroke="#000" stroke-width="0.06"><tspan font-style="italic">χ</tspan><tspan>-Fe</tspan><tspan dy="2.34" font-size="5.46">5</tspan><tspan dy="-2.34">C</tspan><tspan dy="2.34" font-size="5.46">2</tspan></text>
<line x1="265.9" y1="531.3" x2="276" y2="531.3" stroke="#93b2de" stroke-width="1.4"/>
<text x="278.8" y="533.9" font-size="7.8" text-anchor="start" fill="#000" stroke="#000" stroke-width="0.06"><tspan font-style="italic">χ</tspan><tspan>-Fe</tspan><tspan dy="2.34" font-size="5.46">5</tspan><tspan dy="-2.34">C</tspan><tspan dy="2.34" font-size="5.46">2</tspan></text>
<line x1="265.9" y1="543.6" x2="276" y2="543.6" stroke="#b8cdeb" stroke-width="1.4"/>
<text x="278.8" y="546.2" font-size="7.8" text-anchor="start" fill="#000" stroke="#000" stroke-width="0.06"><tspan font-style="italic">χ</tspan><tspan>-Fe</tspan><tspan dy="2.34" font-size="5.46">5</tspan><tspan dy="-2.34">C</tspan><tspan dy="2.34" font-size="5.46">2</tspan></text>
<line x1="265.9" y1="555.3" x2="276" y2="555.3" stroke="#c6c6c6" stroke-width="1.4"/>
<text x="278.8" y="557.9" font-size="7.8" text-anchor="start" fill="#000" stroke="#000" stroke-width="0.06"><tspan>Superparamagnetic iron</tspan></text>
<text x="440.9" y="554.7" font-size="9.7" text-anchor="end" fill="#000" stroke="#000" stroke-width="0.06"><tspan>Fe</tspan><tspan dy="2.91" font-size="6.79">5</tspan><tspan dy="-2.91">C</tspan><tspan dy="2.91" font-size="6.79">2</tspan><tspan dy="-2.91">@C</tspan></text>
<g fill="none" stroke="#e2e4e7" stroke-width="0.5" stroke-opacity="1">
<circle cx="495.07" cy="422.92" r="1.25"/>
<circle cx="496.29" cy="419.24" r="1.25"/>
<circle cx="497.52" cy="422.21" r="1.25"/>
<circle cx="498.75" cy="416" r="1.25"/>
<circle cx="499.98" cy="423.87" r="1.25"/>
<circle cx="501.2" cy="416.56" r="1.25"/>
<circle cx="502.43" cy="421.5" r="1.25"/>
<circle cx="503.66" cy="421.12" r="1.25"/>
<circle cx="504.88" cy="418.94" r="1.25"/>
<circle cx="506.11" cy="430.72" r="1.25"/>
<circle cx="507.34" cy="419.64" r="1.25"/>
<circle cx="508.57" cy="423.08" r="1.25"/>
<circle cx="509.79" cy="425.1" r="1.25"/>
<circle cx="511.02" cy="417.72" r="1.25"/>
<circle cx="512.25" cy="425.93" r="1.25"/>
<circle cx="513.48" cy="421.27" r="1.25"/>
<circle cx="514.7" cy="424.92" r="1.25"/>
<circle cx="515.93" cy="418.78" r="1.25"/>
<circle cx="517.16" cy="418.44" r="1.25"/>
<circle cx="518.38" cy="425.63" r="1.25"/>
<circle cx="519.61" cy="423.4" r="1.25"/>
<circle cx="520.84" cy="422.27" r="1.25"/>
<circle cx="522.07" cy="423.91" r="1.25"/>
<circle cx="523.29" cy="423.59" r="1.25"/>
<circle cx="524.52" cy="418.25" r="1.25"/>
<circle cx="525.75" cy="414.9" r="1.25"/>
<circle cx="526.98" cy="416.65" r="1.25"/>
<circle cx="528.2" cy="416.36" r="1.25"/>
<circle cx="529.43" cy="415.04" r="1.25"/>
<circle cx="530.66" cy="420.12" r="1.25"/>
<circle cx="531.89" cy="420.57" r="1.25"/>
<circle cx="533.11" cy="422.21" r="1.25"/>
<circle cx="534.34" cy="423.1" r="1.25"/>
<circle cx="535.57" cy="421.26" r="1.25"/>
<circle cx="536.79" cy="421.77" r="1.25"/>
<circle cx="538.02" cy="422.92" r="1.25"/>
<circle cx="539.25" cy="419.61" r="1.25"/>
<circle cx="540.48" cy="420.64" r="1.25"/>
<circle cx="541.7" cy="423.19" r="1.25"/>
<circle cx="542.93" cy="421.07" r="1.25"/>
<circle cx="544.16" cy="421.59" r="1.25"/>
<circle cx="545.39" cy="423.3" r="1.25"/>
<circle cx="546.61" cy="428.17" r="1.25"/>
<circle cx="547.84" cy="425.22" r="1.25"/>
<circle cx="549.07" cy="423.49" r="1.25"/>
<circle cx="550.29" cy="423.16" r="1.25"/>
<circle cx="551.52" cy="425.26" r="1.25"/>
<circle cx="552.75" cy="433.6" r="1.25"/>
<circle cx="553.98" cy="417.53" r="1.25"/>
<circle cx="555.2" cy="431.17" r="1.25"/>
<circle cx="556.43" cy="433.41" r="1.25"/>
<circle cx="557.66" cy="440.59" r="1.25"/>
<circle cx="558.89" cy="437.51" r="1.25"/>
<circle cx="560.11" cy="447.68" r="1.25"/>
<circle cx="561.34" cy="446.98" r="1.25"/>
<circle cx="562.57" cy="448.8" r="1.25"/>
<circle cx="563.79" cy="447.82" r="1.25"/>
<circle cx="565.02" cy="440.91" r="1.25"/>
<circle cx="566.25" cy="442" r="1.25"/>
<circle cx="567.48" cy="441.87" r="1.25"/>
<circle cx="568.7" cy="447.07" r="1.25"/>
<circle cx="569.93" cy="448.47" r="1.25"/>
<circle cx="571.16" cy="451.09" r="1.25"/>
<circle cx="572.39" cy="455.96" r="1.25"/>
<circle cx="573.61" cy="458.27" r="1.25"/>
<circle cx="574.84" cy="457.11" r="1.25"/>
<circle cx="576.07" cy="453.45" r="1.25"/>
<circle cx="577.3" cy="466.41" r="1.25"/>
<circle cx="578.52" cy="458.17" r="1.25"/>
<circle cx="579.75" cy="457.08" r="1.25"/>
<circle cx="580.98" cy="464.66" r="1.25"/>
<circle cx="582.2" cy="477.94" r="1.25"/>
<circle cx="583.43" cy="494.74" r="1.25"/>
<circle cx="584.66" cy="502.95" r="1.25"/>
<circle cx="585.89" cy="535.69" r="1.25"/>
<circle cx="587.11" cy="544.6" r="1.25"/>
<circle cx="588.34" cy="524.33" r="1.25"/>
<circle cx="589.57" cy="517.51" r="1.25"/>
<circle cx="590.8" cy="527.56" r="1.25"/>
<circle cx="592.02" cy="541.94" r="1.25"/>
<circle cx="593.25" cy="526.42" r="1.25"/>
<circle cx="594.48" cy="496.91" r="1.25"/>
<circle cx="595.7" cy="483.22" r="1.25"/>
<circle cx="596.93" cy="474.07" r="1.25"/>
<circle cx="598.16" cy="469.97" r="1.25"/>
<circle cx="599.39" cy="457.28" r="1.25"/>
<circle cx="600.61" cy="456.47" r="1.25"/>
<circle cx="601.84" cy="467.64" r="1.25"/>
<circle cx="603.07" cy="463.88" r="1.25"/>
<circle cx="604.3" cy="461.84" r="1.25"/>
<circle cx="605.52" cy="454.56" r="1.25"/>
<circle cx="606.75" cy="446.82" r="1.25"/>
<circle cx="607.98" cy="444.16" r="1.25"/>
<circle cx="609.21" cy="446.59" r="1.25"/>
<circle cx="610.43" cy="444" r="1.25"/>
<circle cx="611.66" cy="440.45" r="1.25"/>
<circle cx="612.89" cy="449.01" r="1.25"/>
<circle cx="614.11" cy="445.89" r="1.25"/>
<circle cx="615.34" cy="446.74" r="1.25"/>
<circle cx="616.57" cy="444.2" r="1.25"/>
<circle cx="617.8" cy="438.25" r="1.25"/>
<circle cx="619.02" cy="436.84" r="1.25"/>
<circle cx="620.25" cy="435.19" r="1.25"/>
<circle cx="621.48" cy="430.8" r="1.25"/>
<circle cx="622.71" cy="427.9" r="1.25"/>
<circle cx="623.93" cy="425.44" r="1.25"/>
<circle cx="625.16" cy="422.73" r="1.25"/>
<circle cx="626.39" cy="423.05" r="1.25"/>
<circle cx="627.61" cy="434.74" r="1.25"/>
<circle cx="628.84" cy="422.56" r="1.25"/>
<circle cx="630.07" cy="429.03" r="1.25"/>
<circle cx="631.3" cy="422.04" r="1.25"/>
<circle cx="632.52" cy="428.04" r="1.25"/>
<circle cx="633.75" cy="427.4" r="1.25"/>
<circle cx="634.98" cy="424.71" r="1.25"/>
<circle cx="636.21" cy="421.05" r="1.25"/>
<circle cx="637.43" cy="418.55" r="1.25"/>
<circle cx="638.66" cy="425.92" r="1.25"/>
<circle cx="639.89" cy="418.6" r="1.25"/>
<circle cx="641.11" cy="418.53" r="1.25"/>
<circle cx="642.34" cy="427.39" r="1.25"/>
<circle cx="643.57" cy="427.11" r="1.25"/>
<circle cx="644.8" cy="422.47" r="1.25"/>
<circle cx="646.02" cy="421.49" r="1.25"/>
<circle cx="647.25" cy="420.09" r="1.25"/>
<circle cx="648.48" cy="423.28" r="1.25"/>
<circle cx="649.71" cy="420.55" r="1.25"/>
<circle cx="650.93" cy="417.21" r="1.25"/>
<circle cx="652.16" cy="419.56" r="1.25"/>
<circle cx="653.39" cy="422.75" r="1.25"/>
<circle cx="654.62" cy="416.83" r="1.25"/>
<circle cx="655.84" cy="418.74" r="1.25"/>
<circle cx="657.07" cy="422.23" r="1.25"/>
<circle cx="658.3" cy="427.21" r="1.25"/>
<circle cx="659.52" cy="422.34" r="1.25"/>
<circle cx="660.75" cy="421.85" r="1.25"/>
<circle cx="661.98" cy="427.9" r="1.25"/>
<circle cx="663.21" cy="418.29" r="1.25"/>
<circle cx="664.43" cy="419.32" r="1.25"/>
<circle cx="665.66" cy="424.34" r="1.25"/>
<circle cx="666.89" cy="425.06" r="1.25"/>
<circle cx="668.12" cy="423.06" r="1.25"/>
<circle cx="669.34" cy="413.2" r="1.25"/>
<circle cx="670.57" cy="423.92" r="1.25"/>
<circle cx="671.8" cy="423.68" r="1.25"/>
<circle cx="673.02" cy="421.67" r="1.25"/>
<circle cx="674.25" cy="423.64" r="1.25"/>
<circle cx="675.48" cy="426" r="1.25"/>
<circle cx="676.71" cy="421.64" r="1.25"/>
<circle cx="677.93" cy="418.47" r="1.25"/>
</g>
<path d="M493.5 421 538.4 421.2 546.2 421.4 550.6 421.8 553.3 422.5 554.3 423.2 555.1 424 556.4 426.3 557.8 430.8 558.5 431.9 558.7 431.8 559.1 431.2 560.5 426.8 561.6 424.7 563 423.3 564.9 422.8 566.7 423 568.2 423.8 569.2 425.2 570.7 428.1 571.3 428.5 571.7 428.1 573.2 425.2 574.2 423.7 575.4 422.8 577.3 422.3 579.2 422.3 580.6 422.6 581.8 423.4 583.3 424.8 583.9 425 584.5 424.7 586.2 423.1 587.8 422.5 589.3 422.5 590.5 422.9 591.4 423.4 592.8 424.9 593.2 425.1 593.8 424.8 595.3 423.4 596.5 422.6 598.4 422.2 600.5 422.4 601.9 422.9 603.2 424 604 425.2 605.2 427.8 605.8 428.5 606.5 428.1 607.9 425.1 609.2 423.6 610.8 422.9 612.7 422.8 614.3 423.5 615.6 424.8 616.4 426.3 617.9 430.7 618.5 431.9 618.7 431.8 619.1 431.2 620.7 426.2 622 424 623.6 422.6 626.3 421.8 630.5 421.4 637.9 421.2 679.5 421" fill="none" stroke="#c94f4f" stroke-width="0.95" stroke-linejoin="round"/>
<path d="M493.5 421 541.7 421.2 550.2 421.6 554.7 422.2 556.4 422.7 557.6 423.4 558.7 424.4 559.5 425.7 560.5 428.4 562.2 436 562.8 437.5 563 437.4 563.4 436.3 564.9 429.7 565.7 427.2 566.7 425.5 567.4 424.9 568.2 424.5 569 424.5 569.6 424.7 570.9 425.8 571.9 428 573.2 431.8 573.6 432.5 573.8 432.5 574.4 431.6 575.6 427.6 576.5 425.7 577.5 424.4 578.7 423.6 580.2 423.4 581.6 423.9 582.5 424.7 583.9 426.8 584.5 427.4 585.2 427 586.4 425.2 587.2 424.3 588.3 423.8 589.3 423.8 590.5 424.6 592.2 427 592.8 427.4 593.2 427.1 594.7 424.9 595.7 423.9 597 423.5 598.2 423.5 599.6 424.2 600.9 425.7 601.7 427.5 603 431.5 603.6 432.5 603.8 432.5 604.2 431.8 605.6 427.5 606.5 425.9 607.7 424.7 609 424.5 609.8 424.8 610.4 425.2 611.6 427.2 612.7 430.5 613.9 436.2 614.3 437.4 614.5 437.5 615.2 436.1 616.8 428.5 617.9 425.7 618.7 424.4 619.7 423.4 621 422.7 622.4 422.2 626.8 421.6 634.6 421.3 679.5 421" fill="none" stroke="#d56b6b" stroke-width="0.95" stroke-linejoin="round"/>
<path d="M493.5 421.2 533.6 421.7 544 422.1 551 422.9 555.8 424 559.3 425.5 562.2 427.7 566.9 432.5 568 433.1 569.2 433.3 572.9 432.7 577.1 432.4 581 430.9 582.7 430.4 589.1 430.1 595.5 430.4 597.2 430.8 601.3 432.4 605.2 432.6 608.3 433.3 609.4 433.3 610.4 433 611.4 432.4 616 427.8 618.9 425.6 622.4 424 626.8 423 633.4 422.2 643.1 421.7 679.5 421.2" fill="none" stroke="#e09090" stroke-width="0.95" stroke-linejoin="round"/>
<path d="M493.5 421 551.2 421.2 561.8 421.5 567.6 422.1 569.8 422.6 571.5 423.3 572.7 424.2 573.8 425.6 574.6 427.3 575.2 429.3 576.9 437.3 577.5 439 577.7 439 577.9 438.7 579.4 433.6 579.8 432.7 580.2 432.2 580.8 432.4 582.1 434.8 582.5 435.3 582.7 435.3 583.3 434.2 584.5 430.5 585.4 429.3 585.8 429.2 586.2 429.3 587.6 430.5 588.1 430.4 589.3 429.4 589.7 429.3 591.2 430.4 591.6 430.5 593.4 429.2 594.1 429.4 594.7 430.4 596.1 434.6 596.5 435.3 596.7 435.3 597.2 434.9 598.4 432.5 598.8 432.2 599.2 432.3 600.1 434.1 601.3 438.6 601.7 439 602.3 437.5 604 429.4 605.2 426 606.1 424.8 607.3 423.6 608.7 422.8 610.4 422.3 615.8 421.6 625.3 421.3 679.5 421" fill="none" stroke="#eec0c0" stroke-width="0.95" stroke-linejoin="round"/>
<path d="M493.5 421.1 537.8 421.4 550 421.7 558.5 422.2 564.9 422.9 569.6 423.9 573.2 425.4 575.8 427.4 577.1 428.9 578.1 430.5 579.8 434.5 581.2 440.3 582.3 447 583.7 463 586 508.2 586.4 514.1 586.8 516.6 587 516.5 587.4 513.9 588.9 498.3 589.3 496.4 589.5 496.2 589.9 497.3 590.3 500.2 591.8 515.7 592 516.6 592.2 516.6 592.4 515.6 593 507.6 595.1 465.7 596.5 448.5 597.6 441.3 599 435 600.7 430.9 601.7 429.1 603 427.6 604.2 426.5 605.6 425.5 609 424 613.5 423 619.5 422.2 627.6 421.8 639 421.5 679.5 421.1" fill="none" stroke="#c6c6c6" stroke-width="1.2" stroke-linejoin="round"/>
<path d="M493.5 421.4 516.5 421.7 531.6 422.2 541.7 423.1 545.4 423.6 548.3 424.3 550.6 425.2 552.5 426.2 553.9 427.5 554.9 429 556.4 432.5 558.3 440.1 558.9 441.2 560.1 440.9 560.7 441.8 562.4 448.5 562.8 449.4 563 449.4 563.4 448.6 564.7 444.1 565.5 442.4 565.9 442 566.5 441.8 567.2 442.1 568 442.9 569.2 445.2 571.1 451.2 573.4 456.1 574 456.8 574.8 456.4 575.2 456.5 575.6 457.1 577.1 462.5 577.5 463.5 577.7 463.5 577.9 463.3 578.9 460.8 579.4 460.2 579.8 460.3 580 460.6 580.4 461.9 581 465.2 581.6 470.4 583.5 491.1 584.5 506.2 586 532.6 586.6 539.4 586.8 540 587 539.8 587.2 538.8 588.7 522.1 589.1 518.9 589.5 518 590.1 521 591.6 540.5 592 543.8 592.2 544.1 592.6 541.7 593 535.5 594.5 502.5 595.3 488.6 596.1 480 598 465.1 598.8 461.3 599.4 460.5 600.1 461.2 601.7 467 602.1 467.2 602.5 466.6 603.6 463.8 607.5 447.8 608.1 446 609 444.4 609.6 443.6 610.4 443.1 611 443.1 611.6 443.5 612.7 445.6 614.1 450.5 614.5 450.9 615 450 616.6 443.5 617.2 442.7 618.3 442.5 618.7 441.8 620.7 433.2 622.2 429.5 623.2 428 624.7 426.6 626.3 425.6 628.6 424.6 631.3 423.9 634.8 423.3 644.3 422.4 658.4 421.8 679.5 421.4" fill="none" stroke="#d35f5f" stroke-width="1.35" stroke-linejoin="round"/>
<rect x="493.2" y="411.7" width="186.6" height="150.5" fill="none" stroke="#1a1a1a" stroke-width="1.1"/>
<line x1="493.2" y1="562.2" x2="493.2" y2="565.8" stroke="#1a1a1a" stroke-width="0.9"/>
<line x1="539.85" y1="562.2" x2="539.85" y2="565.8" stroke="#1a1a1a" stroke-width="0.9"/>
<line x1="586.5" y1="562.2" x2="586.5" y2="565.8" stroke="#1a1a1a" stroke-width="0.9"/>
<line x1="633.15" y1="562.2" x2="633.15" y2="565.8" stroke="#1a1a1a" stroke-width="0.9"/>
<line x1="679.8" y1="562.2" x2="679.8" y2="565.8" stroke="#1a1a1a" stroke-width="0.9"/>
<text x="493.2" y="574.5" font-size="10" text-anchor="middle" fill="#000" stroke="#000" stroke-width="0.06"><tspan>−10</tspan></text>
<text x="539.85" y="574.5" font-size="10" text-anchor="middle" fill="#000" stroke="#000" stroke-width="0.06"><tspan>−5</tspan></text>
<text x="586.5" y="574.5" font-size="10" text-anchor="middle" fill="#000" stroke="#000" stroke-width="0.06"><tspan>0</tspan></text>
<text x="633.15" y="574.5" font-size="10" text-anchor="middle" fill="#000" stroke="#000" stroke-width="0.06"><tspan>5</tspan></text>
<text x="679.8" y="574.5" font-size="10" text-anchor="middle" fill="#000" stroke="#000" stroke-width="0.06"><tspan>10</tspan></text>
<text x="586.5" y="589.1" font-size="12.7" text-anchor="middle" fill="#000" stroke="#000" stroke-width="0.06"><tspan>Velocity / mm s</tspan><tspan dy="-5.08" font-size="8.89">−1</tspan></text>
<text x="480.6" y="487.5" font-size="12.7" text-anchor="middle" fill="#000" stroke="#000" stroke-width="0.06" transform="rotate(-90 480.6 487.5)"><tspan>Transmission / a.u.</tspan></text>
<text x="472.3" y="426.5" font-size="15" text-anchor="start" fill="#000" stroke="#000" stroke-width="0.06"><tspan>g</tspan></text>
<g fill="none" stroke="#c9ccd0" stroke-width="0.6" stroke-opacity="1">
<circle cx="504.5" cy="490.9" r="1.3"/>
</g>
<text x="511.8" y="493.5" font-size="7.8" text-anchor="start" fill="#000" stroke="#000" stroke-width="0.06"><tspan>Raw data</tspan></text>
<line x1="498.9" y1="500.1" x2="509" y2="500.1" stroke="#d35f5f" stroke-width="1.4"/>
<text x="511.8" y="502.7" font-size="7.8" text-anchor="start" fill="#000" stroke="#000" stroke-width="0.06"><tspan>Fitting curve</tspan></text>
<line x1="498.9" y1="510.1" x2="509" y2="510.1" stroke="#c94f4f" stroke-width="1.4"/>
<text x="511.8" y="512.7" font-size="7.8" text-anchor="start" fill="#000" stroke="#000" stroke-width="0.06"><tspan font-style="italic">ε</tspan><tspan>-Fe</tspan><tspan dy="2.34" font-size="5.46">2</tspan><tspan dy="-2.34">C</tspan></text>
<line x1="498.9" y1="521.2" x2="509" y2="521.2" stroke="#d56b6b" stroke-width="1.4"/>
<text x="511.8" y="523.8" font-size="7.8" text-anchor="start" fill="#000" stroke="#000" stroke-width="0.06"><tspan font-style="italic">ε</tspan><tspan>-Fe</tspan><tspan dy="2.34" font-size="5.46">2</tspan><tspan dy="-2.34">C</tspan></text>
<line x1="498.9" y1="532.2" x2="509" y2="532.2" stroke="#e09090" stroke-width="1.4"/>
<text x="511.8" y="534.8" font-size="7.8" text-anchor="start" fill="#000" stroke="#000" stroke-width="0.06"><tspan font-style="italic">ε</tspan><tspan>-Fe</tspan><tspan dy="2.34" font-size="5.46">2.2</tspan><tspan dy="-2.34">C</tspan></text>
<line x1="498.9" y1="543.4" x2="509" y2="543.4" stroke="#eec0c0" stroke-width="1.4"/>
<text x="511.8" y="546" font-size="7.8" text-anchor="start" fill="#000" stroke="#000" stroke-width="0.06"><tspan font-style="italic">ε</tspan><tspan>-Fe</tspan><tspan dy="2.34" font-size="5.46">2</tspan><tspan dy="-2.34">C</tspan></text>
<line x1="498.9" y1="555.3" x2="509" y2="555.3" stroke="#c6c6c6" stroke-width="1.4"/>
<text x="511.8" y="557.9" font-size="7.8" text-anchor="start" fill="#000" stroke="#000" stroke-width="0.06"><tspan>Superparamagnetic iron</tspan></text>
<text x="674.2" y="554.7" font-size="9.7" text-anchor="end" fill="#000" stroke="#000" stroke-width="0.06"><tspan>K-Fe</tspan><tspan dy="2.91" font-size="6.79">2</tspan><tspan dy="-2.91">C@C</tspan></text>
</svg></body></html>
